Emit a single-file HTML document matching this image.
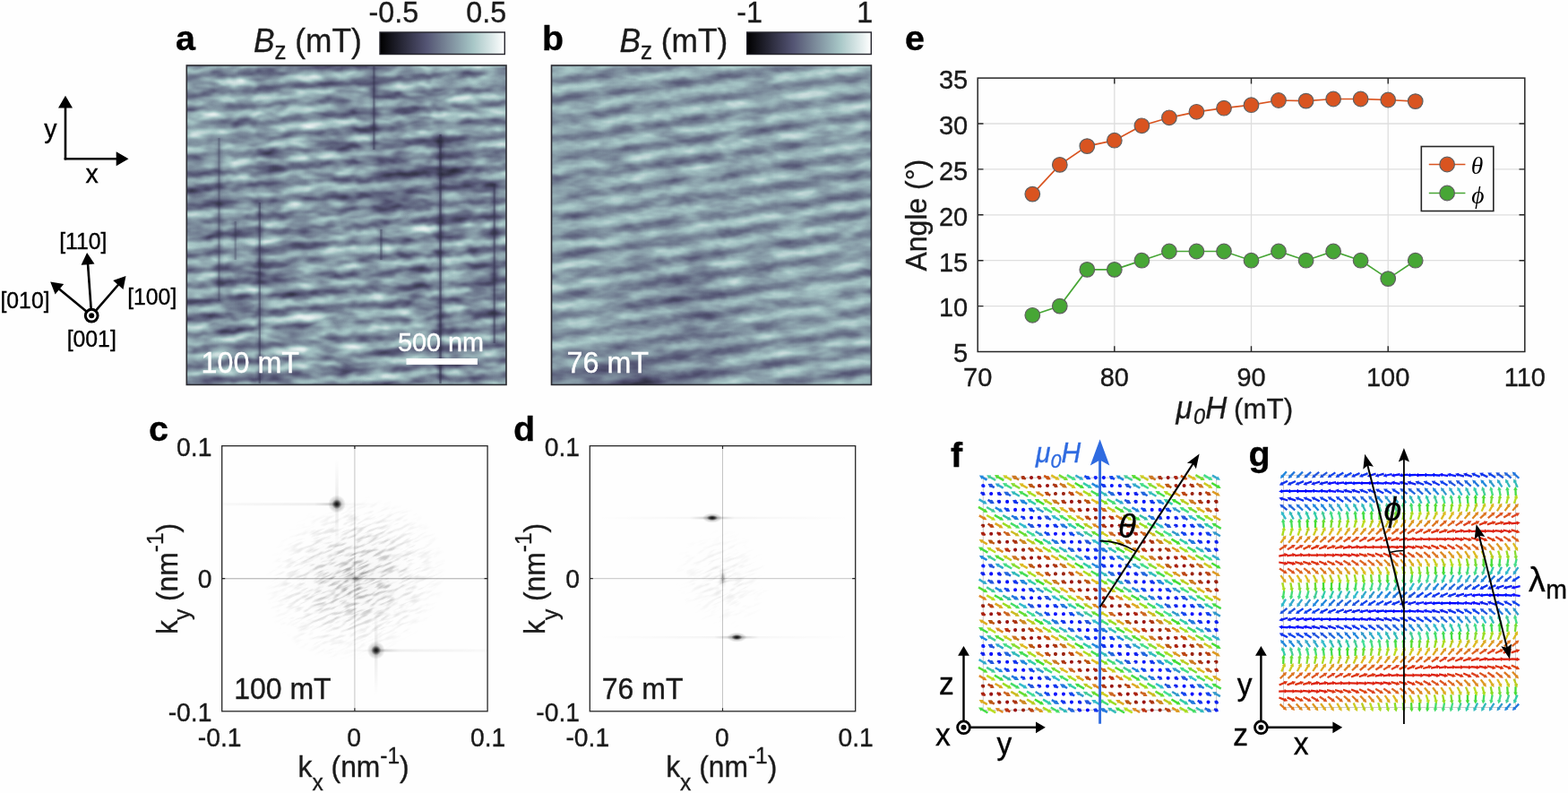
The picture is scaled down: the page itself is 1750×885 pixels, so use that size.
<!DOCTYPE html>
<html lang="en"><head><meta charset="utf-8"><title>Figure</title>
<style>html,body{margin:0;padding:0;background:#fff}svg{display:block}text{font-family:"Liberation Sans",sans-serif}</style></head>
<body>
<svg width="1750" height="885" viewBox="0 0 1750 885" fill="#1a1a1a">
<rect width="1750" height="885" fill="#fefefe"/>
<defs>
<linearGradient id="bone" x1="0" x2="1" y1="0" y2="0"><stop offset="0.0000" stop-color="#000000"/><stop offset="0.0625" stop-color="#0e0e13"/><stop offset="0.1250" stop-color="#1c1c27"/><stop offset="0.1875" stop-color="#2a2a3a"/><stop offset="0.2500" stop-color="#38384e"/><stop offset="0.3125" stop-color="#464661"/><stop offset="0.3750" stop-color="#545574"/><stop offset="0.4375" stop-color="#626881"/><stop offset="0.5000" stop-color="#707b8f"/><stop offset="0.5625" stop-color="#7e8e9d"/><stop offset="0.6250" stop-color="#8ba1ab"/><stop offset="0.6875" stop-color="#99b4b9"/><stop offset="0.7500" stop-color="#a8c7c7"/><stop offset="0.8125" stop-color="#bed5d5"/><stop offset="0.8750" stop-color="#d3e3e3"/><stop offset="0.9375" stop-color="#e9f1f1"/><stop offset="1.0000" stop-color="#ffffff"/></linearGradient>
<linearGradient id="sA" gradientUnits="userSpaceOnUse" x1="0" y1="78" x2="0" y2="95.87" spreadMethod="repeat"><stop offset="0.0000" stop-color="rgb(255,148,0)"/><stop offset="0.0833" stop-color="rgb(238,148,0)"/><stop offset="0.1667" stop-color="rgb(191,148,0)"/><stop offset="0.2500" stop-color="rgb(128,148,0)"/><stop offset="0.3333" stop-color="rgb(64,148,0)"/><stop offset="0.4167" stop-color="rgb(17,148,0)"/><stop offset="0.5000" stop-color="rgb(0,148,0)"/><stop offset="0.5833" stop-color="rgb(17,148,0)"/><stop offset="0.6667" stop-color="rgb(64,148,0)"/><stop offset="0.7500" stop-color="rgb(127,148,0)"/><stop offset="0.8333" stop-color="rgb(191,148,0)"/><stop offset="0.9167" stop-color="rgb(238,148,0)"/><stop offset="1.0000" stop-color="rgb(255,148,0)"/></linearGradient>
<linearGradient id="sB" gradientUnits="userSpaceOnUse" x1="0" y1="80" x2="0" y2="101.90" spreadMethod="repeat"><stop offset="0.0000" stop-color="rgb(255,157,0)"/><stop offset="0.0833" stop-color="rgb(238,157,0)"/><stop offset="0.1667" stop-color="rgb(191,157,0)"/><stop offset="0.2500" stop-color="rgb(128,157,0)"/><stop offset="0.3333" stop-color="rgb(64,157,0)"/><stop offset="0.4167" stop-color="rgb(17,157,0)"/><stop offset="0.5000" stop-color="rgb(0,157,0)"/><stop offset="0.5833" stop-color="rgb(17,157,0)"/><stop offset="0.6667" stop-color="rgb(64,157,0)"/><stop offset="0.7500" stop-color="rgb(127,157,0)"/><stop offset="0.8333" stop-color="rgb(191,157,0)"/><stop offset="0.9167" stop-color="rgb(238,157,0)"/><stop offset="1.0000" stop-color="rgb(255,157,0)"/></linearGradient>
<filter id="fA" filterUnits="userSpaceOnUse" x="208.3" y="73" width="356.7" height="356.4" color-interpolation-filters="sRGB">
<feTurbulence type="fractalNoise" baseFrequency="0.025 0.06" numOctaves="3" seed="3" result="n1"/>
<feColorMatrix in="n1" type="matrix" values="1 0 0 0 0  1 0 0 0 0  1 0 0 0 0  0 0 0 0 1" result="N"/>
<feTurbulence type="fractalNoise" baseFrequency="0.035 0.06" numOctaves="2" seed="7" result="n2"/>
<feColorMatrix in="n2" type="matrix" values="3.2 0 0 0 -0.9  3.2 0 0 0 -0.9  3.2 0 0 0 -0.9  0 0 0 0 1" result="E"/>
<feGaussianBlur in="SourceGraphic" stdDeviation="2.6 1.6" result="sb"/>
<feColorMatrix in="sb" type="matrix" values="1 0 0 0 0  1 0 0 0 0  1 0 0 0 0  0 0 0 0 1" result="S"/>
<feColorMatrix in="sb" type="matrix" values="0 1 0 0 0  0 1 0 0 0  0 1 0 0 0  0 0 0 0 1" result="Bs"/>
<feComposite in="S" in2="E" operator="arithmetic" k1="1" k2="0" k3="-0.5" k4="0.5" result="T"/>
<feComposite in="Bs" in2="T" operator="arithmetic" k1="0" k2="1" k3="0.44" k4="-0.220" result="U"/>
<feComposite in="U" in2="N" operator="arithmetic" k1="0" k2="1" k3="0.52" k4="-0.260" result="m"/>
<feComponentTransfer in="m"><feFuncR type="table" tableValues="0.000 0.027 0.055 0.082 0.109 0.137 0.164 0.191 0.219 0.246 0.273 0.301 0.328 0.355 0.383 0.410 0.437 0.465 0.492 0.520 0.547 0.574 0.602 0.629 0.658 0.701 0.744 0.786 0.829 0.872 0.915 0.957 1.000"/><feFuncG type="table" tableValues="0.000 0.027 0.055 0.082 0.109 0.137 0.164 0.191 0.219 0.246 0.273 0.301 0.331 0.369 0.407 0.444 0.482 0.519 0.557 0.595 0.632 0.670 0.707 0.745 0.781 0.809 0.836 0.863 0.891 0.918 0.945 0.973 1.000"/><feFuncB type="table" tableValues="0.000 0.038 0.076 0.114 0.152 0.190 0.228 0.266 0.304 0.342 0.380 0.418 0.453 0.480 0.508 0.535 0.562 0.590 0.617 0.645 0.672 0.699 0.727 0.754 0.781 0.809 0.836 0.863 0.891 0.918 0.945 0.973 1.000"/></feComponentTransfer>
</filter>
<filter id="fB" filterUnits="userSpaceOnUse" x="615.5" y="73" width="356.9" height="356.4" color-interpolation-filters="sRGB">
<feTurbulence type="fractalNoise" baseFrequency="0.03 0.08" numOctaves="3" seed="11" result="n1"/>
<feColorMatrix in="n1" type="matrix" values="1 0 0 0 0  1 0 0 0 0  1 0 0 0 0  0 0 0 0 1" result="N"/>
<feTurbulence type="fractalNoise" baseFrequency="0.03 0.05" numOctaves="2" seed="17" result="n2"/>
<feColorMatrix in="n2" type="matrix" values="2.8 0 0 0 -0.6  2.8 0 0 0 -0.6  2.8 0 0 0 -0.6  0 0 0 0 1" result="E"/>
<feGaussianBlur in="SourceGraphic" stdDeviation="2.6 1.6" result="sb"/>
<feColorMatrix in="sb" type="matrix" values="1 0 0 0 0  1 0 0 0 0  1 0 0 0 0  0 0 0 0 1" result="S"/>
<feColorMatrix in="sb" type="matrix" values="0 1 0 0 0  0 1 0 0 0  0 1 0 0 0  0 0 0 0 1" result="Bs"/>
<feComposite in="S" in2="E" operator="arithmetic" k1="1" k2="0" k3="-0.5" k4="0.5" result="T"/>
<feComposite in="Bs" in2="T" operator="arithmetic" k1="0" k2="1" k3="0.34" k4="-0.170" result="U"/>
<feComposite in="U" in2="N" operator="arithmetic" k1="0" k2="1" k3="0.3" k4="-0.150" result="m"/>
<feComponentTransfer in="m"><feFuncR type="table" tableValues="0.000 0.027 0.055 0.082 0.109 0.137 0.164 0.191 0.219 0.246 0.273 0.301 0.328 0.355 0.383 0.410 0.437 0.465 0.492 0.520 0.547 0.574 0.602 0.629 0.658 0.701 0.744 0.786 0.829 0.872 0.915 0.957 1.000"/><feFuncG type="table" tableValues="0.000 0.027 0.055 0.082 0.109 0.137 0.164 0.191 0.219 0.246 0.273 0.301 0.331 0.369 0.407 0.444 0.482 0.519 0.557 0.595 0.632 0.670 0.707 0.745 0.781 0.809 0.836 0.863 0.891 0.918 0.945 0.973 1.000"/><feFuncB type="table" tableValues="0.000 0.038 0.076 0.114 0.152 0.190 0.228 0.266 0.304 0.342 0.380 0.418 0.453 0.480 0.508 0.535 0.562 0.590 0.617 0.645 0.672 0.699 0.727 0.754 0.781 0.809 0.836 0.863 0.891 0.918 0.945 0.973 1.000"/></feComponentTransfer>
</filter>
</defs>
<path d="M73.0 178.4L73.0 119.2" stroke="#000" stroke-width="2.6" fill="none"/>
<path d="M73.0 106.8L81.0 120.6L73.0 120.6L65.0 120.6Z" fill="#000"/>
<path d="M71.7 177.2L131.1 177.2" stroke="#000" stroke-width="2.6" fill="none"/>
<path d="M143.5 177.2L129.7 185.2L129.7 177.2L129.7 169.2Z" fill="#000"/>
<text transform="translate(49.3 154.2) scale(1 1.03)" font-size="28.5" fill="#000" stroke="#000" stroke-width="0.35">y</text>
<text transform="translate(95.5 204) scale(1 1.03)" font-size="28.5" fill="#000" stroke="#000" stroke-width="0.35">x</text>
<path d="M102.2 352.2L98.0 293.8" stroke="#000" stroke-width="2.6" fill="none"/>
<path d="M97.1 282.0L105.5 294.6L98.1 295.2L90.6 295.7Z" fill="#000"/>
<path d="M102.2 352.2L65.4 321.9" stroke="#000" stroke-width="2.6" fill="none"/>
<path d="M56.2 314.4L71.2 317.0L66.4 322.8L61.6 328.6Z" fill="#000"/>
<path d="M102.2 352.2L132.7 317.0" stroke="#000" stroke-width="2.6" fill="none"/>
<path d="M140.5 308.0L137.5 322.9L131.9 318.0L126.2 313.1Z" fill="#000"/>
<circle cx="102.2" cy="352.2" r="6.9" fill="#fff" stroke="#000" stroke-width="3"/><circle cx="102.2" cy="352.2" r="3" fill="#000"/>
<text transform="translate(92.8 277.6) scale(1 1.03)" font-size="24.8" text-anchor="middle" fill="#000" stroke="#000" stroke-width="0.35">[110]</text>
<text transform="translate(28 343.8) scale(1 1.03)" font-size="24.8" text-anchor="middle" fill="#000" stroke="#000" stroke-width="0.35">[010]</text>
<text transform="translate(169.7 340.3) scale(1 1.03)" font-size="24.8" text-anchor="middle" fill="#000" stroke="#000" stroke-width="0.35">[100]</text>
<text transform="translate(102.2 386.5) scale(1 1.03)" font-size="24.8" text-anchor="middle" fill="#000" stroke="#000" stroke-width="0.35">[001]</text>
<text transform="translate(196 56) scale(1 0.96)" font-size="39.5" fill="#000" stroke="#000" stroke-width="0.35" font-weight="bold">a</text>
<text transform="translate(605 56) scale(1 0.96)" font-size="39.5" fill="#000" stroke="#000" stroke-width="0.35" font-weight="bold">b</text>
<text transform="translate(166 491.8) scale(1 0.96)" font-size="39.5" fill="#000" stroke="#000" stroke-width="0.35" font-weight="bold">c</text>
<text transform="translate(573 492) scale(1 0.96)" font-size="39.5" fill="#000" stroke="#000" stroke-width="0.35" font-weight="bold">d</text>
<text transform="translate(1010 55.5) scale(1 0.96)" font-size="39.5" fill="#000" stroke="#000" stroke-width="0.35" font-weight="bold">e</text>
<text transform="translate(1061 521) scale(1 0.96)" font-size="39.5" fill="#000" stroke="#000" stroke-width="0.35" font-weight="bold">f</text>
<text transform="translate(1393.5 520) scale(1 0.96)" font-size="39.5" fill="#000" stroke="#000" stroke-width="0.35" font-weight="bold">g</text>
<rect x="424.0" y="36" width="139.3" height="24.5" fill="url(#bone)" stroke="#24242c" stroke-width="1.4"/>
<text transform="translate(411.5 24.9) scale(1 1.03)" font-size="32.3" fill="#1a1a1a" stroke="#1a1a1a" stroke-width="0.35">-0.5</text>
<text transform="translate(565.2 24.9) scale(1 1.03)" font-size="32.3" text-anchor="end" fill="#1a1a1a" stroke="#1a1a1a" stroke-width="0.35">0.5</text>
<text transform="translate(283 58.3) scale(1 1.03)" font-size="35.3" fill="#1a1a1a" stroke="#1a1a1a" stroke-width="0.35"><tspan font-style="italic">B</tspan><tspan font-size="26" dy="7">z</tspan><tspan dy="-7"> (mT)</tspan></text>
<rect x="833.7" y="36" width="138.6" height="24.5" fill="url(#bone)" stroke="#24242c" stroke-width="1.4"/>
<text transform="translate(822.2 24.9) scale(1 1.03)" font-size="32.3" fill="#1a1a1a" stroke="#1a1a1a" stroke-width="0.35">-1</text>
<text transform="translate(974.2 24.9) scale(1 1.03)" font-size="32.3" text-anchor="end" fill="#1a1a1a" stroke="#1a1a1a" stroke-width="0.35">1</text>
<text transform="translate(691.5 58.3) scale(1 1.03)" font-size="35.3" fill="#1a1a1a" stroke="#1a1a1a" stroke-width="0.35"><tspan font-style="italic">B</tspan><tspan font-size="26" dy="7">z</tspan><tspan dy="-7"> (mT)</tspan></text>
<defs><radialGradient id="bk"><stop offset="0" stop-color="#800000" stop-opacity="1"/><stop offset="1" stop-color="#800000" stop-opacity="0"/></radialGradient><radialGradient id="bw"><stop offset="0" stop-color="#80ff00" stop-opacity="1"/><stop offset="1" stop-color="#80ff00" stop-opacity="0"/></radialGradient></defs>
<g filter="url(#fA)"><rect x="208.3" y="-60" width="6.1" height="620" fill="url(#sA)" transform="translate(0 0.4)"/><rect x="213.9" y="-60" width="6.1" height="620" fill="url(#sA)" transform="translate(0 0.5)"/><rect x="219.5" y="-60" width="6.1" height="620" fill="url(#sA)" transform="translate(0 0.0)"/><rect x="225.0" y="-60" width="6.1" height="620" fill="url(#sA)" transform="translate(0 -1.4)"/><rect x="230.6" y="-60" width="6.1" height="620" fill="url(#sA)" transform="translate(0 -1.4)"/><rect x="236.2" y="-60" width="6.1" height="620" fill="url(#sA)" transform="translate(0 -3.1)"/><rect x="241.8" y="-60" width="6.1" height="620" fill="url(#sA)" transform="translate(0 -3.1)"/><rect x="247.3" y="-60" width="6.1" height="620" fill="url(#sA)" transform="translate(0 -2.7)"/><rect x="252.9" y="-60" width="6.1" height="620" fill="url(#sA)" transform="translate(0 -4.0)"/><rect x="258.5" y="-60" width="6.1" height="620" fill="url(#sA)" transform="translate(0 -2.7)"/><rect x="264.1" y="-60" width="6.1" height="620" fill="url(#sA)" transform="translate(0 -4.9)"/><rect x="269.6" y="-60" width="6.1" height="620" fill="url(#sA)" transform="translate(0 -5.4)"/><rect x="275.2" y="-60" width="6.1" height="620" fill="url(#sA)" transform="translate(0 -5.8)"/><rect x="280.8" y="-60" width="6.1" height="620" fill="url(#sA)" transform="translate(0 -4.4)"/><rect x="286.4" y="-60" width="6.1" height="620" fill="url(#sA)" transform="translate(0 -6.3)"/><rect x="291.9" y="-60" width="6.1" height="620" fill="url(#sA)" transform="translate(0 -5.1)"/><rect x="297.5" y="-60" width="6.1" height="620" fill="url(#sA)" transform="translate(0 -5.3)"/><rect x="303.1" y="-60" width="6.1" height="620" fill="url(#sA)" transform="translate(0 -6.4)"/><rect x="308.7" y="-60" width="6.1" height="620" fill="url(#sA)" transform="translate(0 -6.2)"/><rect x="314.2" y="-60" width="6.1" height="620" fill="url(#sA)" transform="translate(0 -6.5)"/><rect x="319.8" y="-60" width="6.1" height="620" fill="url(#sA)" transform="translate(0 -8.5)"/><rect x="325.4" y="-60" width="6.1" height="620" fill="url(#sA)" transform="translate(0 -9.2)"/><rect x="331.0" y="-60" width="6.1" height="620" fill="url(#sA)" transform="translate(0 -9.8)"/><rect x="336.5" y="-60" width="6.1" height="620" fill="url(#sA)" transform="translate(0 -8.9)"/><rect x="342.1" y="-60" width="6.1" height="620" fill="url(#sA)" transform="translate(0 -9.1)"/><rect x="347.7" y="-60" width="6.1" height="620" fill="url(#sA)" transform="translate(0 -10.4)"/><rect x="353.2" y="-60" width="6.1" height="620" fill="url(#sA)" transform="translate(0 -10.4)"/><rect x="358.8" y="-60" width="6.1" height="620" fill="url(#sA)" transform="translate(0 -10.8)"/><rect x="364.4" y="-60" width="6.1" height="620" fill="url(#sA)" transform="translate(0 -12.2)"/><rect x="370.0" y="-60" width="6.1" height="620" fill="url(#sA)" transform="translate(0 -12.6)"/><rect x="375.6" y="-60" width="6.1" height="620" fill="url(#sA)" transform="translate(0 -11.1)"/><rect x="381.1" y="-60" width="6.1" height="620" fill="url(#sA)" transform="translate(0 -11.6)"/><rect x="386.7" y="-60" width="6.1" height="620" fill="url(#sA)" transform="translate(0 -12.5)"/><rect x="392.3" y="-60" width="6.1" height="620" fill="url(#sA)" transform="translate(0 -14.1)"/><rect x="397.8" y="-60" width="6.1" height="620" fill="url(#sA)" transform="translate(0 -12.4)"/><rect x="403.4" y="-60" width="6.1" height="620" fill="url(#sA)" transform="translate(0 -13.2)"/><rect x="409.0" y="-60" width="6.1" height="620" fill="url(#sA)" transform="translate(0 -13.2)"/><rect x="414.6" y="-60" width="6.1" height="620" fill="url(#sA)" transform="translate(0 -15.0)"/><rect x="420.1" y="-60" width="6.1" height="620" fill="url(#sA)" transform="translate(0 -14.3)"/><rect x="425.7" y="-60" width="6.1" height="620" fill="url(#sA)" transform="translate(0 -14.8)"/><rect x="431.3" y="-60" width="6.1" height="620" fill="url(#sA)" transform="translate(0 -14.9)"/><rect x="436.9" y="-60" width="6.1" height="620" fill="url(#sA)" transform="translate(0 -15.1)"/><rect x="442.4" y="-60" width="6.1" height="620" fill="url(#sA)" transform="translate(0 -16.9)"/><rect x="448.0" y="-60" width="6.1" height="620" fill="url(#sA)" transform="translate(0 -16.0)"/><rect x="453.6" y="-60" width="6.1" height="620" fill="url(#sA)" transform="translate(0 -16.3)"/><rect x="459.2" y="-60" width="6.1" height="620" fill="url(#sA)" transform="translate(0 -18.2)"/><rect x="464.7" y="-60" width="6.1" height="620" fill="url(#sA)" transform="translate(0 -18.9)"/><rect x="470.3" y="-60" width="6.1" height="620" fill="url(#sA)" transform="translate(0 -19.4)"/><rect x="475.9" y="-60" width="6.1" height="620" fill="url(#sA)" transform="translate(0 -17.7)"/><rect x="481.5" y="-60" width="6.1" height="620" fill="url(#sA)" transform="translate(0 -20.4)"/><rect x="487.0" y="-60" width="6.1" height="620" fill="url(#sA)" transform="translate(0 -19.6)"/><rect x="492.6" y="-60" width="6.1" height="620" fill="url(#sA)" transform="translate(0 -20.7)"/><rect x="498.2" y="-60" width="6.1" height="620" fill="url(#sA)" transform="translate(0 -19.7)"/><rect x="503.8" y="-60" width="6.1" height="620" fill="url(#sA)" transform="translate(0 -21.0)"/><rect x="509.3" y="-60" width="6.1" height="620" fill="url(#sA)" transform="translate(0 -20.2)"/><rect x="514.9" y="-60" width="6.1" height="620" fill="url(#sA)" transform="translate(0 -21.6)"/><rect x="520.5" y="-60" width="6.1" height="620" fill="url(#sA)" transform="translate(0 -22.9)"/><rect x="526.0" y="-60" width="6.1" height="620" fill="url(#sA)" transform="translate(0 -21.3)"/><rect x="531.6" y="-60" width="6.1" height="620" fill="url(#sA)" transform="translate(0 -22.1)"/><rect x="537.2" y="-60" width="6.1" height="620" fill="url(#sA)" transform="translate(0 -23.4)"/><rect x="542.8" y="-60" width="6.1" height="620" fill="url(#sA)" transform="translate(0 -22.8)"/><rect x="548.3" y="-60" width="6.1" height="620" fill="url(#sA)" transform="translate(0 -24.1)"/><rect x="553.9" y="-60" width="6.1" height="620" fill="url(#sA)" transform="translate(0 -23.5)"/><rect x="559.5" y="-60" width="6.0" height="620" fill="url(#sA)" transform="translate(0 -24.9)"/><ellipse cx="440" cy="200" rx="60" ry="60" fill="url(#bk)" opacity="0.25"/><ellipse cx="510" cy="190" rx="50" ry="70" fill="url(#bk)" opacity="0.22"/><ellipse cx="250" cy="215" rx="45" ry="40" fill="url(#bk)" opacity="0.12"/><ellipse cx="545" cy="330" rx="30" ry="80" fill="url(#bk)" opacity="0.15"/><ellipse cx="420" cy="110" rx="40" ry="40" fill="url(#bk)" opacity="0.12"/><ellipse cx="330" cy="300" rx="50" ry="40" fill="url(#bk)" opacity="0.12"/><ellipse cx="250" cy="150" rx="50" ry="50" fill="url(#bw)" opacity="0.2"/><ellipse cx="380" cy="370" rx="70" ry="50" fill="url(#bw)" opacity="0.18"/><ellipse cx="320" cy="120" rx="50" ry="40" fill="url(#bw)" opacity="0.15"/><ellipse cx="240" cy="400" rx="50" ry="30" fill="url(#bw)" opacity="0.15"/><ellipse cx="540" cy="130" rx="40" ry="50" fill="url(#bw)" opacity="0.15"/><rect x="242.5" y="154" width="4" height="182" fill="#800000" opacity="0.25"/><rect x="287.8" y="226" width="4" height="199" fill="#800000" opacity="0.33"/><rect x="260.7" y="247" width="4" height="43" fill="#800000" opacity="0.22"/><rect x="415.4" y="73" width="4" height="94" fill="#800000" opacity="0.33"/><rect x="423.4" y="256" width="4" height="34" fill="#800000" opacity="0.3"/><rect x="489.5" y="150" width="4" height="275" fill="#800000" opacity="0.42"/><rect x="549.7" y="205" width="4" height="178" fill="#800000" opacity="0.33"/></g>
<rect x="208.3" y="73" width="356.7" height="356.4" fill="none" stroke="#2a2a30" stroke-width="1.6"/>
<g fill="#2f2f4a"><rect x="243.3" y="154" width="2.4" height="182" opacity="0.28"/><rect x="288.6" y="226" width="2.4" height="202" opacity="0.4"/><rect x="261.5" y="247" width="2.4" height="43" opacity="0.25"/><rect x="416.2" y="74" width="2.4" height="93" opacity="0.4"/><rect x="424.2" y="256" width="2.4" height="34" opacity="0.35"/><rect x="490.3" y="150" width="2.4" height="278" opacity="0.5"/><rect x="550.5" y="205" width="2.4" height="178" opacity="0.4"/></g>
<g filter="url(#fB)"><rect x="615.5" y="-60" width="6.1" height="620" fill="url(#sB)" transform="translate(0 -0.6)"/><rect x="621.1" y="-60" width="6.1" height="620" fill="url(#sB)" transform="translate(0 -0.5)"/><rect x="626.6" y="-60" width="6.1" height="620" fill="url(#sB)" transform="translate(0 -2.0)"/><rect x="632.2" y="-60" width="6.1" height="620" fill="url(#sB)" transform="translate(0 -3.5)"/><rect x="637.8" y="-60" width="6.1" height="620" fill="url(#sB)" transform="translate(0 -3.3)"/><rect x="643.4" y="-60" width="6.1" height="620" fill="url(#sB)" transform="translate(0 -4.5)"/><rect x="648.9" y="-60" width="6.1" height="620" fill="url(#sB)" transform="translate(0 -5.2)"/><rect x="654.5" y="-60" width="6.1" height="620" fill="url(#sB)" transform="translate(0 -6.5)"/><rect x="660.1" y="-60" width="6.1" height="620" fill="url(#sB)" transform="translate(0 -7.4)"/><rect x="665.7" y="-60" width="6.1" height="620" fill="url(#sB)" transform="translate(0 -6.7)"/><rect x="671.2" y="-60" width="6.1" height="620" fill="url(#sB)" transform="translate(0 -7.7)"/><rect x="676.8" y="-60" width="6.1" height="620" fill="url(#sB)" transform="translate(0 -8.6)"/><rect x="682.4" y="-60" width="6.1" height="620" fill="url(#sB)" transform="translate(0 -10.2)"/><rect x="688.0" y="-60" width="6.1" height="620" fill="url(#sB)" transform="translate(0 -10.2)"/><rect x="693.5" y="-60" width="6.1" height="620" fill="url(#sB)" transform="translate(0 -12.1)"/><rect x="699.1" y="-60" width="6.1" height="620" fill="url(#sB)" transform="translate(0 -12.7)"/><rect x="704.7" y="-60" width="6.1" height="620" fill="url(#sB)" transform="translate(0 -12.4)"/><rect x="710.3" y="-60" width="6.1" height="620" fill="url(#sB)" transform="translate(0 -13.0)"/><rect x="715.8" y="-60" width="6.1" height="620" fill="url(#sB)" transform="translate(0 -15.3)"/><rect x="721.4" y="-60" width="6.1" height="620" fill="url(#sB)" transform="translate(0 -15.3)"/><rect x="727.0" y="-60" width="6.1" height="620" fill="url(#sB)" transform="translate(0 -16.2)"/><rect x="732.6" y="-60" width="6.1" height="620" fill="url(#sB)" transform="translate(0 -17.5)"/><rect x="738.1" y="-60" width="6.1" height="620" fill="url(#sB)" transform="translate(0 -18.3)"/><rect x="743.7" y="-60" width="6.1" height="620" fill="url(#sB)" transform="translate(0 -17.7)"/><rect x="749.3" y="-60" width="6.1" height="620" fill="url(#sB)" transform="translate(0 -20.1)"/><rect x="754.9" y="-60" width="6.1" height="620" fill="url(#sB)" transform="translate(0 -19.9)"/><rect x="760.4" y="-60" width="6.1" height="620" fill="url(#sB)" transform="translate(0 -21.5)"/><rect x="766.0" y="-60" width="6.1" height="620" fill="url(#sB)" transform="translate(0 -20.8)"/><rect x="771.6" y="-60" width="6.1" height="620" fill="url(#sB)" transform="translate(0 -22.5)"/><rect x="777.1" y="-60" width="6.1" height="620" fill="url(#sB)" transform="translate(0 -23.8)"/><rect x="782.7" y="-60" width="6.1" height="620" fill="url(#sB)" transform="translate(0 -24.5)"/><rect x="788.3" y="-60" width="6.1" height="620" fill="url(#sB)" transform="translate(0 -23.9)"/><rect x="793.9" y="-60" width="6.1" height="620" fill="url(#sB)" transform="translate(0 -25.4)"/><rect x="799.4" y="-60" width="6.1" height="620" fill="url(#sB)" transform="translate(0 -26.9)"/><rect x="805.0" y="-60" width="6.1" height="620" fill="url(#sB)" transform="translate(0 -26.1)"/><rect x="810.6" y="-60" width="6.1" height="620" fill="url(#sB)" transform="translate(0 -28.5)"/><rect x="816.2" y="-60" width="6.1" height="620" fill="url(#sB)" transform="translate(0 -27.8)"/><rect x="821.8" y="-60" width="6.1" height="620" fill="url(#sB)" transform="translate(0 -29.2)"/><rect x="827.3" y="-60" width="6.1" height="620" fill="url(#sB)" transform="translate(0 -30.4)"/><rect x="832.9" y="-60" width="6.1" height="620" fill="url(#sB)" transform="translate(0 -30.8)"/><rect x="838.5" y="-60" width="6.1" height="620" fill="url(#sB)" transform="translate(0 -32.5)"/><rect x="844.0" y="-60" width="6.1" height="620" fill="url(#sB)" transform="translate(0 -31.9)"/><rect x="849.6" y="-60" width="6.1" height="620" fill="url(#sB)" transform="translate(0 -33.4)"/><rect x="855.2" y="-60" width="6.1" height="620" fill="url(#sB)" transform="translate(0 -33.2)"/><rect x="860.8" y="-60" width="6.1" height="620" fill="url(#sB)" transform="translate(0 -35.7)"/><rect x="866.3" y="-60" width="6.1" height="620" fill="url(#sB)" transform="translate(0 -36.0)"/><rect x="871.9" y="-60" width="6.1" height="620" fill="url(#sB)" transform="translate(0 -36.9)"/><rect x="877.5" y="-60" width="6.1" height="620" fill="url(#sB)" transform="translate(0 -37.5)"/><rect x="883.1" y="-60" width="6.1" height="620" fill="url(#sB)" transform="translate(0 -37.8)"/><rect x="888.6" y="-60" width="6.1" height="620" fill="url(#sB)" transform="translate(0 -38.3)"/><rect x="894.2" y="-60" width="6.1" height="620" fill="url(#sB)" transform="translate(0 -39.1)"/><rect x="899.8" y="-60" width="6.1" height="620" fill="url(#sB)" transform="translate(0 -40.4)"/><rect x="905.4" y="-60" width="6.1" height="620" fill="url(#sB)" transform="translate(0 -41.6)"/><rect x="910.9" y="-60" width="6.1" height="620" fill="url(#sB)" transform="translate(0 -42.0)"/><rect x="916.5" y="-60" width="6.1" height="620" fill="url(#sB)" transform="translate(0 -41.9)"/><rect x="922.1" y="-60" width="6.1" height="620" fill="url(#sB)" transform="translate(0 -43.7)"/><rect x="927.7" y="-60" width="6.1" height="620" fill="url(#sB)" transform="translate(0 -44.5)"/><rect x="933.2" y="-60" width="6.1" height="620" fill="url(#sB)" transform="translate(0 -45.6)"/><rect x="938.8" y="-60" width="6.1" height="620" fill="url(#sB)" transform="translate(0 -46.3)"/><rect x="944.4" y="-60" width="6.1" height="620" fill="url(#sB)" transform="translate(0 -45.8)"/><rect x="950.0" y="-60" width="6.1" height="620" fill="url(#sB)" transform="translate(0 -46.6)"/><rect x="955.5" y="-60" width="6.1" height="620" fill="url(#sB)" transform="translate(0 -48.0)"/><rect x="961.1" y="-60" width="6.1" height="620" fill="url(#sB)" transform="translate(0 -49.8)"/><rect x="966.7" y="-60" width="6.1" height="620" fill="url(#sB)" transform="translate(0 -49.9)"/><rect x="972.3" y="-60" width="0.6" height="620" fill="url(#sB)" transform="translate(0 -49.3)"/><ellipse cx="700" cy="430" rx="120" ry="50" fill="url(#bk)" opacity="0.4"/><ellipse cx="760" cy="330" rx="90" ry="60" fill="url(#bk)" opacity="0.18"/><ellipse cx="790" cy="390" rx="60" ry="50" fill="url(#bk)" opacity="0.15"/><ellipse cx="900" cy="110" rx="90" ry="70" fill="url(#bw)" opacity="0.12"/><ellipse cx="650" cy="360" rx="50" ry="30" fill="url(#bw)" opacity="0.12"/><ellipse cx="930" cy="330" rx="50" ry="60" fill="url(#bw)" opacity="0.1"/></g>
<rect x="615.5" y="73" width="356.9" height="356.4" fill="none" stroke="#2a2a30" stroke-width="1.6"/>
<text transform="translate(224.6 416.2) scale(1 1.03)" font-size="32.3" fill="#fff" stroke="#fff" stroke-width="0.35">100 mT</text>
<text transform="translate(632.6 416.2) scale(1 1.03)" font-size="32.3" fill="#fff" stroke="#fff" stroke-width="0.35">76 mT</text>
<text transform="translate(492.1 391.6) scale(1 1.03)" font-size="28.8" text-anchor="middle" fill="#fff" stroke="#fff" stroke-width="0.35">500 nm</text>
<rect x="453.5" y="400" width="79.4" height="6.9" fill="#fff"/>
<defs><radialGradient id="sp"><stop offset="0" stop-color="#000" stop-opacity="1"/><stop offset="0.25" stop-color="#000" stop-opacity="0.75"/><stop offset="0.55" stop-color="#000" stop-opacity="0.2"/><stop offset="1" stop-color="#000" stop-opacity="0"/></radialGradient><radialGradient id="hz"><stop offset="0" stop-color="#000" stop-opacity="0.16"/><stop offset="0.5" stop-color="#000" stop-opacity="0.07"/><stop offset="1" stop-color="#000" stop-opacity="0"/></radialGradient></defs>
<filter id="spk" x="-0.1" y="-0.1" width="1.2" height="1.2" color-interpolation-filters="sRGB"><feTurbulence type="fractalNoise" baseFrequency="0.07 0.3" numOctaves="2" seed="5" result="n"/><feColorMatrix in="n" type="matrix" values="0 0 0 0 0  0 0 0 0 0  0 0 0 0 0  3.2 0 0 0 -1.45" result="a"/><feComposite in="a" in2="SourceGraphic" operator="in"/></filter>
<radialGradient id="hm"><stop offset="0" stop-color="#000" stop-opacity="1"/><stop offset="0.35" stop-color="#000" stop-opacity="0.6"/><stop offset="0.7" stop-color="#000" stop-opacity="0.25"/><stop offset="1" stop-color="#000" stop-opacity="0"/></radialGradient>
<linearGradient id="stL" x1="0" x2="1"><stop offset="0" stop-color="#000" stop-opacity="0.02"/><stop offset="0.8" stop-color="#000" stop-opacity="0.06"/><stop offset="1" stop-color="#000" stop-opacity="0.2"/></linearGradient>
<linearGradient id="stR" x1="1" x2="0"><stop offset="0" stop-color="#000" stop-opacity="0.02"/><stop offset="0.8" stop-color="#000" stop-opacity="0.06"/><stop offset="1" stop-color="#000" stop-opacity="0.2"/></linearGradient>
<linearGradient id="stV" x1="0" x2="0" y1="0" y2="1"><stop offset="0" stop-color="#000" stop-opacity="0"/><stop offset="0.5" stop-color="#000" stop-opacity="0.08"/><stop offset="1" stop-color="#000" stop-opacity="0"/></linearGradient>
<linearGradient id="stH" x1="0" x2="1"><stop offset="0" stop-color="#000" stop-opacity="0"/><stop offset="0.5" stop-color="#000" stop-opacity="0.2"/><stop offset="1" stop-color="#000" stop-opacity="0"/></linearGradient>
<rect x="247.7" y="497.6" width="296.3999999999999" height="296.19999999999993" fill="#fefefe"/>
<path d="M395.9 497.6V793.8M247.7 645.7H544.0999999999999" stroke="#c4c4c4" stroke-width="1" fill="none"/>
<g transform="rotate(-24 397 646)"><ellipse cx="397" cy="646" rx="105" ry="90" fill="url(#hm)" filter="url(#spk)" opacity="0.36"/></g><ellipse cx="397" cy="646" rx="70" ry="60" fill="url(#hz)" opacity="0.25"/><rect x="249" y="561.2" width="127" height="3" fill="url(#stL)"/><rect x="376" y="561.5" width="40" height="2.4" fill="url(#stR)" opacity="0.5"/><rect x="420" y="724.5" width="124" height="3" fill="url(#stR)"/><rect x="385" y="724.8" width="35" height="2.4" fill="url(#stL)" opacity="0.5"/><rect x="374.3" y="512" width="3.4" height="100" fill="url(#stV)"/><rect x="418" y="676" width="3.4" height="100" fill="url(#stV)"/><ellipse cx="376" cy="562.6" rx="10" ry="10" fill="url(#sp)" opacity="0.95"/><ellipse cx="419.7" cy="725.8" rx="10" ry="10" fill="url(#sp)" opacity="0.95"/><ellipse cx="397" cy="646" rx="8" ry="5" fill="url(#sp)" opacity="0.45"/><path d="M248 645.9H544" stroke="#000" stroke-opacity="0.07" stroke-width="1.8"/>
<rect x="247.7" y="497.6" width="296.3999999999999" height="296.19999999999993" fill="none" stroke="#262626" stroke-width="1.3"/>
<path d="M395.9 497.6v3.5M395.9 793.8v-3.5M247.7 645.7h3.5M544.0999999999999 645.7h-3.5" stroke="#262626" stroke-width="1.2" fill="none"/>
<text transform="translate(236.39999999999998 508.8) scale(1 1.03)" font-size="28.3" text-anchor="end" fill="#1a1a1a" stroke="#1a1a1a" stroke-width="0.35">0.1</text>
<text transform="translate(236.39999999999998 655.8) scale(1 1.03)" font-size="28.3" text-anchor="end" fill="#1a1a1a" stroke="#1a1a1a" stroke-width="0.35">0</text>
<text transform="translate(236.39999999999998 805.2) scale(1 1.03)" font-size="28.3" text-anchor="end" fill="#1a1a1a" stroke="#1a1a1a" stroke-width="0.35">-0.1</text>
<text transform="translate(245.2 832.6) scale(1 1.03)" font-size="28.3" text-anchor="middle" fill="#1a1a1a" stroke="#1a1a1a" stroke-width="0.35">-0.1</text>
<text transform="translate(395.2 832.6) scale(1 1.03)" font-size="28.3" text-anchor="middle" fill="#1a1a1a" stroke="#1a1a1a" stroke-width="0.35">0</text>
<text transform="translate(544.5999999999999 832.6) scale(1 1.03)" font-size="28.3" text-anchor="middle" fill="#1a1a1a" stroke="#1a1a1a" stroke-width="0.35">0.1</text>
<text transform="translate(332.59999999999997 867.1) scale(1 1.03)" font-size="31.8" fill="#1a1a1a" stroke="#1a1a1a" stroke-width="0.35">k<tspan font-size="24.5" dy="14.5">x</tspan><tspan dy="-14.5"> (nm</tspan><tspan font-size="24.5" dy="-15">-1</tspan><tspan dy="15">)</tspan></text>
<text transform="translate(197.5 708.0) rotate(-90) scale(1 1.03)" font-size="31.8" fill="#1a1a1a" stroke="#1a1a1a" stroke-width="0.35">k<tspan font-size="24.5" dy="14.5">y</tspan><tspan dy="-14.5"> (nm</tspan><tspan font-size="24.5" dy="-15">-1</tspan><tspan dy="15">)</tspan></text>
<text transform="translate(261.2 780) scale(1 1.03)" font-size="32" fill="#1a1a1a" stroke="#1a1a1a" stroke-width="0.35">100 mT</text>
<rect x="658.3" y="497.6" width="296.4" height="296.19999999999993" fill="#fefefe"/>
<path d="M806.5 497.6V793.8M658.3 645.7H954.6999999999999" stroke="#c4c4c4" stroke-width="1" fill="none"/>
<g transform="rotate(-24 806 646)"><ellipse cx="806" cy="646" rx="55" ry="60" fill="url(#hm)" filter="url(#spk)" opacity="0.1"/></g><rect x="665" y="576.8" width="285" height="2.4" fill="url(#stH)" opacity="0.2"/><rect x="665" y="710" width="285" height="2.4" fill="url(#stH)" opacity="0.2"/><rect x="770" y="576.6" width="50" height="2.8" fill="url(#stH)" opacity="0.9"/><rect x="797" y="709.8" width="50" height="2.8" fill="url(#stH)" opacity="0.9"/><ellipse cx="794.9" cy="578" rx="11" ry="5.5" fill="url(#sp)" opacity="0.95"/><ellipse cx="822.4" cy="711.2" rx="11" ry="5.5" fill="url(#sp)" opacity="0.95"/><ellipse cx="806.8" cy="645" rx="5" ry="12" fill="url(#sp)" opacity="0.3"/>
<rect x="658.3" y="497.6" width="296.4" height="296.19999999999993" fill="none" stroke="#262626" stroke-width="1.3"/>
<path d="M806.5 497.6v3.5M806.5 793.8v-3.5M658.3 645.7h3.5M954.6999999999999 645.7h-3.5" stroke="#262626" stroke-width="1.2" fill="none"/>
<text transform="translate(647.0 508.8) scale(1 1.03)" font-size="28.3" text-anchor="end" fill="#1a1a1a" stroke="#1a1a1a" stroke-width="0.35">0.1</text>
<text transform="translate(647.0 655.8) scale(1 1.03)" font-size="28.3" text-anchor="end" fill="#1a1a1a" stroke="#1a1a1a" stroke-width="0.35">0</text>
<text transform="translate(647.0 805.2) scale(1 1.03)" font-size="28.3" text-anchor="end" fill="#1a1a1a" stroke="#1a1a1a" stroke-width="0.35">-0.1</text>
<text transform="translate(655.8 832.6) scale(1 1.03)" font-size="28.3" text-anchor="middle" fill="#1a1a1a" stroke="#1a1a1a" stroke-width="0.35">-0.1</text>
<text transform="translate(805.8 832.6) scale(1 1.03)" font-size="28.3" text-anchor="middle" fill="#1a1a1a" stroke="#1a1a1a" stroke-width="0.35">0</text>
<text transform="translate(955.1999999999999 832.6) scale(1 1.03)" font-size="28.3" text-anchor="middle" fill="#1a1a1a" stroke="#1a1a1a" stroke-width="0.35">0.1</text>
<text transform="translate(743.2 867.1) scale(1 1.03)" font-size="31.8" fill="#1a1a1a" stroke="#1a1a1a" stroke-width="0.35">k<tspan font-size="24.5" dy="14.5">x</tspan><tspan dy="-14.5"> (nm</tspan><tspan font-size="24.5" dy="-15">-1</tspan><tspan dy="15">)</tspan></text>
<text transform="translate(608.0999999999999 708.0) rotate(-90) scale(1 1.03)" font-size="31.8" fill="#1a1a1a" stroke="#1a1a1a" stroke-width="0.35">k<tspan font-size="24.5" dy="14.5">y</tspan><tspan dy="-14.5"> (nm</tspan><tspan font-size="24.5" dy="-15">-1</tspan><tspan dy="15">)</tspan></text>
<text transform="translate(671.8 780) scale(1 1.03)" font-size="32" fill="#1a1a1a" stroke="#1a1a1a" stroke-width="0.35">76 mT</text>
<path d="M1243.8 87.1V392.5M1396.5 87.1V392.5M1549.2 87.1V392.5M1091.2 341.6H1701.8M1091.2 290.7H1701.8M1091.2 239.8H1701.8M1091.2 188.9H1701.8M1091.2 138.0H1701.8" stroke="#dedede" stroke-width="1.3" fill="none"/>
<rect x="1091.2" y="87.1" width="610.5999999999999" height="305.4" fill="none" stroke="#262626" stroke-width="1.5"/>
<path d="M1243.8 87.1v6.3M1243.8 392.5v-6.3M1396.5 87.1v6.3M1396.5 392.5v-6.3M1549.2 87.1v6.3M1549.2 392.5v-6.3M1091.2 341.6h6.3M1701.8 341.6h-6.3M1091.2 290.7h6.3M1701.8 290.7h-6.3M1091.2 239.8h6.3M1701.8 239.8h-6.3M1091.2 188.9h6.3M1701.8 188.9h-6.3M1091.2 138.0h6.3M1701.8 138.0h-6.3" stroke="#262626" stroke-width="1.4" fill="none"/>
<text transform="translate(1080.2 404.3) scale(1 1.03)" font-size="29" text-anchor="end" fill="#1a1a1a" stroke="#1a1a1a" stroke-width="0.35">5</text>
<text transform="translate(1080.2 353.40000000000003) scale(1 1.03)" font-size="29" text-anchor="end" fill="#1a1a1a" stroke="#1a1a1a" stroke-width="0.35">10</text>
<text transform="translate(1080.2 302.5) scale(1 1.03)" font-size="29" text-anchor="end" fill="#1a1a1a" stroke="#1a1a1a" stroke-width="0.35">15</text>
<text transform="translate(1080.2 251.60000000000002) scale(1 1.03)" font-size="29" text-anchor="end" fill="#1a1a1a" stroke="#1a1a1a" stroke-width="0.35">20</text>
<text transform="translate(1080.2 200.70000000000002) scale(1 1.03)" font-size="29" text-anchor="end" fill="#1a1a1a" stroke="#1a1a1a" stroke-width="0.35">25</text>
<text transform="translate(1080.2 149.80000000000004) scale(1 1.03)" font-size="29" text-anchor="end" fill="#1a1a1a" stroke="#1a1a1a" stroke-width="0.35">30</text>
<text transform="translate(1080.2 98.90000000000002) scale(1 1.03)" font-size="29" text-anchor="end" fill="#1a1a1a" stroke="#1a1a1a" stroke-width="0.35">35</text>
<text transform="translate(1091.2 431.4) scale(1 1.03)" font-size="29" text-anchor="middle" fill="#1a1a1a" stroke="#1a1a1a" stroke-width="0.35">70</text>
<text transform="translate(1243.85 431.4) scale(1 1.03)" font-size="29" text-anchor="middle" fill="#1a1a1a" stroke="#1a1a1a" stroke-width="0.35">80</text>
<text transform="translate(1396.5 431.4) scale(1 1.03)" font-size="29" text-anchor="middle" fill="#1a1a1a" stroke="#1a1a1a" stroke-width="0.35">90</text>
<text transform="translate(1549.15 431.4) scale(1 1.03)" font-size="29" text-anchor="middle" fill="#1a1a1a" stroke="#1a1a1a" stroke-width="0.35">100</text>
<text transform="translate(1701.8 431.4) scale(1 1.03)" font-size="29" text-anchor="middle" fill="#1a1a1a" stroke="#1a1a1a" stroke-width="0.35">110</text>
<text transform="translate(1033.8 240.2) rotate(-90) scale(1 1.03)" font-size="32" text-anchor="middle" fill="#1a1a1a" stroke="#1a1a1a" stroke-width="0.35">Angle (°)</text>
<text transform="translate(1312.5 466.6) scale(1 1.03)" font-size="32" fill="#1a1a1a" stroke="#1a1a1a" stroke-width="0.35"><tspan font-style="italic" font-size="33.3">μ</tspan><tspan font-style="italic" font-size="23.5" dy="6" dx="1.2">0</tspan><tspan font-style="italic" font-size="33.3" dy="-6" dx="0.3">H</tspan><tspan font-size="31.3" dx="-1"> (mT)</tspan></text>
<path d="M1152.3 216.6L1182.8 183.9L1213.3 163.1L1243.8 156.7L1274.4 140.3L1304.9 131.3L1335.4 124.8L1366.0 120.7L1396.5 117.2L1427.0 112.0L1457.6 112.6L1488.1 110.5L1518.6 110.5L1549.2 111.5L1579.7 113.1" stroke="#d95420" stroke-width="1.7" fill="none"/>
<g fill="#d95420" stroke="#606060" stroke-width="1.2"><circle cx="1152.3" cy="216.6" r="8.3"/><circle cx="1182.8" cy="183.9" r="8.3"/><circle cx="1213.3" cy="163.1" r="8.3"/><circle cx="1243.8" cy="156.7" r="8.3"/><circle cx="1274.4" cy="140.3" r="8.3"/><circle cx="1304.9" cy="131.3" r="8.3"/><circle cx="1335.4" cy="124.8" r="8.3"/><circle cx="1366.0" cy="120.7" r="8.3"/><circle cx="1396.5" cy="117.2" r="8.3"/><circle cx="1427.0" cy="112.0" r="8.3"/><circle cx="1457.6" cy="112.6" r="8.3"/><circle cx="1488.1" cy="110.5" r="8.3"/><circle cx="1518.6" cy="110.5" r="8.3"/><circle cx="1549.2" cy="111.5" r="8.3"/><circle cx="1579.7" cy="113.1" r="8.3"/></g>
<path d="M1152.3 351.8L1182.8 341.6L1213.3 300.9L1243.8 300.9L1274.4 290.7L1304.9 280.5L1335.4 280.5L1366.0 280.5L1396.5 290.7L1427.0 280.5L1457.6 290.7L1488.1 280.5L1518.6 290.7L1549.2 311.1L1579.7 290.7" stroke="#47a635" stroke-width="1.7" fill="none"/>
<g fill="#47a635" stroke="#606060" stroke-width="1.2"><circle cx="1152.3" cy="351.8" r="8.3"/><circle cx="1182.8" cy="341.6" r="8.3"/><circle cx="1213.3" cy="300.9" r="8.3"/><circle cx="1243.8" cy="300.9" r="8.3"/><circle cx="1274.4" cy="290.7" r="8.3"/><circle cx="1304.9" cy="280.5" r="8.3"/><circle cx="1335.4" cy="280.5" r="8.3"/><circle cx="1366.0" cy="280.5" r="8.3"/><circle cx="1396.5" cy="290.7" r="8.3"/><circle cx="1427.0" cy="280.5" r="8.3"/><circle cx="1457.6" cy="290.7" r="8.3"/><circle cx="1488.1" cy="280.5" r="8.3"/><circle cx="1518.6" cy="290.7" r="8.3"/><circle cx="1549.2" cy="311.1" r="8.3"/><circle cx="1579.7" cy="290.7" r="8.3"/></g>
<rect x="1586.3" y="163.5" width="80.5" height="72" fill="#fefefe" stroke="#262626" stroke-width="1.6"/>
<path d="M1594.8 183.5H1635.4" stroke="#d95420" stroke-width="1.7"/><circle cx="1615.1" cy="183.5" r="8.3" fill="#d95420" stroke="#606060" stroke-width="1.2"/>
<path d="M1594.8 215.5H1635.4" stroke="#47a635" stroke-width="1.7"/><circle cx="1615.1" cy="215.5" r="8.3" fill="#47a635" stroke="#606060" stroke-width="1.2"/>
<text x="1641.8" y="194.3" font-size="27.5" style="font-family:'Liberation Serif','DejaVu Serif',serif" font-style="italic" fill="#000">θ</text>
<text x="1642.3" y="227.3" font-size="27.5" style="font-family:'Liberation Serif','DejaVu Serif',serif" font-style="italic" fill="#000">ϕ</text>
<rect x="1097.2" y="533.1" width="260.3" height="259.4" fill="none" stroke="#aaa" stroke-width="0.6"/>
<g><path fill="#2288dd" d="M1102.2 534.5L1097.4 531.8L1097.9 530.8L1092.9 530.6L1095.6 534.9L1096.1 533.9L1100.9 536.7ZM1254.7 534.5L1250.0 531.8L1250.5 530.8L1245.5 530.6L1248.2 534.9L1248.7 533.9L1253.5 536.7ZM1218.0 540.7L1222.7 543.4L1222.1 544.3L1227.1 544.5L1224.5 540.3L1223.9 541.2L1219.2 538.5ZM1140.03 559.9a2.05 2.05 0 1 0 4.1 0a2.05 2.05 0 1 0-4.1 0ZM1146.9 561.3L1142.3 558.6L1142.8 557.7L1137.8 557.5L1140.5 561.7L1141.0 560.8L1145.7 563.5ZM1292.62 559.9a2.05 2.05 0 1 0 4.1 0a2.05 2.05 0 1 0-4.1 0ZM1299.5 561.3L1294.9 558.6L1295.4 557.7L1290.4 557.5L1293.1 561.7L1293.6 560.8L1298.3 563.5ZM1110.2 567.4L1115.0 570.2L1114.4 571.2L1119.5 571.4L1116.8 567.1L1116.2 568.1L1111.4 565.3ZM1262.8 567.4L1267.6 570.2L1267.0 571.2L1272.1 571.4L1269.4 567.1L1268.8 568.1L1264.0 565.3ZM1102.2 624.0L1097.4 621.2L1097.9 620.3L1092.9 620.1L1095.6 624.3L1096.1 623.4L1100.9 626.1ZM1254.7 624.0L1250.0 621.2L1250.5 620.3L1245.5 620.1L1248.2 624.3L1248.7 623.4L1253.5 626.1ZM1218.0 630.1L1222.7 632.8L1222.1 633.8L1227.1 634.0L1224.5 629.7L1223.9 630.7L1219.2 627.9ZM1140.03 649.4a2.05 2.05 0 1 0 4.1 0a2.05 2.05 0 1 0-4.1 0ZM1146.9 650.7L1142.3 648.1L1142.8 647.1L1137.8 646.9L1140.5 651.2L1141.0 650.2L1145.7 652.9ZM1292.62 649.4a2.05 2.05 0 1 0 4.1 0a2.05 2.05 0 1 0-4.1 0ZM1299.5 650.7L1294.9 648.1L1295.4 647.1L1290.4 646.9L1293.1 651.2L1293.6 650.2L1298.3 652.9ZM1110.2 656.9L1115.0 659.7L1114.4 660.6L1119.5 660.9L1116.8 656.6L1116.2 657.5L1111.4 654.7ZM1262.8 656.9L1267.6 659.7L1267.0 660.6L1272.1 660.9L1269.4 656.6L1268.8 657.5L1264.0 654.7ZM1102.2 713.4L1097.4 710.7L1097.9 709.7L1092.9 709.5L1095.6 713.8L1096.1 712.8L1100.9 715.6ZM1254.7 713.4L1250.0 710.7L1250.5 709.7L1245.5 709.5L1248.2 713.8L1248.7 712.8L1253.5 715.6ZM1218.0 719.6L1222.7 722.3L1222.1 723.2L1227.1 723.4L1224.5 719.2L1223.9 720.1L1219.2 717.4ZM1140.03 738.8a2.05 2.05 0 1 0 4.1 0a2.05 2.05 0 1 0-4.1 0ZM1146.9 740.2L1142.3 737.5L1142.8 736.6L1137.8 736.4L1140.5 740.6L1141.0 739.7L1145.7 742.4ZM1292.62 738.8a2.05 2.05 0 1 0 4.1 0a2.05 2.05 0 1 0-4.1 0ZM1299.5 740.2L1294.9 737.5L1295.4 736.6L1290.4 736.4L1293.1 740.6L1293.6 739.7L1298.3 742.4ZM1110.2 746.3L1115.0 749.1L1114.4 750.1L1119.5 750.3L1116.8 746.0L1116.2 747.0L1111.4 744.2ZM1262.8 746.3L1267.6 749.1L1267.0 750.1L1272.1 750.3L1269.4 746.0L1268.8 747.0L1264.0 744.2Z"/><path fill="#44cc99" d="M1111.8 534.9L1105.7 531.4L1106.2 530.4L1101.2 530.2L1103.9 534.5L1104.4 533.5L1110.6 537.1ZM1264.4 534.9L1258.3 531.4L1258.8 530.4L1253.8 530.2L1256.5 534.5L1257.0 533.5L1263.2 537.1ZM1100.5 567.1L1106.7 570.6L1106.1 571.6L1111.2 571.8L1108.5 567.5L1107.9 568.4L1101.8 564.9ZM1253.1 567.1L1259.3 570.6L1258.7 571.6L1263.8 571.8L1261.1 567.5L1260.5 568.4L1254.4 564.9ZM1219.6 597.5L1213.4 594.0L1213.9 593.0L1208.8 592.8L1211.6 597.1L1212.1 596.1L1218.3 599.7ZM1111.8 624.4L1105.7 620.8L1106.2 619.9L1101.2 619.7L1103.9 623.9L1104.4 623.0L1110.6 626.5ZM1264.4 624.4L1258.3 620.8L1258.8 619.9L1253.8 619.7L1256.5 623.9L1257.0 623.0L1263.2 626.5ZM1100.5 656.5L1106.7 660.1L1106.1 661.0L1111.2 661.2L1108.5 656.9L1107.9 657.9L1101.8 654.3ZM1253.1 656.5L1259.3 660.1L1258.7 661.0L1263.8 661.2L1261.1 656.9L1260.5 657.9L1254.4 654.3ZM1219.6 687.0L1213.4 683.4L1213.9 682.5L1208.8 682.2L1211.6 686.5L1212.1 685.6L1218.3 689.2ZM1111.8 713.8L1105.7 710.3L1106.2 709.3L1101.2 709.1L1103.9 713.4L1104.4 712.4L1110.6 716.0ZM1264.4 713.8L1258.3 710.3L1258.8 709.3L1253.8 709.1L1256.5 713.4L1257.0 712.4L1263.2 716.0ZM1100.5 746.0L1106.7 749.5L1106.1 750.5L1111.2 750.7L1108.5 746.4L1107.9 747.3L1101.8 743.8ZM1253.1 746.0L1259.3 749.5L1258.7 750.5L1263.8 750.7L1261.1 746.4L1260.5 747.3L1254.4 743.8ZM1219.6 776.4L1213.4 772.9L1213.9 771.9L1208.8 771.7L1211.6 776.0L1212.1 775.0L1218.3 778.6Z"/><path fill="#55dd33" d="M1121.0 535.0L1114.5 531.3L1115.0 530.3L1110.0 530.1L1112.7 534.4L1113.2 533.4L1119.7 537.2ZM1273.6 535.0L1267.1 531.3L1267.6 530.3L1262.6 530.1L1265.3 534.4L1265.8 533.4L1272.3 537.2ZM1091.4 567.0L1097.9 570.7L1097.3 571.7L1102.4 571.9L1099.7 567.6L1099.1 568.5L1092.6 564.8ZM1244.0 567.0L1250.5 570.7L1249.9 571.7L1255.0 571.9L1252.3 567.6L1251.7 568.5L1245.2 564.8ZM1121.0 624.5L1114.5 620.7L1115.0 619.8L1110.0 619.6L1112.7 623.8L1113.2 622.9L1119.7 626.6ZM1273.6 624.5L1267.1 620.7L1267.6 619.8L1262.6 619.6L1265.3 623.8L1265.8 622.9L1272.3 626.6ZM1091.4 656.4L1097.9 660.2L1097.3 661.1L1102.4 661.3L1099.7 657.0L1099.1 658.0L1092.6 654.3ZM1244.0 656.4L1250.5 660.2L1249.9 661.1L1255.0 661.3L1252.3 657.0L1251.7 658.0L1245.2 654.3ZM1121.0 713.9L1114.5 710.2L1115.0 709.2L1110.0 709.0L1112.7 713.3L1113.2 712.3L1119.7 716.1ZM1273.6 713.9L1267.1 710.2L1267.6 709.2L1262.6 709.0L1265.3 713.3L1265.8 712.3L1272.3 716.1ZM1091.4 745.9L1097.9 749.6L1097.3 750.6L1102.4 750.8L1099.7 746.5L1099.1 747.4L1092.6 743.7ZM1244.0 745.9L1250.5 749.6L1249.9 750.6L1255.0 750.8L1252.3 746.5L1251.7 747.4L1245.2 743.7Z"/><path fill="#cccc22" d="M1129.6 534.8L1123.8 531.5L1124.3 530.5L1119.2 530.3L1122.0 534.6L1122.5 533.6L1128.4 537.0ZM1282.2 534.8L1276.4 531.5L1276.9 530.5L1271.8 530.3L1274.6 534.6L1275.1 533.6L1281.0 537.0ZM1190.4 540.3L1196.3 543.7L1195.8 544.7L1200.8 544.9L1198.1 540.6L1197.6 541.5L1191.6 538.1ZM1343.0 540.3L1348.9 543.7L1348.4 544.7L1353.4 544.9L1350.7 540.6L1350.2 541.5L1344.2 538.1ZM1235.3 567.2L1241.2 570.5L1240.6 571.5L1245.7 571.7L1243.0 567.4L1242.4 568.4L1236.6 565.0ZM1237.3 597.4L1231.5 594.1L1232.1 593.1L1227.0 592.9L1229.7 597.2L1230.3 596.3L1236.0 599.6ZM1129.6 624.3L1123.8 620.9L1124.3 619.9L1119.2 619.7L1122.0 624.0L1122.5 623.1L1128.4 626.4ZM1282.2 624.3L1276.4 620.9L1276.9 619.9L1271.8 619.7L1274.6 624.0L1275.1 623.1L1281.0 626.4ZM1190.4 629.7L1196.3 633.2L1195.8 634.1L1200.8 634.3L1198.1 630.0L1197.6 631.0L1191.6 627.6ZM1343.0 629.7L1348.9 633.2L1348.4 634.1L1353.4 634.3L1350.7 630.0L1350.2 631.0L1344.2 627.6ZM1235.3 656.6L1241.2 660.0L1240.6 660.9L1245.7 661.1L1243.0 656.8L1242.4 657.8L1236.6 654.4ZM1237.3 686.9L1231.5 683.5L1232.1 682.6L1227.0 682.4L1229.7 686.7L1230.3 685.7L1236.0 689.0ZM1129.6 713.7L1123.8 710.4L1124.3 709.4L1119.2 709.2L1122.0 713.5L1122.5 712.5L1128.4 715.9ZM1282.2 713.7L1276.4 710.4L1276.9 709.4L1271.8 709.2L1274.6 713.5L1275.1 712.5L1281.0 715.9ZM1190.4 719.2L1196.3 722.6L1195.8 723.6L1200.8 723.8L1198.1 719.5L1197.6 720.4L1191.6 717.0ZM1343.0 719.2L1348.9 722.6L1348.4 723.6L1353.4 723.8L1350.7 719.5L1350.2 720.4L1344.2 717.0ZM1235.3 746.1L1241.2 749.4L1240.6 750.4L1245.7 750.6L1243.0 746.3L1242.4 747.3L1236.6 743.9ZM1237.3 776.3L1231.5 773.0L1232.1 772.0L1227.0 771.8L1229.7 776.1L1230.3 775.2L1236.0 778.5Z"/><path fill="#cc7722" d="M1131.05 533.1a2.05 2.05 0 1 0 4.1 0a2.05 2.05 0 1 0-4.1 0ZM1137.8 534.4L1133.3 531.8L1133.9 530.8L1129.0 530.7L1131.5 534.9L1132.1 533.9L1136.6 536.5ZM1283.65 533.1a2.05 2.05 0 1 0 4.1 0a2.05 2.05 0 1 0-4.1 0ZM1290.4 534.4L1285.9 531.8L1286.5 530.8L1281.6 530.7L1284.1 534.9L1284.7 533.9L1289.1 536.5ZM1184.91 542.0a2.05 2.05 0 1 0 4.1 0a2.05 2.05 0 1 0-4.1 0ZM1182.2 540.7L1186.7 543.4L1186.2 544.3L1191.1 544.4L1188.5 540.2L1188.0 541.2L1183.5 538.6ZM1337.50 542.0a2.05 2.05 0 1 0 4.1 0a2.05 2.05 0 1 0-4.1 0ZM1334.8 540.7L1339.3 543.4L1338.8 544.3L1343.7 544.4L1341.1 540.2L1340.6 541.2L1336.0 538.6ZM1175.93 559.9a2.05 2.05 0 1 0 4.1 0a2.05 2.05 0 1 0-4.1 0ZM1182.8 561.3L1178.2 558.6L1178.7 557.7L1173.8 557.5L1176.4 561.7L1176.9 560.8L1181.5 563.4ZM1328.53 559.9a2.05 2.05 0 1 0 4.1 0a2.05 2.05 0 1 0-4.1 0ZM1335.4 561.3L1330.8 558.6L1331.3 557.7L1326.4 557.5L1329.0 561.7L1329.5 560.8L1334.1 563.4ZM1131.05 622.6a2.05 2.05 0 1 0 4.1 0a2.05 2.05 0 1 0-4.1 0ZM1137.8 623.8L1133.3 621.2L1133.9 620.3L1129.0 620.2L1131.5 624.4L1132.1 623.4L1136.6 626.0ZM1283.65 622.6a2.05 2.05 0 1 0 4.1 0a2.05 2.05 0 1 0-4.1 0ZM1290.4 623.8L1285.9 621.2L1286.5 620.3L1281.6 620.2L1284.1 624.4L1284.7 623.4L1289.1 626.0ZM1184.91 631.5a2.05 2.05 0 1 0 4.1 0a2.05 2.05 0 1 0-4.1 0ZM1182.2 630.2L1186.7 632.8L1186.2 633.8L1191.1 633.9L1188.5 629.7L1188.0 630.7L1183.5 628.0ZM1337.50 631.5a2.05 2.05 0 1 0 4.1 0a2.05 2.05 0 1 0-4.1 0ZM1334.8 630.2L1339.3 632.8L1338.8 633.8L1343.7 633.9L1341.1 629.7L1340.6 630.7L1336.0 628.0ZM1175.93 649.4a2.05 2.05 0 1 0 4.1 0a2.05 2.05 0 1 0-4.1 0ZM1182.8 650.7L1178.2 648.1L1178.7 647.1L1173.8 647.0L1176.4 651.2L1176.9 650.2L1181.5 652.9ZM1328.53 649.4a2.05 2.05 0 1 0 4.1 0a2.05 2.05 0 1 0-4.1 0ZM1335.4 650.7L1330.8 648.1L1331.3 647.1L1326.4 647.0L1329.0 651.2L1329.5 650.2L1334.1 652.9ZM1131.05 712.0a2.05 2.05 0 1 0 4.1 0a2.05 2.05 0 1 0-4.1 0ZM1137.8 713.3L1133.3 710.7L1133.9 709.7L1129.0 709.6L1131.5 713.8L1132.1 712.8L1136.6 715.4ZM1283.65 712.0a2.05 2.05 0 1 0 4.1 0a2.05 2.05 0 1 0-4.1 0ZM1290.4 713.3L1285.9 710.7L1286.5 709.7L1281.6 709.6L1284.1 713.8L1284.7 712.8L1289.1 715.4ZM1184.91 720.9a2.05 2.05 0 1 0 4.1 0a2.05 2.05 0 1 0-4.1 0ZM1182.2 719.6L1186.7 722.3L1186.2 723.2L1191.1 723.3L1188.5 719.1L1188.0 720.1L1183.5 717.5ZM1337.50 720.9a2.05 2.05 0 1 0 4.1 0a2.05 2.05 0 1 0-4.1 0ZM1334.8 719.6L1339.3 722.3L1338.8 723.2L1343.7 723.3L1341.1 719.1L1340.6 720.1L1336.0 717.5ZM1175.93 738.8a2.05 2.05 0 1 0 4.1 0a2.05 2.05 0 1 0-4.1 0ZM1182.8 740.2L1178.2 737.5L1178.7 736.6L1173.8 736.4L1176.4 740.6L1176.9 739.7L1181.5 742.3ZM1328.53 738.8a2.05 2.05 0 1 0 4.1 0a2.05 2.05 0 1 0-4.1 0ZM1335.4 740.2L1330.8 737.5L1331.3 736.6L1326.4 736.4L1329.0 740.6L1329.5 739.7L1334.1 742.3Z"/><path fill="#aa3311" d="M1140.03 533.1a2.05 2.05 0 1 0 4.1 0a2.05 2.05 0 1 0-4.1 0ZM1145.5 533.6L1142.4 531.9L1143.0 530.9L1139.3 531.5L1140.6 535.0L1141.2 534.0L1144.2 535.8ZM1292.62 533.1a2.05 2.05 0 1 0 4.1 0a2.05 2.05 0 1 0-4.1 0ZM1298.0 533.6L1295.0 531.9L1295.6 530.9L1291.9 531.5L1293.2 535.0L1293.8 534.0L1296.8 535.8ZM1175.93 542.0a2.05 2.05 0 1 0 4.1 0a2.05 2.05 0 1 0-4.1 0ZM1174.5 541.5L1177.6 543.3L1177.1 544.2L1180.8 543.7L1179.4 540.2L1178.9 541.1L1175.8 539.3ZM1328.53 542.0a2.05 2.05 0 1 0 4.1 0a2.05 2.05 0 1 0-4.1 0ZM1327.1 541.5L1330.2 543.3L1329.7 544.2L1333.4 543.7L1332.0 540.2L1331.5 541.1L1328.4 539.3ZM1184.91 559.9a2.05 2.05 0 1 0 4.1 0a2.05 2.05 0 1 0-4.1 0ZM1190.5 560.5L1187.3 558.7L1187.8 557.7L1184.1 558.3L1185.5 561.8L1186.0 560.8L1189.2 562.7ZM1337.50 559.9a2.05 2.05 0 1 0 4.1 0a2.05 2.05 0 1 0-4.1 0ZM1343.1 560.5L1339.9 558.7L1340.4 557.7L1336.6 558.3L1338.1 561.8L1338.6 560.8L1341.8 562.7ZM1229.79 586.8a2.05 2.05 0 1 0 4.1 0a2.05 2.05 0 1 0-4.1 0ZM1235.5 587.5L1232.2 585.5L1232.7 584.6L1228.8 585.0L1230.4 588.6L1230.9 587.7L1234.3 589.6ZM1131.05 604.7a2.05 2.05 0 1 0 4.1 0a2.05 2.05 0 1 0-4.1 0ZM1129.5 604.0L1132.8 605.9L1132.2 606.9L1136.1 606.4L1134.6 602.8L1134.0 603.8L1130.7 601.8ZM1283.65 604.7a2.05 2.05 0 1 0 4.1 0a2.05 2.05 0 1 0-4.1 0ZM1282.1 604.0L1285.4 605.9L1284.8 606.9L1288.7 606.4L1287.2 602.8L1286.6 603.8L1283.3 601.8ZM1140.03 622.6a2.05 2.05 0 1 0 4.1 0a2.05 2.05 0 1 0-4.1 0ZM1145.5 623.1L1142.4 621.3L1143.0 620.4L1139.3 621.0L1140.6 624.4L1141.2 623.5L1144.2 625.2ZM1292.62 622.6a2.05 2.05 0 1 0 4.1 0a2.05 2.05 0 1 0-4.1 0ZM1298.0 623.1L1295.0 621.3L1295.6 620.4L1291.9 621.0L1293.2 624.4L1293.8 623.5L1296.8 625.2ZM1175.93 631.5a2.05 2.05 0 1 0 4.1 0a2.05 2.05 0 1 0-4.1 0ZM1174.5 630.9L1177.6 632.7L1177.1 633.7L1180.8 633.1L1179.4 629.6L1178.9 630.6L1175.8 628.8ZM1328.53 631.5a2.05 2.05 0 1 0 4.1 0a2.05 2.05 0 1 0-4.1 0ZM1327.1 630.9L1330.2 632.7L1329.7 633.7L1333.4 633.1L1332.0 629.6L1331.5 630.6L1328.4 628.8ZM1184.91 649.4a2.05 2.05 0 1 0 4.1 0a2.05 2.05 0 1 0-4.1 0ZM1190.5 650.0L1187.3 648.1L1187.8 647.2L1184.1 647.7L1185.5 651.3L1186.0 650.3L1189.2 652.1ZM1337.50 649.4a2.05 2.05 0 1 0 4.1 0a2.05 2.05 0 1 0-4.1 0ZM1343.1 650.0L1339.9 648.1L1340.4 647.2L1336.6 647.7L1338.1 651.3L1338.6 650.3L1341.8 652.1ZM1229.79 676.2a2.05 2.05 0 1 0 4.1 0a2.05 2.05 0 1 0-4.1 0ZM1235.5 676.9L1232.2 675.0L1232.7 674.0L1228.8 674.5L1230.4 678.1L1230.9 677.1L1234.3 679.1ZM1131.05 694.1a2.05 2.05 0 1 0 4.1 0a2.05 2.05 0 1 0-4.1 0ZM1129.5 693.5L1132.8 695.4L1132.2 696.3L1136.1 695.8L1134.6 692.2L1134.0 693.2L1130.7 691.3ZM1283.65 694.1a2.05 2.05 0 1 0 4.1 0a2.05 2.05 0 1 0-4.1 0ZM1282.1 693.5L1285.4 695.4L1284.8 696.3L1288.7 695.8L1287.2 692.2L1286.6 693.2L1283.3 691.3ZM1140.03 712.0a2.05 2.05 0 1 0 4.1 0a2.05 2.05 0 1 0-4.1 0ZM1145.5 712.5L1142.4 710.8L1143.0 709.8L1139.3 710.4L1140.6 713.9L1141.2 712.9L1144.2 714.7ZM1292.62 712.0a2.05 2.05 0 1 0 4.1 0a2.05 2.05 0 1 0-4.1 0ZM1298.0 712.5L1295.0 710.8L1295.6 709.8L1291.9 710.4L1293.2 713.9L1293.8 712.9L1296.8 714.7ZM1175.93 720.9a2.05 2.05 0 1 0 4.1 0a2.05 2.05 0 1 0-4.1 0ZM1174.5 720.4L1177.6 722.2L1177.1 723.1L1180.8 722.6L1179.4 719.1L1178.9 720.0L1175.8 718.2ZM1328.53 720.9a2.05 2.05 0 1 0 4.1 0a2.05 2.05 0 1 0-4.1 0ZM1327.1 720.4L1330.2 722.2L1329.7 723.1L1333.4 722.6L1332.0 719.1L1331.5 720.0L1328.4 718.2ZM1184.91 738.8a2.05 2.05 0 1 0 4.1 0a2.05 2.05 0 1 0-4.1 0ZM1190.5 739.4L1187.3 737.6L1187.8 736.6L1184.1 737.2L1185.5 740.7L1186.0 739.7L1189.2 741.6ZM1337.50 738.8a2.05 2.05 0 1 0 4.1 0a2.05 2.05 0 1 0-4.1 0ZM1343.1 739.4L1339.9 737.6L1340.4 736.6L1336.6 737.2L1338.1 740.7L1338.6 739.7L1341.8 741.6ZM1229.79 765.7a2.05 2.05 0 1 0 4.1 0a2.05 2.05 0 1 0-4.1 0ZM1235.5 766.4L1232.2 764.4L1232.7 763.5L1228.8 763.9L1230.4 767.5L1230.9 766.6L1234.3 768.5ZM1131.05 783.6a2.05 2.05 0 1 0 4.1 0a2.05 2.05 0 1 0-4.1 0ZM1129.5 782.9L1132.8 784.8L1132.2 785.8L1136.1 785.3L1134.6 781.7L1134.0 782.7L1130.7 780.7ZM1283.65 783.6a2.05 2.05 0 1 0 4.1 0a2.05 2.05 0 1 0-4.1 0ZM1282.1 782.9L1285.4 784.8L1284.8 785.8L1288.7 785.3L1287.2 781.7L1286.6 782.7L1283.3 780.7Z"/><path fill="#991111" d="M1149.01 533.1a2.05 2.05 0 1 0 4.1 0a2.05 2.05 0 1 0-4.1 0ZM1301.60 533.1a2.05 2.05 0 1 0 4.1 0a2.05 2.05 0 1 0-4.1 0ZM1166.96 542.0a2.05 2.05 0 1 0 4.1 0a2.05 2.05 0 1 0-4.1 0ZM1319.55 542.0a2.05 2.05 0 1 0 4.1 0a2.05 2.05 0 1 0-4.1 0ZM1193.89 559.9a2.05 2.05 0 1 0 4.1 0a2.05 2.05 0 1 0-4.1 0ZM1346.48 559.9a2.05 2.05 0 1 0 4.1 0a2.05 2.05 0 1 0-4.1 0ZM1211.84 568.9a2.05 2.05 0 1 0 4.1 0a2.05 2.05 0 1 0-4.1 0ZM1229.79 577.8a2.05 2.05 0 1 0 4.1 0a2.05 2.05 0 1 0-4.1 0ZM1238.77 586.8a2.05 2.05 0 1 0 4.1 0a2.05 2.05 0 1 0-4.1 0ZM1104.13 595.7a2.05 2.05 0 1 0 4.1 0a2.05 2.05 0 1 0-4.1 0ZM1256.72 595.7a2.05 2.05 0 1 0 4.1 0a2.05 2.05 0 1 0-4.1 0ZM1122.08 604.7a2.05 2.05 0 1 0 4.1 0a2.05 2.05 0 1 0-4.1 0ZM1274.67 604.7a2.05 2.05 0 1 0 4.1 0a2.05 2.05 0 1 0-4.1 0ZM1131.05 613.6a2.05 2.05 0 1 0 4.1 0a2.05 2.05 0 1 0-4.1 0ZM1283.65 613.6a2.05 2.05 0 1 0 4.1 0a2.05 2.05 0 1 0-4.1 0ZM1149.01 622.6a2.05 2.05 0 1 0 4.1 0a2.05 2.05 0 1 0-4.1 0ZM1301.60 622.6a2.05 2.05 0 1 0 4.1 0a2.05 2.05 0 1 0-4.1 0ZM1166.96 631.5a2.05 2.05 0 1 0 4.1 0a2.05 2.05 0 1 0-4.1 0ZM1319.55 631.5a2.05 2.05 0 1 0 4.1 0a2.05 2.05 0 1 0-4.1 0ZM1193.89 649.4a2.05 2.05 0 1 0 4.1 0a2.05 2.05 0 1 0-4.1 0ZM1346.48 649.4a2.05 2.05 0 1 0 4.1 0a2.05 2.05 0 1 0-4.1 0ZM1211.84 658.3a2.05 2.05 0 1 0 4.1 0a2.05 2.05 0 1 0-4.1 0ZM1229.79 667.3a2.05 2.05 0 1 0 4.1 0a2.05 2.05 0 1 0-4.1 0ZM1238.77 676.2a2.05 2.05 0 1 0 4.1 0a2.05 2.05 0 1 0-4.1 0ZM1104.13 685.2a2.05 2.05 0 1 0 4.1 0a2.05 2.05 0 1 0-4.1 0ZM1256.72 685.2a2.05 2.05 0 1 0 4.1 0a2.05 2.05 0 1 0-4.1 0ZM1122.08 694.1a2.05 2.05 0 1 0 4.1 0a2.05 2.05 0 1 0-4.1 0ZM1274.67 694.1a2.05 2.05 0 1 0 4.1 0a2.05 2.05 0 1 0-4.1 0ZM1131.05 703.1a2.05 2.05 0 1 0 4.1 0a2.05 2.05 0 1 0-4.1 0ZM1283.65 703.1a2.05 2.05 0 1 0 4.1 0a2.05 2.05 0 1 0-4.1 0ZM1149.01 712.0a2.05 2.05 0 1 0 4.1 0a2.05 2.05 0 1 0-4.1 0ZM1301.60 712.0a2.05 2.05 0 1 0 4.1 0a2.05 2.05 0 1 0-4.1 0ZM1166.96 720.9a2.05 2.05 0 1 0 4.1 0a2.05 2.05 0 1 0-4.1 0ZM1319.55 720.9a2.05 2.05 0 1 0 4.1 0a2.05 2.05 0 1 0-4.1 0ZM1193.89 738.8a2.05 2.05 0 1 0 4.1 0a2.05 2.05 0 1 0-4.1 0ZM1346.48 738.8a2.05 2.05 0 1 0 4.1 0a2.05 2.05 0 1 0-4.1 0ZM1211.84 747.8a2.05 2.05 0 1 0 4.1 0a2.05 2.05 0 1 0-4.1 0ZM1229.79 756.7a2.05 2.05 0 1 0 4.1 0a2.05 2.05 0 1 0-4.1 0ZM1238.77 765.7a2.05 2.05 0 1 0 4.1 0a2.05 2.05 0 1 0-4.1 0ZM1104.13 774.6a2.05 2.05 0 1 0 4.1 0a2.05 2.05 0 1 0-4.1 0ZM1256.72 774.6a2.05 2.05 0 1 0 4.1 0a2.05 2.05 0 1 0-4.1 0ZM1122.08 783.6a2.05 2.05 0 1 0 4.1 0a2.05 2.05 0 1 0-4.1 0ZM1274.67 783.6a2.05 2.05 0 1 0 4.1 0a2.05 2.05 0 1 0-4.1 0ZM1131.05 792.5a2.05 2.05 0 1 0 4.1 0a2.05 2.05 0 1 0-4.1 0ZM1283.65 792.5a2.05 2.05 0 1 0 4.1 0a2.05 2.05 0 1 0-4.1 0Z"/><path fill="#aa2211" d="M1157.98 533.1a2.05 2.05 0 1 0 4.1 0a2.05 2.05 0 1 0-4.1 0ZM1157.1 532.8L1159.6 534.3L1159.1 535.3L1162.4 534.4L1161.4 531.2L1160.9 532.2L1158.3 530.7ZM1310.57 533.1a2.05 2.05 0 1 0 4.1 0a2.05 2.05 0 1 0-4.1 0ZM1309.7 532.8L1312.2 534.3L1311.7 535.3L1315.0 534.4L1314.0 531.2L1313.5 532.2L1310.9 530.7ZM1157.98 542.0a2.05 2.05 0 1 0 4.1 0a2.05 2.05 0 1 0-4.1 0ZM1162.9 542.2L1160.4 540.8L1161.0 539.9L1157.8 540.8L1158.6 544.0L1159.2 543.0L1161.6 544.4ZM1310.57 542.0a2.05 2.05 0 1 0 4.1 0a2.05 2.05 0 1 0-4.1 0ZM1315.5 542.2L1313.0 540.8L1313.6 539.9L1310.4 540.8L1311.2 544.0L1311.8 543.0L1314.2 544.4ZM1202.86 568.9a2.05 2.05 0 1 0 4.1 0a2.05 2.05 0 1 0-4.1 0ZM1207.9 569.2L1205.3 567.7L1205.8 566.7L1202.5 567.5L1203.5 570.8L1204.0 569.8L1206.7 571.4ZM1220.81 568.9a2.05 2.05 0 1 0 4.1 0a2.05 2.05 0 1 0-4.1 0ZM1219.6 568.4L1222.5 570.1L1222.0 571.1L1225.5 570.4L1224.3 567.0L1223.8 568.0L1220.8 566.2ZM1355.45 568.9a2.05 2.05 0 1 0 4.1 0a2.05 2.05 0 1 0-4.1 0ZM1360.5 569.2L1357.9 567.7L1358.4 566.7L1355.1 567.5L1356.1 570.8L1356.6 569.8L1359.3 571.4ZM1095.15 595.7a2.05 2.05 0 1 0 4.1 0a2.05 2.05 0 1 0-4.1 0ZM1100.4 596.1L1097.6 594.5L1098.1 593.5L1094.6 594.2L1095.8 597.6L1096.3 596.6L1099.2 598.3ZM1113.10 595.7a2.05 2.05 0 1 0 4.1 0a2.05 2.05 0 1 0-4.1 0ZM1112.0 595.3L1114.8 596.9L1114.2 597.9L1117.7 597.2L1116.6 593.8L1116.0 594.8L1113.3 593.2ZM1247.74 595.7a2.05 2.05 0 1 0 4.1 0a2.05 2.05 0 1 0-4.1 0ZM1253.0 596.1L1250.2 594.5L1250.7 593.5L1247.2 594.2L1248.4 597.6L1248.9 596.6L1251.7 598.3ZM1265.69 595.7a2.05 2.05 0 1 0 4.1 0a2.05 2.05 0 1 0-4.1 0ZM1264.6 595.3L1267.4 596.9L1266.8 597.9L1270.3 597.2L1269.2 593.8L1268.6 594.8L1265.9 593.2ZM1157.98 622.6a2.05 2.05 0 1 0 4.1 0a2.05 2.05 0 1 0-4.1 0ZM1157.1 622.3L1159.6 623.8L1159.1 624.7L1162.4 623.9L1161.4 620.6L1160.9 621.6L1158.3 620.1ZM1310.57 622.6a2.05 2.05 0 1 0 4.1 0a2.05 2.05 0 1 0-4.1 0ZM1309.7 622.3L1312.2 623.8L1311.7 624.7L1315.0 623.9L1314.0 620.6L1313.5 621.6L1310.9 620.1ZM1157.98 631.5a2.05 2.05 0 1 0 4.1 0a2.05 2.05 0 1 0-4.1 0ZM1162.9 631.7L1160.4 630.3L1161.0 629.3L1157.8 630.2L1158.6 633.4L1159.2 632.4L1161.6 633.9ZM1310.57 631.5a2.05 2.05 0 1 0 4.1 0a2.05 2.05 0 1 0-4.1 0ZM1315.5 631.7L1313.0 630.3L1313.6 629.3L1310.4 630.2L1311.2 633.4L1311.8 632.4L1314.2 633.9ZM1202.86 658.3a2.05 2.05 0 1 0 4.1 0a2.05 2.05 0 1 0-4.1 0ZM1207.9 658.6L1205.3 657.1L1205.8 656.2L1202.5 656.9L1203.5 660.2L1204.0 659.3L1206.7 660.8ZM1220.81 658.3a2.05 2.05 0 1 0 4.1 0a2.05 2.05 0 1 0-4.1 0ZM1219.6 657.9L1222.5 659.6L1222.0 660.5L1225.5 659.9L1224.3 656.4L1223.8 657.4L1220.8 655.7ZM1355.45 658.3a2.05 2.05 0 1 0 4.1 0a2.05 2.05 0 1 0-4.1 0ZM1360.5 658.6L1357.9 657.1L1358.4 656.2L1355.1 656.9L1356.1 660.2L1356.6 659.3L1359.3 660.8ZM1095.15 685.2a2.05 2.05 0 1 0 4.1 0a2.05 2.05 0 1 0-4.1 0ZM1100.4 685.6L1097.6 683.9L1098.1 683.0L1094.6 683.7L1095.8 687.1L1096.3 686.1L1099.2 687.7ZM1113.10 685.2a2.05 2.05 0 1 0 4.1 0a2.05 2.05 0 1 0-4.1 0ZM1112.0 684.8L1114.8 686.4L1114.2 687.3L1117.7 686.6L1116.6 683.3L1116.0 684.2L1113.3 682.6ZM1247.74 685.2a2.05 2.05 0 1 0 4.1 0a2.05 2.05 0 1 0-4.1 0ZM1253.0 685.6L1250.2 683.9L1250.7 683.0L1247.2 683.7L1248.4 687.1L1248.9 686.1L1251.7 687.7ZM1265.69 685.2a2.05 2.05 0 1 0 4.1 0a2.05 2.05 0 1 0-4.1 0ZM1264.6 684.8L1267.4 686.4L1266.8 687.3L1270.3 686.6L1269.2 683.3L1268.6 684.2L1265.9 682.6ZM1157.98 712.0a2.05 2.05 0 1 0 4.1 0a2.05 2.05 0 1 0-4.1 0ZM1157.1 711.7L1159.6 713.2L1159.1 714.2L1162.4 713.3L1161.4 710.1L1160.9 711.1L1158.3 709.6ZM1310.57 712.0a2.05 2.05 0 1 0 4.1 0a2.05 2.05 0 1 0-4.1 0ZM1309.7 711.7L1312.2 713.2L1311.7 714.2L1315.0 713.3L1314.0 710.1L1313.5 711.1L1310.9 709.6ZM1157.98 720.9a2.05 2.05 0 1 0 4.1 0a2.05 2.05 0 1 0-4.1 0ZM1162.9 721.1L1160.4 719.7L1161.0 718.8L1157.8 719.7L1158.6 722.9L1159.2 721.9L1161.6 723.3ZM1310.57 720.9a2.05 2.05 0 1 0 4.1 0a2.05 2.05 0 1 0-4.1 0ZM1315.5 721.1L1313.0 719.7L1313.6 718.8L1310.4 719.7L1311.2 722.9L1311.8 721.9L1314.2 723.3ZM1202.86 747.8a2.05 2.05 0 1 0 4.1 0a2.05 2.05 0 1 0-4.1 0ZM1207.9 748.1L1205.3 746.6L1205.8 745.6L1202.5 746.4L1203.5 749.7L1204.0 748.7L1206.7 750.3ZM1220.81 747.8a2.05 2.05 0 1 0 4.1 0a2.05 2.05 0 1 0-4.1 0ZM1219.6 747.3L1222.5 749.0L1222.0 750.0L1225.5 749.3L1224.3 745.9L1223.8 746.9L1220.8 745.1ZM1355.45 747.8a2.05 2.05 0 1 0 4.1 0a2.05 2.05 0 1 0-4.1 0ZM1360.5 748.1L1357.9 746.6L1358.4 745.6L1355.1 746.4L1356.1 749.7L1356.6 748.7L1359.3 750.3ZM1095.15 774.6a2.05 2.05 0 1 0 4.1 0a2.05 2.05 0 1 0-4.1 0ZM1100.4 775.0L1097.6 773.4L1098.1 772.4L1094.6 773.1L1095.8 776.5L1096.3 775.5L1099.2 777.2ZM1113.10 774.6a2.05 2.05 0 1 0 4.1 0a2.05 2.05 0 1 0-4.1 0ZM1112.0 774.2L1114.8 775.8L1114.2 776.8L1117.7 776.1L1116.6 772.7L1116.0 773.7L1113.3 772.1ZM1247.74 774.6a2.05 2.05 0 1 0 4.1 0a2.05 2.05 0 1 0-4.1 0ZM1253.0 775.0L1250.2 773.4L1250.7 772.4L1247.2 773.1L1248.4 776.5L1248.9 775.5L1251.7 777.2ZM1265.69 774.6a2.05 2.05 0 1 0 4.1 0a2.05 2.05 0 1 0-4.1 0ZM1264.6 774.2L1267.4 775.8L1266.8 776.8L1270.3 776.1L1269.2 772.7L1268.6 773.7L1265.9 772.1Z"/><path fill="#cc5511" d="M1166.96 533.1a2.05 2.05 0 1 0 4.1 0a2.05 2.05 0 1 0-4.1 0ZM1164.6 532.0L1168.8 534.4L1168.2 535.4L1172.8 535.3L1170.6 531.3L1170.0 532.2L1165.8 529.8ZM1319.55 533.1a2.05 2.05 0 1 0 4.1 0a2.05 2.05 0 1 0-4.1 0ZM1317.2 532.0L1321.4 534.4L1320.8 535.4L1325.4 535.3L1323.2 531.3L1322.6 532.2L1318.4 529.8ZM1166.96 622.6a2.05 2.05 0 1 0 4.1 0a2.05 2.05 0 1 0-4.1 0ZM1164.6 621.4L1168.8 623.9L1168.2 624.8L1172.8 624.7L1170.6 620.7L1170.0 621.7L1165.8 619.3ZM1319.55 622.6a2.05 2.05 0 1 0 4.1 0a2.05 2.05 0 1 0-4.1 0ZM1317.2 621.4L1321.4 623.9L1320.8 624.8L1325.4 624.7L1323.2 620.7L1322.6 621.7L1318.4 619.3ZM1166.96 712.0a2.05 2.05 0 1 0 4.1 0a2.05 2.05 0 1 0-4.1 0ZM1164.6 710.9L1168.8 713.3L1168.2 714.3L1172.8 714.2L1170.6 710.2L1170.0 711.1L1165.8 708.7ZM1319.55 712.0a2.05 2.05 0 1 0 4.1 0a2.05 2.05 0 1 0-4.1 0ZM1317.2 710.9L1321.4 713.3L1320.8 714.3L1325.4 714.2L1323.2 710.2L1322.6 711.1L1318.4 708.7Z"/><path fill="#ddbb22" d="M1172.6 531.5L1178.2 534.7L1177.6 535.6L1182.7 535.8L1180.0 531.5L1179.4 532.5L1173.9 529.3ZM1325.2 531.5L1330.8 534.7L1330.2 535.6L1335.3 535.8L1332.6 531.5L1332.0 532.5L1326.5 529.3ZM1147.4 543.7L1141.9 540.5L1142.5 539.6L1137.4 539.3L1140.1 543.6L1140.7 542.7L1146.1 545.8ZM1300.0 543.7L1294.5 540.5L1295.1 539.6L1290.0 539.3L1292.7 543.6L1293.3 542.7L1298.7 545.8ZM1217.6 558.3L1223.0 561.5L1222.5 562.4L1227.5 562.6L1224.8 558.3L1224.3 559.3L1218.8 556.2ZM1192.3 570.5L1186.7 567.3L1187.3 566.3L1182.2 566.1L1184.9 570.4L1185.5 569.5L1191.1 572.7ZM1344.9 570.5L1339.3 567.3L1339.9 566.3L1334.8 566.1L1337.5 570.4L1338.1 569.5L1343.7 572.7ZM1172.6 620.9L1178.2 624.1L1177.6 625.1L1182.7 625.3L1180.0 621.0L1179.4 621.9L1173.9 618.7ZM1325.2 620.9L1330.8 624.1L1330.2 625.1L1335.3 625.3L1332.6 621.0L1332.0 621.9L1326.5 618.7ZM1147.4 633.1L1141.9 630.0L1142.5 629.0L1137.4 628.8L1140.1 633.1L1140.7 632.1L1146.1 635.3ZM1300.0 633.1L1294.5 630.0L1295.1 629.0L1290.0 628.8L1292.7 633.1L1293.3 632.1L1298.7 635.3ZM1217.6 647.8L1223.0 650.9L1222.5 651.9L1227.5 652.1L1224.8 647.8L1224.3 648.7L1218.8 645.6ZM1192.3 660.0L1186.7 656.8L1187.3 655.8L1182.2 655.6L1184.9 659.9L1185.5 658.9L1191.1 662.2ZM1344.9 660.0L1339.3 656.8L1339.9 655.8L1334.8 655.6L1337.5 659.9L1338.1 658.9L1343.7 662.2ZM1172.6 710.4L1178.2 713.6L1177.6 714.5L1182.7 714.7L1180.0 710.4L1179.4 711.4L1173.9 708.2ZM1325.2 710.4L1330.8 713.6L1330.2 714.5L1335.3 714.7L1332.6 710.4L1332.0 711.4L1326.5 708.2ZM1147.4 722.6L1141.9 719.4L1142.5 718.5L1137.4 718.2L1140.1 722.5L1140.7 721.6L1146.1 724.7ZM1300.0 722.6L1294.5 719.4L1295.1 718.5L1290.0 718.2L1292.7 722.5L1293.3 721.6L1298.7 724.7ZM1217.6 737.2L1223.0 740.4L1222.5 741.3L1227.5 741.5L1224.8 737.2L1224.3 738.2L1218.8 735.1ZM1192.3 749.4L1186.7 746.2L1187.3 745.2L1182.2 745.0L1184.9 749.3L1185.5 748.4L1191.1 751.6ZM1344.9 749.4L1339.3 746.2L1339.9 745.2L1334.8 745.0L1337.5 749.3L1338.1 748.4L1343.7 751.6Z"/><path fill="#77dd33" d="M1181.2 531.2L1187.6 534.9L1187.1 535.9L1192.1 536.1L1189.4 531.8L1188.9 532.7L1182.4 529.0ZM1333.8 531.2L1340.2 534.9L1339.6 535.9L1344.7 536.1L1342.0 531.8L1341.4 532.7L1335.0 529.0ZM1183.8 570.8L1177.3 567.1L1177.9 566.1L1172.8 565.9L1175.5 570.2L1176.1 569.2L1182.5 572.9ZM1336.4 570.8L1329.9 567.1L1330.5 566.1L1325.4 565.9L1328.1 570.2L1328.7 569.2L1335.1 572.9ZM1181.2 620.7L1187.6 624.4L1187.1 625.3L1192.1 625.5L1189.4 621.2L1188.9 622.2L1182.4 618.5ZM1333.8 620.7L1340.2 624.4L1339.6 625.3L1344.7 625.5L1342.0 621.2L1341.4 622.2L1335.0 618.5ZM1183.8 660.2L1177.3 656.5L1177.9 655.6L1172.8 655.3L1175.5 659.6L1176.1 658.7L1182.5 662.4ZM1336.4 660.2L1329.9 656.5L1330.5 655.6L1325.4 655.3L1328.1 659.6L1328.7 658.7L1335.1 662.4ZM1181.2 710.1L1187.6 713.8L1187.1 714.8L1192.1 715.0L1189.4 710.7L1188.9 711.6L1182.4 707.9ZM1333.8 710.1L1340.2 713.8L1339.6 714.8L1344.7 715.0L1342.0 710.7L1341.4 711.6L1335.0 707.9ZM1183.8 749.7L1177.3 746.0L1177.9 745.0L1172.8 744.8L1175.5 749.1L1176.1 748.1L1182.5 751.8ZM1336.4 749.7L1329.9 746.0L1330.5 745.0L1325.4 744.8L1328.1 749.1L1328.7 748.1L1335.1 751.8Z"/><path fill="#44dd88" d="M1190.2 531.2L1196.5 534.9L1196.0 535.8L1201.0 536.0L1198.3 531.8L1197.8 532.7L1191.5 529.1ZM1342.8 531.2L1349.1 534.9L1348.6 535.8L1353.6 536.0L1350.9 531.8L1350.4 532.7L1344.1 529.1ZM1129.9 543.9L1123.5 540.3L1124.1 539.3L1119.0 539.1L1121.7 543.4L1122.3 542.4L1128.6 546.1ZM1282.5 543.9L1276.1 540.3L1276.7 539.3L1271.6 539.1L1274.3 543.4L1274.9 542.4L1281.2 546.1ZM1174.7 570.7L1168.4 567.1L1169.0 566.2L1163.9 565.9L1166.6 570.2L1167.2 569.3L1173.5 572.9ZM1327.3 570.7L1321.0 567.1L1321.6 566.2L1316.5 565.9L1319.2 570.2L1319.8 569.3L1326.1 572.9ZM1190.2 620.7L1196.5 624.3L1196.0 625.3L1201.0 625.5L1198.3 621.2L1197.8 622.2L1191.5 618.5ZM1342.8 620.7L1349.1 624.3L1348.6 625.3L1353.6 625.5L1350.9 621.2L1350.4 622.2L1344.1 618.5ZM1129.9 633.4L1123.5 629.7L1124.1 628.8L1119.0 628.5L1121.7 632.8L1122.3 631.9L1128.6 635.5ZM1282.5 633.4L1276.1 629.7L1276.7 628.8L1271.6 628.5L1274.3 632.8L1274.9 631.9L1281.2 635.5ZM1174.7 660.2L1168.4 656.6L1169.0 655.6L1163.9 655.4L1166.6 659.7L1167.2 658.7L1173.5 662.3ZM1327.3 660.2L1321.0 656.6L1321.6 655.6L1316.5 655.4L1319.2 659.7L1319.8 658.7L1326.1 662.3ZM1190.2 710.1L1196.5 713.8L1196.0 714.7L1201.0 714.9L1198.3 710.7L1197.8 711.6L1191.5 708.0ZM1342.8 710.1L1349.1 713.8L1348.6 714.7L1353.6 714.9L1350.9 710.7L1350.4 711.6L1344.1 708.0ZM1129.9 722.8L1123.5 719.2L1124.1 718.2L1119.0 718.0L1121.7 722.3L1122.3 721.3L1128.6 725.0ZM1282.5 722.8L1276.1 719.2L1276.7 718.2L1271.6 718.0L1274.3 722.3L1274.9 721.3L1281.2 725.0ZM1174.7 749.6L1168.4 746.0L1169.0 745.1L1163.9 744.8L1166.6 749.1L1167.2 748.2L1173.5 751.8ZM1327.3 749.6L1321.0 746.0L1321.6 745.1L1316.5 744.8L1319.2 749.1L1319.8 748.2L1326.1 751.8Z"/><path fill="#33aacc" d="M1199.7 531.6L1204.9 534.6L1204.4 535.5L1209.4 535.7L1206.7 531.4L1206.2 532.4L1201.0 529.4ZM1352.3 531.6L1357.5 534.6L1357.0 535.5L1362.0 535.7L1359.3 531.4L1358.8 532.4L1353.6 529.4ZM1120.4 543.6L1115.1 540.6L1115.6 539.6L1110.6 539.4L1113.3 543.7L1113.8 542.7L1119.1 545.8ZM1273.0 543.6L1267.7 540.6L1268.2 539.6L1263.2 539.4L1265.9 543.7L1266.4 542.7L1271.7 545.8ZM1092.0 558.4L1097.3 561.4L1096.7 562.4L1101.8 562.6L1099.1 558.3L1098.5 559.3L1093.2 556.2ZM1244.6 558.4L1249.9 561.4L1249.3 562.4L1254.4 562.6L1251.7 558.3L1251.1 559.3L1245.8 556.2ZM1199.7 621.0L1204.9 624.0L1204.4 625.0L1209.4 625.2L1206.7 620.9L1206.2 621.8L1201.0 618.8ZM1352.3 621.0L1357.5 624.0L1357.0 625.0L1362.0 625.2L1359.3 620.9L1358.8 621.8L1353.6 618.8ZM1120.4 633.1L1115.1 630.0L1115.6 629.1L1110.6 628.8L1113.3 633.1L1113.8 632.2L1119.1 635.2ZM1273.0 633.1L1267.7 630.0L1268.2 629.1L1263.2 628.8L1265.9 633.1L1266.4 632.2L1271.7 635.2ZM1092.0 647.8L1097.3 650.9L1096.7 651.8L1101.8 652.0L1099.1 647.8L1098.5 648.7L1093.2 645.6ZM1244.6 647.8L1249.9 650.9L1249.3 651.8L1254.4 652.0L1251.7 647.8L1251.1 648.7L1245.8 645.6ZM1199.7 710.5L1204.9 713.5L1204.4 714.4L1209.4 714.6L1206.7 710.3L1206.2 711.3L1201.0 708.3ZM1352.3 710.5L1357.5 713.5L1357.0 714.4L1362.0 714.6L1359.3 710.3L1358.8 711.3L1353.6 708.3ZM1120.4 722.5L1115.1 719.5L1115.6 718.5L1110.6 718.3L1113.3 722.6L1113.8 721.6L1119.1 724.7ZM1273.0 722.5L1267.7 719.5L1268.2 718.5L1263.2 718.3L1265.9 722.6L1266.4 721.6L1271.7 724.7ZM1092.0 737.3L1097.3 740.3L1096.7 741.3L1101.8 741.5L1099.1 737.2L1098.5 738.2L1093.2 735.1ZM1244.6 737.3L1249.9 740.3L1249.3 741.3L1254.4 741.5L1251.7 737.2L1251.1 738.2L1245.8 735.1Z"/><path fill="#1144ee" d="M1211.84 533.1a2.05 2.05 0 1 0 4.1 0a2.05 2.05 0 1 0-4.1 0ZM1209.8 532.2L1213.6 534.4L1213.1 535.3L1217.4 535.1L1215.4 531.3L1214.9 532.2L1211.0 530.0ZM1238.77 533.1a2.05 2.05 0 1 0 4.1 0a2.05 2.05 0 1 0-4.1 0ZM1244.6 533.8L1241.1 531.8L1241.7 530.9L1237.7 531.3L1239.3 535.0L1239.9 534.0L1243.3 536.0ZM1122.08 568.9a2.05 2.05 0 1 0 4.1 0a2.05 2.05 0 1 0-4.1 0ZM1120.3 568.1L1123.8 570.1L1123.3 571.1L1127.3 570.7L1125.6 567.0L1125.1 568.0L1121.5 565.9ZM1149.01 568.9a2.05 2.05 0 1 0 4.1 0a2.05 2.05 0 1 0-4.1 0ZM1155.1 569.8L1151.3 567.6L1151.9 566.6L1147.6 566.9L1149.5 570.7L1150.1 569.8L1153.9 571.9ZM1274.67 568.9a2.05 2.05 0 1 0 4.1 0a2.05 2.05 0 1 0-4.1 0ZM1272.9 568.1L1276.4 570.1L1275.9 571.1L1279.9 570.7L1278.2 567.0L1277.7 568.0L1274.1 565.9ZM1301.60 568.9a2.05 2.05 0 1 0 4.1 0a2.05 2.05 0 1 0-4.1 0ZM1307.7 569.8L1303.9 567.6L1304.5 566.6L1300.2 566.9L1302.1 570.7L1302.7 569.8L1306.4 571.9ZM1166.96 595.7a2.05 2.05 0 1 0 4.1 0a2.05 2.05 0 1 0-4.1 0ZM1165.0 594.9L1168.7 597.0L1168.2 597.9L1172.4 597.6L1170.5 593.9L1170.0 594.8L1166.3 592.7ZM1193.89 595.7a2.05 2.05 0 1 0 4.1 0a2.05 2.05 0 1 0-4.1 0ZM1199.8 596.5L1196.2 594.4L1196.8 593.5L1192.6 593.8L1194.4 597.6L1195.0 596.6L1198.6 598.7ZM1319.55 595.7a2.05 2.05 0 1 0 4.1 0a2.05 2.05 0 1 0-4.1 0ZM1317.6 594.9L1321.3 597.0L1320.8 597.9L1324.9 597.6L1323.1 593.9L1322.6 594.8L1318.9 592.7ZM1346.48 595.7a2.05 2.05 0 1 0 4.1 0a2.05 2.05 0 1 0-4.1 0ZM1352.4 596.5L1348.8 594.4L1349.4 593.5L1345.2 593.8L1347.0 597.6L1347.6 596.6L1351.2 598.7ZM1211.84 622.6a2.05 2.05 0 1 0 4.1 0a2.05 2.05 0 1 0-4.1 0ZM1209.8 621.6L1213.6 623.8L1213.1 624.8L1217.4 624.6L1215.4 620.7L1214.9 621.7L1211.0 619.5ZM1238.77 622.6a2.05 2.05 0 1 0 4.1 0a2.05 2.05 0 1 0-4.1 0ZM1244.6 623.3L1241.1 621.3L1241.7 620.3L1237.7 620.7L1239.3 624.4L1239.9 623.5L1243.3 625.4ZM1122.08 658.3a2.05 2.05 0 1 0 4.1 0a2.05 2.05 0 1 0-4.1 0ZM1120.3 657.6L1123.8 659.6L1123.3 660.6L1127.3 660.2L1125.6 656.5L1125.1 657.4L1121.5 655.4ZM1149.01 658.3a2.05 2.05 0 1 0 4.1 0a2.05 2.05 0 1 0-4.1 0ZM1155.1 659.2L1151.3 657.0L1151.9 656.1L1147.6 656.4L1149.5 660.2L1150.1 659.2L1153.9 661.4ZM1274.67 658.3a2.05 2.05 0 1 0 4.1 0a2.05 2.05 0 1 0-4.1 0ZM1272.9 657.6L1276.4 659.6L1275.9 660.6L1279.9 660.2L1278.2 656.5L1277.7 657.4L1274.1 655.4ZM1301.60 658.3a2.05 2.05 0 1 0 4.1 0a2.05 2.05 0 1 0-4.1 0ZM1307.7 659.2L1303.9 657.0L1304.5 656.1L1300.2 656.4L1302.1 660.2L1302.7 659.2L1306.4 661.4ZM1166.96 685.2a2.05 2.05 0 1 0 4.1 0a2.05 2.05 0 1 0-4.1 0ZM1165.0 684.3L1168.7 686.4L1168.2 687.4L1172.4 687.1L1170.5 683.3L1170.0 684.3L1166.3 682.2ZM1193.89 685.2a2.05 2.05 0 1 0 4.1 0a2.05 2.05 0 1 0-4.1 0ZM1199.8 686.0L1196.2 683.9L1196.8 682.9L1192.6 683.3L1194.4 687.0L1195.0 686.1L1198.6 688.1ZM1319.55 685.2a2.05 2.05 0 1 0 4.1 0a2.05 2.05 0 1 0-4.1 0ZM1317.6 684.3L1321.3 686.4L1320.8 687.4L1324.9 687.1L1323.1 683.3L1322.6 684.3L1318.9 682.2ZM1346.48 685.2a2.05 2.05 0 1 0 4.1 0a2.05 2.05 0 1 0-4.1 0ZM1352.4 686.0L1348.8 683.9L1349.4 682.9L1345.2 683.3L1347.0 687.0L1347.6 686.1L1351.2 688.1ZM1211.84 712.0a2.05 2.05 0 1 0 4.1 0a2.05 2.05 0 1 0-4.1 0ZM1209.8 711.1L1213.6 713.3L1213.1 714.2L1217.4 714.0L1215.4 710.2L1214.9 711.1L1211.0 708.9ZM1238.77 712.0a2.05 2.05 0 1 0 4.1 0a2.05 2.05 0 1 0-4.1 0ZM1244.6 712.7L1241.1 710.7L1241.7 709.8L1237.7 710.2L1239.3 713.9L1239.9 712.9L1243.3 714.9ZM1122.08 747.8a2.05 2.05 0 1 0 4.1 0a2.05 2.05 0 1 0-4.1 0ZM1120.3 747.0L1123.8 749.0L1123.3 750.0L1127.3 749.6L1125.6 745.9L1125.1 746.9L1121.5 744.8ZM1149.01 747.8a2.05 2.05 0 1 0 4.1 0a2.05 2.05 0 1 0-4.1 0ZM1155.1 748.7L1151.3 746.5L1151.9 745.5L1147.6 745.8L1149.5 749.6L1150.1 748.7L1153.9 750.8ZM1274.67 747.8a2.05 2.05 0 1 0 4.1 0a2.05 2.05 0 1 0-4.1 0ZM1272.9 747.0L1276.4 749.0L1275.9 750.0L1279.9 749.6L1278.2 745.9L1277.7 746.9L1274.1 744.8ZM1301.60 747.8a2.05 2.05 0 1 0 4.1 0a2.05 2.05 0 1 0-4.1 0ZM1307.7 748.7L1303.9 746.5L1304.5 745.5L1300.2 745.8L1302.1 749.6L1302.7 748.7L1306.4 750.8ZM1166.96 774.6a2.05 2.05 0 1 0 4.1 0a2.05 2.05 0 1 0-4.1 0ZM1165.0 773.8L1168.7 775.9L1168.2 776.8L1172.4 776.5L1170.5 772.8L1170.0 773.7L1166.3 771.6ZM1193.89 774.6a2.05 2.05 0 1 0 4.1 0a2.05 2.05 0 1 0-4.1 0ZM1199.8 775.4L1196.2 773.3L1196.8 772.4L1192.6 772.7L1194.4 776.5L1195.0 775.5L1198.6 777.6ZM1319.55 774.6a2.05 2.05 0 1 0 4.1 0a2.05 2.05 0 1 0-4.1 0ZM1317.6 773.8L1321.3 775.9L1320.8 776.8L1324.9 776.5L1323.1 772.8L1322.6 773.7L1318.9 771.6ZM1346.48 774.6a2.05 2.05 0 1 0 4.1 0a2.05 2.05 0 1 0-4.1 0ZM1352.4 775.4L1348.8 773.3L1349.4 772.4L1345.2 772.7L1347.0 776.5L1347.6 775.5L1351.2 777.6Z"/><path fill="#1122ff" d="M1220.81 533.1a2.05 2.05 0 1 0 4.1 0a2.05 2.05 0 1 0-4.1 0ZM1220.4 533.1L1222.4 534.3L1221.9 535.2L1224.7 534.2L1224.2 531.2L1223.7 532.1L1221.6 531.0ZM1095.15 542.0a2.05 2.05 0 1 0 4.1 0a2.05 2.05 0 1 0-4.1 0ZM1099.8 542.1L1097.6 540.8L1098.2 539.9L1095.2 540.9L1095.8 544.0L1096.4 543.0L1098.5 544.3ZM1247.74 542.0a2.05 2.05 0 1 0 4.1 0a2.05 2.05 0 1 0-4.1 0ZM1252.4 542.1L1250.2 540.8L1250.8 539.9L1247.8 540.9L1248.4 544.0L1249.0 543.0L1251.1 544.3ZM1220.81 622.6a2.05 2.05 0 1 0 4.1 0a2.05 2.05 0 1 0-4.1 0ZM1220.4 622.6L1222.4 623.7L1221.9 624.7L1224.7 623.6L1224.2 620.6L1223.7 621.6L1221.6 620.4ZM1095.15 631.5a2.05 2.05 0 1 0 4.1 0a2.05 2.05 0 1 0-4.1 0ZM1099.8 631.5L1097.6 630.3L1098.2 629.3L1095.2 630.4L1095.8 633.4L1096.4 632.5L1098.5 633.7ZM1247.74 631.5a2.05 2.05 0 1 0 4.1 0a2.05 2.05 0 1 0-4.1 0ZM1252.4 631.5L1250.2 630.3L1250.8 629.3L1247.8 630.4L1248.4 633.4L1249.0 632.5L1251.1 633.7ZM1220.81 712.0a2.05 2.05 0 1 0 4.1 0a2.05 2.05 0 1 0-4.1 0ZM1220.4 712.0L1222.4 713.2L1221.9 714.1L1224.7 713.1L1224.2 710.1L1223.7 711.0L1221.6 709.9ZM1095.15 720.9a2.05 2.05 0 1 0 4.1 0a2.05 2.05 0 1 0-4.1 0ZM1099.8 721.0L1097.6 719.7L1098.2 718.8L1095.2 719.8L1095.8 722.9L1096.4 721.9L1098.5 723.2ZM1247.74 720.9a2.05 2.05 0 1 0 4.1 0a2.05 2.05 0 1 0-4.1 0ZM1252.4 721.0L1250.2 719.7L1250.8 718.8L1247.8 719.8L1248.4 722.9L1249.0 721.9L1251.1 723.2Z"/><path fill="#0011ff" d="M1229.79 533.1a2.05 2.05 0 1 0 4.1 0a2.05 2.05 0 1 0-4.1 0ZM1238.77 542.0a2.05 2.05 0 1 0 4.1 0a2.05 2.05 0 1 0-4.1 0ZM1122.08 559.9a2.05 2.05 0 1 0 4.1 0a2.05 2.05 0 1 0-4.1 0ZM1274.67 559.9a2.05 2.05 0 1 0 4.1 0a2.05 2.05 0 1 0-4.1 0ZM1166.96 586.8a2.05 2.05 0 1 0 4.1 0a2.05 2.05 0 1 0-4.1 0ZM1319.55 586.8a2.05 2.05 0 1 0 4.1 0a2.05 2.05 0 1 0-4.1 0ZM1193.89 604.7a2.05 2.05 0 1 0 4.1 0a2.05 2.05 0 1 0-4.1 0ZM1346.48 604.7a2.05 2.05 0 1 0 4.1 0a2.05 2.05 0 1 0-4.1 0ZM1229.79 622.6a2.05 2.05 0 1 0 4.1 0a2.05 2.05 0 1 0-4.1 0ZM1238.77 631.5a2.05 2.05 0 1 0 4.1 0a2.05 2.05 0 1 0-4.1 0ZM1122.08 649.4a2.05 2.05 0 1 0 4.1 0a2.05 2.05 0 1 0-4.1 0ZM1274.67 649.4a2.05 2.05 0 1 0 4.1 0a2.05 2.05 0 1 0-4.1 0ZM1166.96 676.2a2.05 2.05 0 1 0 4.1 0a2.05 2.05 0 1 0-4.1 0ZM1319.55 676.2a2.05 2.05 0 1 0 4.1 0a2.05 2.05 0 1 0-4.1 0ZM1193.89 694.1a2.05 2.05 0 1 0 4.1 0a2.05 2.05 0 1 0-4.1 0ZM1346.48 694.1a2.05 2.05 0 1 0 4.1 0a2.05 2.05 0 1 0-4.1 0ZM1229.79 712.0a2.05 2.05 0 1 0 4.1 0a2.05 2.05 0 1 0-4.1 0ZM1238.77 720.9a2.05 2.05 0 1 0 4.1 0a2.05 2.05 0 1 0-4.1 0ZM1122.08 738.8a2.05 2.05 0 1 0 4.1 0a2.05 2.05 0 1 0-4.1 0ZM1274.67 738.8a2.05 2.05 0 1 0 4.1 0a2.05 2.05 0 1 0-4.1 0ZM1166.96 765.7a2.05 2.05 0 1 0 4.1 0a2.05 2.05 0 1 0-4.1 0ZM1319.55 765.7a2.05 2.05 0 1 0 4.1 0a2.05 2.05 0 1 0-4.1 0ZM1193.89 783.6a2.05 2.05 0 1 0 4.1 0a2.05 2.05 0 1 0-4.1 0ZM1346.48 783.6a2.05 2.05 0 1 0 4.1 0a2.05 2.05 0 1 0-4.1 0Z"/><path fill="#2255dd" d="M1104.13 542.0a2.05 2.05 0 1 0 4.1 0a2.05 2.05 0 1 0-4.1 0ZM1110.4 543.0L1106.4 540.8L1107.0 539.8L1102.6 540.0L1104.6 543.9L1105.2 542.9L1109.1 545.2ZM1256.72 542.0a2.05 2.05 0 1 0 4.1 0a2.05 2.05 0 1 0-4.1 0ZM1262.9 543.0L1259.0 540.8L1259.6 539.8L1255.2 540.0L1257.2 543.9L1257.8 542.9L1261.7 545.2ZM1104.13 559.9a2.05 2.05 0 1 0 4.1 0a2.05 2.05 0 1 0-4.1 0ZM1101.9 558.9L1105.9 561.2L1105.4 562.2L1109.8 562.0L1107.7 558.1L1107.2 559.1L1103.2 556.8ZM1256.72 559.9a2.05 2.05 0 1 0 4.1 0a2.05 2.05 0 1 0-4.1 0ZM1254.5 558.9L1258.5 561.2L1258.0 562.2L1262.4 562.0L1260.3 558.1L1259.8 559.1L1255.8 556.8ZM1166.96 577.8a2.05 2.05 0 1 0 4.1 0a2.05 2.05 0 1 0-4.1 0ZM1173.4 578.9L1169.3 576.5L1169.8 575.6L1165.2 575.6L1167.5 579.6L1168.0 578.7L1172.2 581.1ZM1319.55 577.8a2.05 2.05 0 1 0 4.1 0a2.05 2.05 0 1 0-4.1 0ZM1326.0 578.9L1321.8 576.5L1322.4 575.6L1317.8 575.6L1320.0 579.6L1320.6 578.7L1324.8 581.1ZM1149.01 586.8a2.05 2.05 0 1 0 4.1 0a2.05 2.05 0 1 0-4.1 0ZM1146.7 585.7L1150.8 588.1L1150.3 589.0L1154.8 588.9L1152.6 585.0L1152.1 585.9L1147.9 583.5ZM1301.60 586.8a2.05 2.05 0 1 0 4.1 0a2.05 2.05 0 1 0-4.1 0ZM1299.3 585.7L1303.4 588.1L1302.8 589.0L1307.4 588.9L1305.2 585.0L1304.6 585.9L1300.5 583.5ZM1211.84 604.7a2.05 2.05 0 1 0 4.1 0a2.05 2.05 0 1 0-4.1 0ZM1218.2 605.7L1214.1 603.4L1214.7 602.4L1210.2 602.5L1212.3 606.5L1212.9 605.5L1216.9 607.9ZM1104.13 631.5a2.05 2.05 0 1 0 4.1 0a2.05 2.05 0 1 0-4.1 0ZM1110.4 632.5L1106.4 630.2L1107.0 629.3L1102.6 629.4L1104.6 633.3L1105.2 632.4L1109.1 634.6ZM1256.72 631.5a2.05 2.05 0 1 0 4.1 0a2.05 2.05 0 1 0-4.1 0ZM1262.9 632.5L1259.0 630.2L1259.6 629.3L1255.2 629.4L1257.2 633.3L1257.8 632.4L1261.7 634.6ZM1104.13 649.4a2.05 2.05 0 1 0 4.1 0a2.05 2.05 0 1 0-4.1 0ZM1101.9 648.4L1105.9 650.7L1105.4 651.6L1109.8 651.5L1107.7 647.6L1107.2 648.5L1103.2 646.2ZM1256.72 649.4a2.05 2.05 0 1 0 4.1 0a2.05 2.05 0 1 0-4.1 0ZM1254.5 648.4L1258.5 650.7L1258.0 651.6L1262.4 651.5L1260.3 647.6L1259.8 648.5L1255.8 646.2ZM1166.96 667.3a2.05 2.05 0 1 0 4.1 0a2.05 2.05 0 1 0-4.1 0ZM1173.4 668.4L1169.3 666.0L1169.8 665.0L1165.2 665.1L1167.5 669.1L1168.0 668.1L1172.2 670.6ZM1319.55 667.3a2.05 2.05 0 1 0 4.1 0a2.05 2.05 0 1 0-4.1 0ZM1326.0 668.4L1321.8 666.0L1322.4 665.0L1317.8 665.1L1320.0 669.1L1320.6 668.1L1324.8 670.6ZM1149.01 676.2a2.05 2.05 0 1 0 4.1 0a2.05 2.05 0 1 0-4.1 0ZM1146.7 675.1L1150.8 677.5L1150.3 678.5L1154.8 678.4L1152.6 674.4L1152.1 675.4L1147.9 673.0ZM1301.60 676.2a2.05 2.05 0 1 0 4.1 0a2.05 2.05 0 1 0-4.1 0ZM1299.3 675.1L1303.4 677.5L1302.8 678.5L1307.4 678.4L1305.2 674.4L1304.6 675.4L1300.5 673.0ZM1211.84 694.1a2.05 2.05 0 1 0 4.1 0a2.05 2.05 0 1 0-4.1 0ZM1218.2 695.2L1214.1 692.8L1214.7 691.9L1210.2 692.0L1212.3 695.9L1212.9 695.0L1216.9 697.3ZM1104.13 720.9a2.05 2.05 0 1 0 4.1 0a2.05 2.05 0 1 0-4.1 0ZM1110.4 721.9L1106.4 719.7L1107.0 718.7L1102.6 718.9L1104.6 722.8L1105.2 721.8L1109.1 724.1ZM1256.72 720.9a2.05 2.05 0 1 0 4.1 0a2.05 2.05 0 1 0-4.1 0ZM1262.9 721.9L1259.0 719.7L1259.6 718.7L1255.2 718.9L1257.2 722.8L1257.8 721.8L1261.7 724.1ZM1104.13 738.8a2.05 2.05 0 1 0 4.1 0a2.05 2.05 0 1 0-4.1 0ZM1101.9 737.8L1105.9 740.1L1105.4 741.1L1109.8 740.9L1107.7 737.0L1107.2 738.0L1103.2 735.7ZM1256.72 738.8a2.05 2.05 0 1 0 4.1 0a2.05 2.05 0 1 0-4.1 0ZM1254.5 737.8L1258.5 740.1L1258.0 741.1L1262.4 740.9L1260.3 737.0L1259.8 738.0L1255.8 735.7ZM1166.96 756.7a2.05 2.05 0 1 0 4.1 0a2.05 2.05 0 1 0-4.1 0ZM1173.4 757.8L1169.3 755.4L1169.8 754.5L1165.2 754.5L1167.5 758.5L1168.0 757.6L1172.2 760.0ZM1319.55 756.7a2.05 2.05 0 1 0 4.1 0a2.05 2.05 0 1 0-4.1 0ZM1326.0 757.8L1321.8 755.4L1322.4 754.5L1317.8 754.5L1320.0 758.5L1320.6 757.6L1324.8 760.0ZM1149.01 765.7a2.05 2.05 0 1 0 4.1 0a2.05 2.05 0 1 0-4.1 0ZM1146.7 764.6L1150.8 767.0L1150.3 767.9L1154.8 767.8L1152.6 763.9L1152.1 764.8L1147.9 762.4ZM1301.60 765.7a2.05 2.05 0 1 0 4.1 0a2.05 2.05 0 1 0-4.1 0ZM1299.3 764.6L1303.4 767.0L1302.8 767.9L1307.4 767.8L1305.2 763.9L1304.6 764.8L1300.5 762.4ZM1211.84 783.6a2.05 2.05 0 1 0 4.1 0a2.05 2.05 0 1 0-4.1 0ZM1218.2 784.6L1214.1 782.3L1214.7 781.3L1210.2 781.4L1212.3 785.4L1212.9 784.4L1216.9 786.8Z"/><path fill="#88dd33" d="M1138.9 543.9L1132.5 540.2L1133.0 539.3L1128.0 539.1L1130.7 543.4L1131.2 542.4L1137.6 546.1ZM1291.5 543.9L1285.1 540.2L1285.6 539.3L1280.5 539.1L1283.3 543.4L1283.8 542.4L1290.2 546.1ZM1138.9 633.4L1132.5 629.7L1133.0 628.7L1128.0 628.5L1130.7 632.8L1131.2 631.9L1137.6 635.6ZM1291.5 633.4L1285.1 629.7L1285.6 628.7L1280.5 628.5L1283.3 632.8L1283.8 631.9L1290.2 635.6ZM1138.9 722.8L1132.5 719.1L1133.0 718.2L1128.0 718.0L1130.7 722.3L1131.2 721.3L1137.6 725.0ZM1291.5 722.8L1285.1 719.1L1285.6 718.2L1280.5 718.0L1283.3 722.3L1283.8 721.3L1290.2 725.0Z"/><path fill="#bb5511" d="M1149.01 542.0a2.05 2.05 0 1 0 4.1 0a2.05 2.05 0 1 0-4.1 0ZM1155.4 543.1L1151.3 540.7L1151.9 539.8L1147.3 539.9L1149.5 543.9L1150.1 542.9L1154.2 545.3ZM1301.60 542.0a2.05 2.05 0 1 0 4.1 0a2.05 2.05 0 1 0-4.1 0ZM1308.0 543.1L1303.9 540.7L1304.4 539.8L1299.9 539.9L1302.1 543.9L1302.6 542.9L1306.8 545.3ZM1211.84 559.9a2.05 2.05 0 1 0 4.1 0a2.05 2.05 0 1 0-4.1 0ZM1209.6 558.9L1213.6 561.2L1213.1 562.2L1217.6 562.1L1215.4 558.1L1214.9 559.1L1210.8 556.7ZM1104.13 604.7a2.05 2.05 0 1 0 4.1 0a2.05 2.05 0 1 0-4.1 0ZM1110.4 605.7L1106.4 603.4L1107.0 602.4L1102.6 602.6L1104.6 606.5L1105.2 605.5L1109.2 607.8ZM1256.72 604.7a2.05 2.05 0 1 0 4.1 0a2.05 2.05 0 1 0-4.1 0ZM1263.0 605.7L1259.0 603.4L1259.6 602.4L1255.2 602.6L1257.2 606.5L1257.8 605.5L1261.8 607.8ZM1149.01 631.5a2.05 2.05 0 1 0 4.1 0a2.05 2.05 0 1 0-4.1 0ZM1155.4 632.6L1151.3 630.2L1151.9 629.2L1147.3 629.3L1149.5 633.3L1150.1 632.4L1154.2 634.7ZM1301.60 631.5a2.05 2.05 0 1 0 4.1 0a2.05 2.05 0 1 0-4.1 0ZM1308.0 632.6L1303.9 630.2L1304.4 629.2L1299.9 629.3L1302.1 633.3L1302.6 632.4L1306.8 634.7ZM1211.84 649.4a2.05 2.05 0 1 0 4.1 0a2.05 2.05 0 1 0-4.1 0ZM1209.6 648.3L1213.6 650.7L1213.1 651.6L1217.6 651.5L1215.4 647.6L1214.9 648.5L1210.8 646.2ZM1104.13 694.1a2.05 2.05 0 1 0 4.1 0a2.05 2.05 0 1 0-4.1 0ZM1110.4 695.1L1106.4 692.8L1107.0 691.9L1102.6 692.0L1104.6 695.9L1105.2 695.0L1109.2 697.3ZM1256.72 694.1a2.05 2.05 0 1 0 4.1 0a2.05 2.05 0 1 0-4.1 0ZM1263.0 695.1L1259.0 692.8L1259.6 691.9L1255.2 692.0L1257.2 695.9L1257.8 695.0L1261.8 697.3ZM1149.01 720.9a2.05 2.05 0 1 0 4.1 0a2.05 2.05 0 1 0-4.1 0ZM1155.4 722.0L1151.3 719.6L1151.9 718.7L1147.3 718.8L1149.5 722.8L1150.1 721.8L1154.2 724.2ZM1301.60 720.9a2.05 2.05 0 1 0 4.1 0a2.05 2.05 0 1 0-4.1 0ZM1308.0 722.0L1303.9 719.6L1304.4 718.7L1299.9 718.8L1302.1 722.8L1302.6 721.8L1306.8 724.2ZM1211.84 738.8a2.05 2.05 0 1 0 4.1 0a2.05 2.05 0 1 0-4.1 0ZM1209.6 737.8L1213.6 740.1L1213.1 741.1L1217.6 741.0L1215.4 737.0L1214.9 738.0L1210.8 735.6ZM1104.13 783.6a2.05 2.05 0 1 0 4.1 0a2.05 2.05 0 1 0-4.1 0ZM1110.4 784.6L1106.4 782.3L1107.0 781.3L1102.6 781.5L1104.6 785.4L1105.2 784.4L1109.2 786.7ZM1256.72 783.6a2.05 2.05 0 1 0 4.1 0a2.05 2.05 0 1 0-4.1 0ZM1263.0 784.6L1259.0 782.3L1259.6 781.3L1255.2 781.5L1257.2 785.4L1257.8 784.4L1261.8 786.7Z"/><path fill="#44dd33" d="M1199.1 540.1L1205.6 543.9L1205.0 544.8L1210.1 545.0L1207.4 540.8L1206.8 541.7L1200.3 538.0ZM1351.7 540.1L1358.2 543.9L1357.6 544.8L1362.7 545.0L1360.0 540.8L1359.4 541.7L1352.9 538.0ZM1165.9 561.9L1159.4 558.1L1159.9 557.1L1154.8 556.9L1157.6 561.2L1158.1 560.3L1164.6 564.0ZM1318.4 561.9L1312.0 558.1L1312.5 557.1L1307.4 556.9L1310.2 561.2L1310.7 560.3L1317.2 564.0ZM1154.2 602.7L1160.7 606.5L1160.2 607.4L1165.2 607.7L1162.5 603.4L1162.0 604.3L1155.5 600.6ZM1306.8 602.7L1313.3 606.5L1312.7 607.4L1317.8 607.7L1315.1 603.4L1314.5 604.3L1308.1 600.6ZM1199.1 629.6L1205.6 633.3L1205.0 634.3L1210.1 634.5L1207.4 630.2L1206.8 631.2L1200.3 627.4ZM1351.7 629.6L1358.2 633.3L1357.6 634.3L1362.7 634.5L1360.0 630.2L1359.4 631.2L1352.9 627.4ZM1165.9 651.3L1159.4 647.6L1159.9 646.6L1154.8 646.4L1157.6 650.7L1158.1 649.7L1164.6 653.5ZM1318.4 651.3L1312.0 647.6L1312.5 646.6L1307.4 646.4L1310.2 650.7L1310.7 649.7L1317.2 653.5ZM1154.2 692.2L1160.7 695.9L1160.2 696.9L1165.2 697.1L1162.5 692.8L1162.0 693.8L1155.5 690.0ZM1306.8 692.2L1313.3 695.9L1312.7 696.9L1317.8 697.1L1315.1 692.8L1314.5 693.8L1308.1 690.0ZM1199.1 719.0L1205.6 722.8L1205.0 723.7L1210.1 723.9L1207.4 719.7L1206.8 720.6L1200.3 716.9ZM1351.7 719.0L1358.2 722.8L1357.6 723.7L1362.7 723.9L1360.0 719.7L1359.4 720.6L1352.9 716.9ZM1165.9 740.8L1159.4 737.0L1159.9 736.0L1154.8 735.8L1157.6 740.1L1158.1 739.2L1164.6 742.9ZM1318.4 740.8L1312.0 737.0L1312.5 736.0L1307.4 735.8L1310.2 740.1L1310.7 739.2L1317.2 742.9ZM1154.2 781.6L1160.7 785.4L1160.2 786.3L1165.2 786.6L1162.5 782.3L1162.0 783.2L1155.5 779.5ZM1306.8 781.6L1313.3 785.4L1312.7 786.3L1317.8 786.6L1315.1 782.3L1314.5 783.2L1308.1 779.5Z"/><path fill="#33ccaa" d="M1208.3 540.3L1214.3 543.8L1213.8 544.7L1218.9 544.9L1216.1 540.6L1215.6 541.6L1209.5 538.1ZM1156.6 561.7L1150.6 558.2L1151.2 557.3L1146.1 557.1L1148.8 561.4L1149.4 560.4L1155.4 563.9ZM1309.2 561.7L1303.2 558.2L1303.8 557.3L1298.7 557.1L1301.4 561.4L1302.0 560.4L1308.0 563.9ZM1201.5 588.5L1195.5 585.1L1196.1 584.1L1191.0 583.9L1193.7 588.2L1194.3 587.3L1200.2 590.7ZM1354.1 588.5L1348.1 585.1L1348.7 584.1L1343.6 583.9L1346.3 588.2L1346.9 587.3L1352.8 590.7ZM1163.5 602.9L1169.4 606.3L1168.9 607.3L1173.9 607.5L1171.2 603.2L1170.7 604.2L1164.7 600.7ZM1316.0 602.9L1322.0 606.3L1321.5 607.3L1326.5 607.5L1323.8 603.2L1323.3 604.2L1317.3 600.7ZM1208.3 629.7L1214.3 633.2L1213.8 634.2L1218.9 634.4L1216.1 630.1L1215.6 631.0L1209.5 627.5ZM1156.6 651.2L1150.6 647.7L1151.2 646.7L1146.1 646.5L1148.8 650.8L1149.4 649.9L1155.4 653.3ZM1309.2 651.2L1303.2 647.7L1303.8 646.7L1298.7 646.5L1301.4 650.8L1302.0 649.9L1308.0 653.3ZM1201.5 678.0L1195.5 674.6L1196.1 673.6L1191.0 673.4L1193.7 677.7L1194.3 676.7L1200.2 680.1ZM1354.1 678.0L1348.1 674.6L1348.7 673.6L1343.6 673.4L1346.3 677.7L1346.9 676.7L1352.8 680.1ZM1163.5 692.3L1169.4 695.8L1168.9 696.7L1173.9 697.0L1171.2 692.7L1170.7 693.6L1164.7 690.2ZM1316.0 692.3L1322.0 695.8L1321.5 696.7L1326.5 697.0L1323.8 692.7L1323.3 693.6L1317.3 690.2ZM1208.3 719.2L1214.3 722.7L1213.8 723.6L1218.9 723.8L1216.1 719.5L1215.6 720.5L1209.5 717.0ZM1156.6 740.6L1150.6 737.1L1151.2 736.2L1146.1 736.0L1148.8 740.3L1149.4 739.3L1155.4 742.8ZM1309.2 740.6L1303.2 737.1L1303.8 736.2L1298.7 736.0L1301.4 740.3L1302.0 739.3L1308.0 742.8ZM1201.5 767.4L1195.5 764.0L1196.1 763.0L1191.0 762.8L1193.7 767.1L1194.3 766.2L1200.2 769.6ZM1354.1 767.4L1348.1 764.0L1348.7 763.0L1343.6 762.8L1346.3 767.1L1346.9 766.2L1352.8 769.6ZM1163.5 781.8L1169.4 785.2L1168.9 786.2L1173.9 786.4L1171.2 782.1L1170.7 783.1L1164.7 779.6ZM1316.0 781.8L1322.0 785.2L1321.5 786.2L1326.5 786.4L1323.8 782.1L1323.3 783.1L1317.3 779.6Z"/><path fill="#1133ee" d="M1229.79 542.0a2.05 2.05 0 1 0 4.1 0a2.05 2.05 0 1 0-4.1 0ZM1228.2 541.4L1231.5 543.3L1231.0 544.3L1234.9 543.8L1233.3 540.2L1232.8 541.1L1229.4 539.2ZM1131.05 559.9a2.05 2.05 0 1 0 4.1 0a2.05 2.05 0 1 0-4.1 0ZM1136.7 560.6L1133.4 558.7L1134.0 557.7L1130.1 558.2L1131.6 561.8L1132.2 560.8L1135.5 562.7ZM1283.65 559.9a2.05 2.05 0 1 0 4.1 0a2.05 2.05 0 1 0-4.1 0ZM1289.3 560.6L1286.0 558.7L1286.6 557.7L1282.7 558.2L1284.2 561.8L1284.8 560.8L1288.1 562.7ZM1140.03 577.8a2.05 2.05 0 1 0 4.1 0a2.05 2.05 0 1 0-4.1 0ZM1138.7 577.3L1141.7 579.1L1141.2 580.0L1144.8 579.4L1143.5 575.9L1143.0 576.9L1140.0 575.2ZM1292.62 577.8a2.05 2.05 0 1 0 4.1 0a2.05 2.05 0 1 0-4.1 0ZM1291.3 577.3L1294.3 579.1L1293.8 580.0L1297.4 579.4L1296.1 575.9L1295.6 576.9L1292.6 575.2ZM1175.93 586.8a2.05 2.05 0 1 0 4.1 0a2.05 2.05 0 1 0-4.1 0ZM1181.5 587.3L1178.3 585.5L1178.9 584.6L1175.1 585.1L1176.5 588.6L1177.1 587.7L1180.2 589.5ZM1328.53 586.8a2.05 2.05 0 1 0 4.1 0a2.05 2.05 0 1 0-4.1 0ZM1334.0 587.3L1330.9 585.5L1331.5 584.6L1327.7 585.1L1329.1 588.6L1329.7 587.7L1332.8 589.5ZM1184.91 604.7a2.05 2.05 0 1 0 4.1 0a2.05 2.05 0 1 0-4.1 0ZM1183.4 604.1L1186.6 605.9L1186.1 606.9L1189.9 606.3L1188.4 602.8L1187.9 603.7L1184.7 601.9ZM1337.50 604.7a2.05 2.05 0 1 0 4.1 0a2.05 2.05 0 1 0-4.1 0ZM1336.0 604.1L1339.2 605.9L1338.7 606.9L1342.5 606.3L1341.0 602.8L1340.5 603.7L1337.3 601.9ZM1220.81 613.6a2.05 2.05 0 1 0 4.1 0a2.05 2.05 0 1 0-4.1 0ZM1226.2 614.1L1223.2 612.4L1223.8 611.4L1220.2 612.1L1221.4 615.5L1222.0 614.5L1224.9 616.2ZM1229.79 631.5a2.05 2.05 0 1 0 4.1 0a2.05 2.05 0 1 0-4.1 0ZM1228.2 630.8L1231.5 632.8L1231.0 633.7L1234.9 633.3L1233.3 629.6L1232.8 630.6L1229.4 628.6ZM1131.05 649.4a2.05 2.05 0 1 0 4.1 0a2.05 2.05 0 1 0-4.1 0ZM1136.7 650.0L1133.4 648.1L1134.0 647.2L1130.1 647.7L1131.6 651.2L1132.2 650.3L1135.5 652.2ZM1283.65 649.4a2.05 2.05 0 1 0 4.1 0a2.05 2.05 0 1 0-4.1 0ZM1289.3 650.0L1286.0 648.1L1286.6 647.2L1282.7 647.7L1284.2 651.2L1284.8 650.3L1288.1 652.2ZM1140.03 667.3a2.05 2.05 0 1 0 4.1 0a2.05 2.05 0 1 0-4.1 0ZM1138.7 666.8L1141.7 668.5L1141.2 669.5L1144.8 668.9L1143.5 665.4L1143.0 666.4L1140.0 664.6ZM1292.62 667.3a2.05 2.05 0 1 0 4.1 0a2.05 2.05 0 1 0-4.1 0ZM1291.3 666.8L1294.3 668.5L1293.8 669.5L1297.4 668.9L1296.1 665.4L1295.6 666.4L1292.6 664.6ZM1175.93 676.2a2.05 2.05 0 1 0 4.1 0a2.05 2.05 0 1 0-4.1 0ZM1181.5 676.8L1178.3 675.0L1178.9 674.0L1175.1 674.6L1176.5 678.1L1177.1 677.1L1180.2 678.9ZM1328.53 676.2a2.05 2.05 0 1 0 4.1 0a2.05 2.05 0 1 0-4.1 0ZM1334.0 676.8L1330.9 675.0L1331.5 674.0L1327.7 674.6L1329.1 678.1L1329.7 677.1L1332.8 678.9ZM1184.91 694.1a2.05 2.05 0 1 0 4.1 0a2.05 2.05 0 1 0-4.1 0ZM1183.4 693.5L1186.6 695.4L1186.1 696.3L1189.9 695.8L1188.4 692.2L1187.9 693.2L1184.7 691.4ZM1337.50 694.1a2.05 2.05 0 1 0 4.1 0a2.05 2.05 0 1 0-4.1 0ZM1336.0 693.5L1339.2 695.4L1338.7 696.3L1342.5 695.8L1341.0 692.2L1340.5 693.2L1337.3 691.4ZM1220.81 703.1a2.05 2.05 0 1 0 4.1 0a2.05 2.05 0 1 0-4.1 0ZM1226.2 703.5L1223.2 701.8L1223.8 700.9L1220.2 701.5L1221.4 704.9L1222.0 704.0L1224.9 705.7ZM1229.79 720.9a2.05 2.05 0 1 0 4.1 0a2.05 2.05 0 1 0-4.1 0ZM1228.2 720.3L1231.5 722.2L1231.0 723.2L1234.9 722.7L1233.3 719.1L1232.8 720.0L1229.4 718.1ZM1131.05 738.8a2.05 2.05 0 1 0 4.1 0a2.05 2.05 0 1 0-4.1 0ZM1136.7 739.5L1133.4 737.6L1134.0 736.6L1130.1 737.1L1131.6 740.7L1132.2 739.7L1135.5 741.6ZM1283.65 738.8a2.05 2.05 0 1 0 4.1 0a2.05 2.05 0 1 0-4.1 0ZM1289.3 739.5L1286.0 737.6L1286.6 736.6L1282.7 737.1L1284.2 740.7L1284.8 739.7L1288.1 741.6ZM1140.03 756.7a2.05 2.05 0 1 0 4.1 0a2.05 2.05 0 1 0-4.1 0ZM1138.7 756.2L1141.7 758.0L1141.2 758.9L1144.8 758.3L1143.5 754.8L1143.0 755.8L1140.0 754.1ZM1292.62 756.7a2.05 2.05 0 1 0 4.1 0a2.05 2.05 0 1 0-4.1 0ZM1291.3 756.2L1294.3 758.0L1293.8 758.9L1297.4 758.3L1296.1 754.8L1295.6 755.8L1292.6 754.1ZM1175.93 765.7a2.05 2.05 0 1 0 4.1 0a2.05 2.05 0 1 0-4.1 0ZM1181.5 766.2L1178.3 764.4L1178.9 763.5L1175.1 764.0L1176.5 767.5L1177.1 766.6L1180.2 768.4ZM1328.53 765.7a2.05 2.05 0 1 0 4.1 0a2.05 2.05 0 1 0-4.1 0ZM1334.0 766.2L1330.9 764.4L1331.5 763.5L1327.7 764.0L1329.1 767.5L1329.7 766.6L1332.8 768.4ZM1184.91 783.6a2.05 2.05 0 1 0 4.1 0a2.05 2.05 0 1 0-4.1 0ZM1183.4 783.0L1186.6 784.8L1186.1 785.8L1189.9 785.2L1188.4 781.7L1187.9 782.6L1184.7 780.8ZM1337.50 783.6a2.05 2.05 0 1 0 4.1 0a2.05 2.05 0 1 0-4.1 0ZM1336.0 783.0L1339.2 784.8L1338.7 785.8L1342.5 785.2L1341.0 781.7L1340.5 782.6L1337.3 780.8ZM1220.81 792.5a2.05 2.05 0 1 0 4.1 0a2.05 2.05 0 1 0-4.1 0ZM1226.2 793.0L1223.2 791.3L1223.8 790.3L1220.2 791.0L1221.4 794.4L1222.0 793.4L1224.9 795.1Z"/><path fill="#1122ee" d="M1095.15 551.0a2.05 2.05 0 1 0 4.1 0a2.05 2.05 0 1 0-4.1 0ZM1094.0 550.6L1096.8 552.2L1096.3 553.2L1099.8 552.5L1098.6 549.1L1098.1 550.1L1095.2 548.4ZM1113.10 551.0a2.05 2.05 0 1 0 4.1 0a2.05 2.05 0 1 0-4.1 0ZM1118.3 551.4L1115.5 549.8L1116.1 548.8L1112.6 549.5L1113.7 552.9L1114.3 551.9L1117.0 553.5ZM1247.74 551.0a2.05 2.05 0 1 0 4.1 0a2.05 2.05 0 1 0-4.1 0ZM1246.6 550.6L1249.4 552.2L1248.9 553.2L1252.4 552.5L1251.2 549.1L1250.7 550.1L1247.8 548.4ZM1265.69 551.0a2.05 2.05 0 1 0 4.1 0a2.05 2.05 0 1 0-4.1 0ZM1270.9 551.4L1268.1 549.8L1268.7 548.8L1265.2 549.5L1266.3 552.9L1266.9 551.9L1269.6 553.5ZM1113.10 559.9a2.05 2.05 0 1 0 4.1 0a2.05 2.05 0 1 0-4.1 0ZM1112.5 559.8L1114.7 561.1L1114.2 562.1L1117.2 561.1L1116.5 558.0L1116.0 559.0L1113.7 557.7ZM1265.69 559.9a2.05 2.05 0 1 0 4.1 0a2.05 2.05 0 1 0-4.1 0ZM1265.1 559.8L1267.3 561.1L1266.8 562.1L1269.8 561.1L1269.1 558.0L1268.6 559.0L1266.3 557.7ZM1157.98 577.8a2.05 2.05 0 1 0 4.1 0a2.05 2.05 0 1 0-4.1 0ZM1163.0 578.1L1160.4 576.6L1161.0 575.7L1157.7 576.5L1158.6 579.7L1159.2 578.8L1161.7 580.3ZM1310.57 577.8a2.05 2.05 0 1 0 4.1 0a2.05 2.05 0 1 0-4.1 0ZM1315.6 578.1L1313.0 576.6L1313.6 575.7L1310.3 576.5L1311.2 579.7L1311.8 578.8L1314.3 580.3ZM1157.98 586.8a2.05 2.05 0 1 0 4.1 0a2.05 2.05 0 1 0-4.1 0ZM1157.2 586.6L1159.6 588.0L1159.1 588.9L1162.3 588.1L1161.4 584.9L1160.9 585.8L1158.4 584.4ZM1310.57 586.8a2.05 2.05 0 1 0 4.1 0a2.05 2.05 0 1 0-4.1 0ZM1309.8 586.6L1312.2 588.0L1311.7 588.9L1314.9 588.1L1314.0 584.9L1313.5 585.8L1311.0 584.4ZM1202.86 604.7a2.05 2.05 0 1 0 4.1 0a2.05 2.05 0 1 0-4.1 0ZM1207.7 604.8L1205.3 603.5L1205.9 602.5L1202.8 603.4L1203.5 606.6L1204.1 605.6L1206.4 607.0ZM1355.45 604.7a2.05 2.05 0 1 0 4.1 0a2.05 2.05 0 1 0-4.1 0ZM1360.3 604.8L1357.9 603.5L1358.5 602.5L1355.3 603.4L1356.1 606.6L1356.7 605.6L1359.0 607.0ZM1202.86 613.6a2.05 2.05 0 1 0 4.1 0a2.05 2.05 0 1 0-4.1 0ZM1201.9 613.3L1204.5 614.8L1204.0 615.8L1207.3 615.0L1206.3 611.7L1205.8 612.7L1203.1 611.1ZM1355.45 613.6a2.05 2.05 0 1 0 4.1 0a2.05 2.05 0 1 0-4.1 0ZM1354.5 613.3L1357.1 614.8L1356.6 615.8L1359.9 615.0L1358.9 611.7L1358.4 612.7L1355.7 611.1ZM1095.15 640.4a2.05 2.05 0 1 0 4.1 0a2.05 2.05 0 1 0-4.1 0ZM1094.0 640.0L1096.8 641.7L1096.3 642.6L1099.8 641.9L1098.6 638.6L1098.1 639.5L1095.2 637.9ZM1113.10 640.4a2.05 2.05 0 1 0 4.1 0a2.05 2.05 0 1 0-4.1 0ZM1118.3 640.8L1115.5 639.2L1116.1 638.3L1112.6 639.0L1113.7 642.3L1114.3 641.4L1117.0 643.0ZM1247.74 640.4a2.05 2.05 0 1 0 4.1 0a2.05 2.05 0 1 0-4.1 0ZM1246.6 640.0L1249.4 641.7L1248.9 642.6L1252.4 641.9L1251.2 638.6L1250.7 639.5L1247.8 637.9ZM1265.69 640.4a2.05 2.05 0 1 0 4.1 0a2.05 2.05 0 1 0-4.1 0ZM1270.9 640.8L1268.1 639.2L1268.7 638.3L1265.2 639.0L1266.3 642.3L1266.9 641.4L1269.6 643.0ZM1113.10 649.4a2.05 2.05 0 1 0 4.1 0a2.05 2.05 0 1 0-4.1 0ZM1112.5 649.3L1114.7 650.6L1114.2 651.5L1117.2 650.6L1116.5 647.5L1116.0 648.4L1113.7 647.1ZM1265.69 649.4a2.05 2.05 0 1 0 4.1 0a2.05 2.05 0 1 0-4.1 0ZM1265.1 649.3L1267.3 650.6L1266.8 651.5L1269.8 650.6L1269.1 647.5L1268.6 648.4L1266.3 647.1ZM1157.98 667.3a2.05 2.05 0 1 0 4.1 0a2.05 2.05 0 1 0-4.1 0ZM1163.0 667.5L1160.4 666.1L1161.0 665.1L1157.7 665.9L1158.6 669.2L1159.2 668.2L1161.7 669.7ZM1310.57 667.3a2.05 2.05 0 1 0 4.1 0a2.05 2.05 0 1 0-4.1 0ZM1315.6 667.5L1313.0 666.1L1313.6 665.1L1310.3 665.9L1311.2 669.2L1311.8 668.2L1314.3 669.7ZM1157.98 676.2a2.05 2.05 0 1 0 4.1 0a2.05 2.05 0 1 0-4.1 0ZM1157.2 676.0L1159.6 677.4L1159.1 678.4L1162.3 677.5L1161.4 674.3L1160.9 675.3L1158.4 673.9ZM1310.57 676.2a2.05 2.05 0 1 0 4.1 0a2.05 2.05 0 1 0-4.1 0ZM1309.8 676.0L1312.2 677.4L1311.7 678.4L1314.9 677.5L1314.0 674.3L1313.5 675.3L1311.0 673.9ZM1202.86 694.1a2.05 2.05 0 1 0 4.1 0a2.05 2.05 0 1 0-4.1 0ZM1207.7 694.3L1205.3 692.9L1205.9 692.0L1202.8 692.9L1203.5 696.0L1204.1 695.1L1206.4 696.4ZM1355.45 694.1a2.05 2.05 0 1 0 4.1 0a2.05 2.05 0 1 0-4.1 0ZM1360.3 694.3L1357.9 692.9L1358.5 692.0L1355.3 692.9L1356.1 696.0L1356.7 695.1L1359.0 696.4ZM1202.86 703.1a2.05 2.05 0 1 0 4.1 0a2.05 2.05 0 1 0-4.1 0ZM1201.9 702.7L1204.5 704.3L1204.0 705.2L1207.3 704.4L1206.3 701.2L1205.8 702.1L1203.1 700.6ZM1355.45 703.1a2.05 2.05 0 1 0 4.1 0a2.05 2.05 0 1 0-4.1 0ZM1354.5 702.7L1357.1 704.3L1356.6 705.2L1359.9 704.4L1358.9 701.2L1358.4 702.1L1355.7 700.6ZM1095.15 729.9a2.05 2.05 0 1 0 4.1 0a2.05 2.05 0 1 0-4.1 0ZM1094.0 729.5L1096.8 731.1L1096.3 732.1L1099.8 731.4L1098.6 728.0L1098.1 729.0L1095.2 727.3ZM1113.10 729.9a2.05 2.05 0 1 0 4.1 0a2.05 2.05 0 1 0-4.1 0ZM1118.3 730.3L1115.5 728.7L1116.1 727.7L1112.6 728.4L1113.7 731.8L1114.3 730.8L1117.0 732.4ZM1247.74 729.9a2.05 2.05 0 1 0 4.1 0a2.05 2.05 0 1 0-4.1 0ZM1246.6 729.5L1249.4 731.1L1248.9 732.1L1252.4 731.4L1251.2 728.0L1250.7 729.0L1247.8 727.3ZM1265.69 729.9a2.05 2.05 0 1 0 4.1 0a2.05 2.05 0 1 0-4.1 0ZM1270.9 730.3L1268.1 728.7L1268.7 727.7L1265.2 728.4L1266.3 731.8L1266.9 730.8L1269.6 732.4ZM1113.10 738.8a2.05 2.05 0 1 0 4.1 0a2.05 2.05 0 1 0-4.1 0ZM1112.5 738.7L1114.7 740.0L1114.2 741.0L1117.2 740.0L1116.5 736.9L1116.0 737.9L1113.7 736.6ZM1265.69 738.8a2.05 2.05 0 1 0 4.1 0a2.05 2.05 0 1 0-4.1 0ZM1265.1 738.7L1267.3 740.0L1266.8 741.0L1269.8 740.0L1269.1 736.9L1268.6 737.9L1266.3 736.6ZM1157.98 756.7a2.05 2.05 0 1 0 4.1 0a2.05 2.05 0 1 0-4.1 0ZM1163.0 757.0L1160.4 755.5L1161.0 754.6L1157.7 755.4L1158.6 758.6L1159.2 757.7L1161.7 759.2ZM1310.57 756.7a2.05 2.05 0 1 0 4.1 0a2.05 2.05 0 1 0-4.1 0ZM1315.6 757.0L1313.0 755.5L1313.6 754.6L1310.3 755.4L1311.2 758.6L1311.8 757.7L1314.3 759.2ZM1157.98 765.7a2.05 2.05 0 1 0 4.1 0a2.05 2.05 0 1 0-4.1 0ZM1157.2 765.5L1159.6 766.9L1159.1 767.8L1162.3 767.0L1161.4 763.8L1160.9 764.7L1158.4 763.3ZM1310.57 765.7a2.05 2.05 0 1 0 4.1 0a2.05 2.05 0 1 0-4.1 0ZM1309.8 765.5L1312.2 766.9L1311.7 767.8L1314.9 767.0L1314.0 763.8L1313.5 764.7L1311.0 763.3ZM1202.86 783.6a2.05 2.05 0 1 0 4.1 0a2.05 2.05 0 1 0-4.1 0ZM1207.7 783.7L1205.3 782.4L1205.9 781.4L1202.8 782.3L1203.5 785.5L1204.1 784.5L1206.4 785.9ZM1355.45 783.6a2.05 2.05 0 1 0 4.1 0a2.05 2.05 0 1 0-4.1 0ZM1360.3 783.7L1357.9 782.4L1358.5 781.4L1355.3 782.3L1356.1 785.5L1356.7 784.5L1359.0 785.9ZM1202.86 792.5a2.05 2.05 0 1 0 4.1 0a2.05 2.05 0 1 0-4.1 0ZM1201.9 792.2L1204.5 793.7L1204.0 794.7L1207.3 793.9L1206.3 790.6L1205.8 791.6L1203.1 790.0ZM1355.45 792.5a2.05 2.05 0 1 0 4.1 0a2.05 2.05 0 1 0-4.1 0ZM1354.5 792.2L1357.1 793.7L1356.6 794.7L1359.9 793.9L1358.9 790.6L1358.4 791.6L1355.7 790.0Z"/><path fill="#0000ff" d="M1104.13 551.0a2.05 2.05 0 1 0 4.1 0a2.05 2.05 0 1 0-4.1 0ZM1256.72 551.0a2.05 2.05 0 1 0 4.1 0a2.05 2.05 0 1 0-4.1 0ZM1149.01 577.8a2.05 2.05 0 1 0 4.1 0a2.05 2.05 0 1 0-4.1 0ZM1301.60 577.8a2.05 2.05 0 1 0 4.1 0a2.05 2.05 0 1 0-4.1 0ZM1211.84 613.6a2.05 2.05 0 1 0 4.1 0a2.05 2.05 0 1 0-4.1 0ZM1104.13 640.4a2.05 2.05 0 1 0 4.1 0a2.05 2.05 0 1 0-4.1 0ZM1256.72 640.4a2.05 2.05 0 1 0 4.1 0a2.05 2.05 0 1 0-4.1 0ZM1149.01 667.3a2.05 2.05 0 1 0 4.1 0a2.05 2.05 0 1 0-4.1 0ZM1301.60 667.3a2.05 2.05 0 1 0 4.1 0a2.05 2.05 0 1 0-4.1 0ZM1211.84 703.1a2.05 2.05 0 1 0 4.1 0a2.05 2.05 0 1 0-4.1 0ZM1104.13 729.9a2.05 2.05 0 1 0 4.1 0a2.05 2.05 0 1 0-4.1 0ZM1256.72 729.9a2.05 2.05 0 1 0 4.1 0a2.05 2.05 0 1 0-4.1 0ZM1149.01 756.7a2.05 2.05 0 1 0 4.1 0a2.05 2.05 0 1 0-4.1 0ZM1301.60 756.7a2.05 2.05 0 1 0 4.1 0a2.05 2.05 0 1 0-4.1 0ZM1211.84 792.5a2.05 2.05 0 1 0 4.1 0a2.05 2.05 0 1 0-4.1 0Z"/><path fill="#2266dd" d="M1122.08 551.0a2.05 2.05 0 1 0 4.1 0a2.05 2.05 0 1 0-4.1 0ZM1128.7 552.2L1124.4 549.7L1124.9 548.7L1120.2 548.7L1122.6 552.8L1123.1 551.8L1127.4 554.3ZM1238.77 551.0a2.05 2.05 0 1 0 4.1 0a2.05 2.05 0 1 0-4.1 0ZM1236.2 549.8L1240.6 552.3L1240.0 553.3L1244.8 553.3L1242.4 549.2L1241.8 550.1L1237.5 547.6ZM1274.67 551.0a2.05 2.05 0 1 0 4.1 0a2.05 2.05 0 1 0-4.1 0ZM1281.3 552.2L1277.0 549.7L1277.5 548.7L1272.8 548.7L1275.2 552.8L1275.7 551.8L1280.0 554.3ZM1193.89 613.6a2.05 2.05 0 1 0 4.1 0a2.05 2.05 0 1 0-4.1 0ZM1191.5 612.5L1195.7 614.9L1195.1 615.9L1199.8 615.8L1197.5 611.8L1196.9 612.7L1192.7 610.3ZM1346.48 613.6a2.05 2.05 0 1 0 4.1 0a2.05 2.05 0 1 0-4.1 0ZM1344.1 612.5L1348.3 614.9L1347.7 615.9L1352.4 615.8L1350.1 611.8L1349.5 612.7L1345.3 610.3ZM1122.08 640.4a2.05 2.05 0 1 0 4.1 0a2.05 2.05 0 1 0-4.1 0ZM1128.7 641.6L1124.4 639.1L1124.9 638.2L1120.2 638.2L1122.6 642.2L1123.1 641.3L1127.4 643.8ZM1238.77 640.4a2.05 2.05 0 1 0 4.1 0a2.05 2.05 0 1 0-4.1 0ZM1236.2 639.2L1240.6 641.8L1240.0 642.7L1244.8 642.7L1242.4 638.6L1241.8 639.6L1237.5 637.1ZM1274.67 640.4a2.05 2.05 0 1 0 4.1 0a2.05 2.05 0 1 0-4.1 0ZM1281.3 641.6L1277.0 639.1L1277.5 638.2L1272.8 638.2L1275.2 642.2L1275.7 641.3L1280.0 643.8ZM1193.89 703.1a2.05 2.05 0 1 0 4.1 0a2.05 2.05 0 1 0-4.1 0ZM1191.5 701.9L1195.7 704.4L1195.1 705.3L1199.8 705.3L1197.5 701.2L1196.9 702.2L1192.7 699.7ZM1346.48 703.1a2.05 2.05 0 1 0 4.1 0a2.05 2.05 0 1 0-4.1 0ZM1344.1 701.9L1348.3 704.4L1347.7 705.3L1352.4 705.3L1350.1 701.2L1349.5 702.2L1345.3 699.7ZM1122.08 729.9a2.05 2.05 0 1 0 4.1 0a2.05 2.05 0 1 0-4.1 0ZM1128.7 731.1L1124.4 728.6L1124.9 727.6L1120.2 727.6L1122.6 731.7L1123.1 730.7L1127.4 733.2ZM1238.77 729.9a2.05 2.05 0 1 0 4.1 0a2.05 2.05 0 1 0-4.1 0ZM1236.2 728.7L1240.6 731.2L1240.0 732.2L1244.8 732.2L1242.4 728.1L1241.8 729.0L1237.5 726.5ZM1274.67 729.9a2.05 2.05 0 1 0 4.1 0a2.05 2.05 0 1 0-4.1 0ZM1281.3 731.1L1277.0 728.6L1277.5 727.6L1272.8 727.6L1275.2 731.7L1275.7 730.7L1280.0 733.2ZM1193.89 792.5a2.05 2.05 0 1 0 4.1 0a2.05 2.05 0 1 0-4.1 0ZM1191.5 791.4L1195.7 793.8L1195.1 794.8L1199.8 794.7L1197.5 790.7L1196.9 791.6L1192.7 789.2ZM1346.48 792.5a2.05 2.05 0 1 0 4.1 0a2.05 2.05 0 1 0-4.1 0ZM1344.1 791.4L1348.3 793.8L1347.7 794.8L1352.4 794.7L1350.1 790.7L1349.5 791.6L1345.3 789.2Z"/><path fill="#33bbbb" d="M1138.5 552.7L1132.8 549.4L1133.4 548.4L1128.3 548.2L1131.0 552.5L1131.6 551.6L1137.3 554.8ZM1226.4 549.3L1232.1 552.6L1231.6 553.6L1236.7 553.8L1233.9 549.5L1233.4 550.4L1227.6 547.1ZM1291.1 552.7L1285.4 549.4L1286.0 548.4L1280.9 548.2L1283.6 552.5L1284.2 551.6L1289.9 554.8ZM1181.6 611.9L1187.2 615.2L1186.6 616.1L1191.7 616.4L1189.0 612.1L1188.4 613.0L1182.8 609.8ZM1246.3 615.3L1240.5 612.0L1241.0 611.0L1236.0 610.8L1238.7 615.1L1239.2 614.1L1245.0 617.5ZM1334.2 611.9L1339.8 615.2L1339.2 616.1L1344.3 616.4L1341.6 612.1L1341.0 613.0L1335.4 609.8ZM1138.5 642.1L1132.8 638.8L1133.4 637.9L1128.3 637.7L1131.0 642.0L1131.6 641.0L1137.3 644.3ZM1226.4 638.7L1232.1 642.1L1231.6 643.0L1236.7 643.2L1233.9 638.9L1233.4 639.9L1227.6 636.6ZM1291.1 642.1L1285.4 638.8L1286.0 637.9L1280.9 637.7L1283.6 642.0L1284.2 641.0L1289.9 644.3ZM1181.6 701.4L1187.2 704.6L1186.6 705.6L1191.7 705.8L1189.0 701.5L1188.4 702.5L1182.8 699.2ZM1246.3 704.8L1240.5 701.4L1241.0 700.5L1236.0 700.3L1238.7 704.5L1239.2 703.6L1245.0 706.9ZM1334.2 701.4L1339.8 704.6L1339.2 705.6L1344.3 705.8L1341.6 701.5L1341.0 702.5L1335.4 699.2ZM1138.5 731.6L1132.8 728.3L1133.4 727.3L1128.3 727.1L1131.0 731.4L1131.6 730.5L1137.3 733.7ZM1226.4 728.2L1232.1 731.5L1231.6 732.5L1236.7 732.7L1233.9 728.4L1233.4 729.3L1227.6 726.0ZM1291.1 731.6L1285.4 728.3L1286.0 727.3L1280.9 727.1L1283.6 731.4L1284.2 730.5L1289.9 733.7ZM1181.6 790.8L1187.2 794.1L1186.6 795.0L1191.7 795.3L1189.0 791.0L1188.4 791.9L1182.8 788.7ZM1246.3 794.2L1240.5 790.9L1241.0 789.9L1236.0 789.7L1238.7 794.0L1239.2 793.0L1245.0 796.4ZM1334.2 790.8L1339.8 794.1L1339.2 795.0L1344.3 795.3L1341.6 791.0L1341.0 791.9L1335.4 788.7Z"/><path fill="#44dd55" d="M1147.9 552.9L1141.4 549.2L1142.0 548.2L1136.9 548.0L1139.6 552.3L1140.2 551.3L1146.6 555.1ZM1217.1 549.1L1223.5 552.8L1223.0 553.8L1228.0 554.0L1225.3 549.7L1224.8 550.6L1218.3 546.9ZM1300.5 552.9L1294.0 549.2L1294.6 548.2L1289.5 548.0L1292.2 552.3L1292.8 551.3L1299.2 555.1ZM1147.9 642.3L1141.4 638.6L1142.0 637.7L1136.9 637.5L1139.6 641.7L1140.2 640.8L1146.6 644.5ZM1217.1 638.5L1223.5 642.3L1223.0 643.2L1228.0 643.4L1225.3 639.1L1224.8 640.1L1218.3 636.4ZM1300.5 642.3L1294.0 638.6L1294.6 637.7L1289.5 637.5L1292.2 641.7L1292.8 640.8L1299.2 644.5ZM1147.9 731.8L1141.4 728.1L1142.0 727.1L1136.9 726.9L1139.6 731.2L1140.2 730.2L1146.6 734.0ZM1217.1 728.0L1223.5 731.7L1223.0 732.7L1228.0 732.9L1225.3 728.6L1224.8 729.5L1218.3 725.8ZM1300.5 731.8L1294.0 728.1L1294.6 727.1L1289.5 726.9L1292.2 731.2L1292.8 730.2L1299.2 734.0Z"/><path fill="#aadd22" d="M1156.7 552.8L1150.5 549.2L1151.1 548.3L1146.0 548.1L1148.7 552.4L1149.3 551.4L1155.5 555.0ZM1208.2 549.2L1214.4 552.7L1213.9 553.7L1218.9 553.9L1216.2 549.6L1215.7 550.6L1209.5 547.0ZM1309.3 552.8L1303.1 549.2L1303.7 548.3L1298.6 548.1L1301.3 552.4L1301.9 551.4L1308.1 555.0ZM1201.7 579.7L1195.4 576.0L1195.9 575.1L1190.8 574.9L1193.6 579.2L1194.1 578.2L1200.4 581.9ZM1354.3 579.7L1348.0 576.0L1348.5 575.1L1343.4 574.9L1346.2 579.2L1346.7 578.2L1353.0 581.9ZM1163.3 611.8L1169.6 615.4L1169.0 616.3L1174.1 616.5L1171.4 612.3L1170.8 613.2L1164.5 609.6ZM1315.9 611.8L1322.2 615.4L1321.6 616.3L1326.7 616.5L1324.0 612.3L1323.4 613.2L1317.1 609.6ZM1156.7 642.3L1150.5 638.7L1151.1 637.7L1146.0 637.5L1148.7 641.8L1149.3 640.8L1155.5 644.4ZM1208.2 638.6L1214.4 642.2L1213.9 643.1L1218.9 643.4L1216.2 639.1L1215.7 640.0L1209.5 636.4ZM1309.3 642.3L1303.1 638.7L1303.7 637.7L1298.6 637.5L1301.3 641.8L1301.9 640.8L1308.1 644.4ZM1201.7 669.1L1195.4 665.5L1195.9 664.5L1190.8 664.3L1193.6 668.6L1194.1 667.7L1200.4 671.3ZM1354.3 669.1L1348.0 665.5L1348.5 664.5L1343.4 664.3L1346.2 668.6L1346.7 667.7L1353.0 671.3ZM1163.3 701.2L1169.6 704.8L1169.0 705.8L1174.1 706.0L1171.4 701.7L1170.8 702.7L1164.5 699.0ZM1315.9 701.2L1322.2 704.8L1321.6 705.8L1326.7 706.0L1324.0 701.7L1323.4 702.7L1317.1 699.0ZM1156.7 731.7L1150.5 728.1L1151.1 727.2L1146.0 727.0L1148.7 731.3L1149.3 730.3L1155.5 733.9ZM1208.2 728.1L1214.4 731.6L1213.9 732.6L1218.9 732.8L1216.2 728.5L1215.7 729.5L1209.5 725.9ZM1309.3 731.7L1303.1 728.1L1303.7 727.2L1298.6 727.0L1301.3 731.3L1301.9 730.3L1308.1 733.9ZM1201.7 758.6L1195.4 754.9L1195.9 754.0L1190.8 753.8L1193.6 758.1L1194.1 757.1L1200.4 760.8ZM1354.3 758.6L1348.0 754.9L1348.5 754.0L1343.4 753.8L1346.2 758.1L1346.7 757.1L1353.0 760.8ZM1163.3 790.7L1169.6 794.3L1169.0 795.2L1174.1 795.4L1171.4 791.2L1170.8 792.1L1164.5 788.5ZM1315.9 790.7L1322.2 794.3L1321.6 795.2L1326.7 795.4L1324.0 791.2L1323.4 792.1L1317.1 788.5Z"/><path fill="#dd9922" d="M1165.1 552.5L1160.1 549.6L1160.6 548.6L1155.6 548.4L1158.3 552.7L1158.8 551.8L1163.9 554.6ZM1199.9 549.5L1204.8 552.4L1204.3 553.3L1209.3 553.5L1206.6 549.3L1206.1 550.2L1201.1 547.4ZM1317.7 552.5L1312.7 549.6L1313.2 548.6L1308.2 548.4L1310.9 552.7L1311.4 551.8L1316.5 554.6ZM1352.5 549.5L1357.4 552.4L1356.9 553.3L1361.9 553.5L1359.2 549.3L1358.7 550.2L1353.7 547.4ZM1154.9 612.1L1160.0 615.0L1159.5 616.0L1164.5 616.2L1161.8 611.9L1161.3 612.9L1156.2 609.9ZM1307.5 612.1L1312.6 615.0L1312.1 616.0L1317.1 616.2L1314.4 611.9L1313.9 612.9L1308.7 609.9ZM1165.1 641.9L1160.1 639.0L1160.6 638.1L1155.6 637.9L1158.3 642.2L1158.8 641.2L1163.9 644.1ZM1199.9 639.0L1204.8 641.8L1204.3 642.8L1209.3 643.0L1206.6 638.7L1206.1 639.7L1201.1 636.8ZM1317.7 641.9L1312.7 639.0L1313.2 638.1L1308.2 637.9L1310.9 642.2L1311.4 641.2L1316.5 644.1ZM1352.5 639.0L1357.4 641.8L1356.9 642.8L1361.9 643.0L1359.2 638.7L1358.7 639.7L1353.7 636.8ZM1154.9 701.5L1160.0 704.5L1159.5 705.4L1164.5 705.7L1161.8 701.4L1161.3 702.3L1156.2 699.4ZM1307.5 701.5L1312.6 704.5L1312.1 705.4L1317.1 705.7L1314.4 701.4L1313.9 702.3L1308.7 699.4ZM1165.1 731.4L1160.1 728.5L1160.6 727.5L1155.6 727.3L1158.3 731.6L1158.8 730.7L1163.9 733.5ZM1199.9 728.4L1204.8 731.3L1204.3 732.2L1209.3 732.4L1206.6 728.2L1206.1 729.1L1201.1 726.3ZM1317.7 731.4L1312.7 728.5L1313.2 727.5L1308.2 727.3L1310.9 731.6L1311.4 730.7L1316.5 733.5ZM1352.5 728.4L1357.4 731.3L1356.9 732.2L1361.9 732.4L1359.2 728.2L1358.7 729.1L1353.7 726.3ZM1154.9 791.0L1160.0 793.9L1159.5 794.9L1164.5 795.1L1161.8 790.8L1161.3 791.8L1156.2 788.8ZM1307.5 791.0L1312.6 793.9L1312.1 794.9L1317.1 795.1L1314.4 790.8L1313.9 791.8L1308.7 788.8Z"/><path fill="#bb4411" d="M1166.96 551.0a2.05 2.05 0 1 0 4.1 0a2.05 2.05 0 1 0-4.1 0ZM1173.0 551.8L1169.3 549.7L1169.8 548.8L1165.7 549.1L1167.5 552.8L1168.0 551.9L1171.7 554.0ZM1193.89 551.0a2.05 2.05 0 1 0 4.1 0a2.05 2.05 0 1 0-4.1 0ZM1192.0 550.2L1195.6 552.3L1195.1 553.2L1199.2 552.9L1197.4 549.1L1196.9 550.1L1193.3 548.0ZM1319.55 551.0a2.05 2.05 0 1 0 4.1 0a2.05 2.05 0 1 0-4.1 0ZM1325.6 551.8L1321.9 549.7L1322.4 548.8L1318.3 549.1L1320.1 552.8L1320.6 551.9L1324.3 554.0ZM1346.48 551.0a2.05 2.05 0 1 0 4.1 0a2.05 2.05 0 1 0-4.1 0ZM1344.6 550.2L1348.2 552.3L1347.7 553.2L1351.8 552.9L1350.0 549.1L1349.5 550.1L1345.9 548.0ZM1211.84 577.8a2.05 2.05 0 1 0 4.1 0a2.05 2.05 0 1 0-4.1 0ZM1218.0 578.8L1214.2 576.5L1214.7 575.6L1210.4 575.8L1212.4 579.7L1212.9 578.7L1216.7 580.9ZM1104.13 586.8a2.05 2.05 0 1 0 4.1 0a2.05 2.05 0 1 0-4.1 0ZM1102.0 585.8L1105.9 588.1L1105.4 589.0L1109.7 588.8L1107.7 584.9L1107.2 585.9L1103.2 583.6ZM1256.72 586.8a2.05 2.05 0 1 0 4.1 0a2.05 2.05 0 1 0-4.1 0ZM1254.6 585.8L1258.5 588.1L1257.9 589.0L1262.3 588.8L1260.3 584.9L1259.7 585.9L1255.8 583.6ZM1149.01 613.6a2.05 2.05 0 1 0 4.1 0a2.05 2.05 0 1 0-4.1 0ZM1147.0 612.7L1150.8 614.9L1150.2 615.8L1154.5 615.6L1152.6 611.8L1152.0 612.7L1148.3 610.5ZM1301.60 613.6a2.05 2.05 0 1 0 4.1 0a2.05 2.05 0 1 0-4.1 0ZM1299.6 612.7L1303.4 614.9L1302.8 615.8L1307.1 615.6L1305.2 611.8L1304.6 612.7L1300.8 610.5ZM1166.96 640.4a2.05 2.05 0 1 0 4.1 0a2.05 2.05 0 1 0-4.1 0ZM1173.0 641.3L1169.3 639.2L1169.8 638.2L1165.7 638.5L1167.5 642.3L1168.0 641.3L1171.7 643.5ZM1193.89 640.4a2.05 2.05 0 1 0 4.1 0a2.05 2.05 0 1 0-4.1 0ZM1192.0 639.6L1195.6 641.7L1195.1 642.7L1199.2 642.3L1197.4 638.6L1196.9 639.5L1193.3 637.5ZM1319.55 640.4a2.05 2.05 0 1 0 4.1 0a2.05 2.05 0 1 0-4.1 0ZM1325.6 641.3L1321.9 639.2L1322.4 638.2L1318.3 638.5L1320.1 642.3L1320.6 641.3L1324.3 643.5ZM1346.48 640.4a2.05 2.05 0 1 0 4.1 0a2.05 2.05 0 1 0-4.1 0ZM1344.6 639.6L1348.2 641.7L1347.7 642.7L1351.8 642.3L1350.0 638.6L1349.5 639.5L1345.9 637.5ZM1211.84 667.3a2.05 2.05 0 1 0 4.1 0a2.05 2.05 0 1 0-4.1 0ZM1218.0 668.2L1214.2 666.0L1214.7 665.0L1210.4 665.3L1212.4 669.1L1212.9 668.2L1216.7 670.4ZM1104.13 676.2a2.05 2.05 0 1 0 4.1 0a2.05 2.05 0 1 0-4.1 0ZM1102.0 675.2L1105.9 677.5L1105.4 678.5L1109.7 678.3L1107.7 674.4L1107.2 675.3L1103.2 673.1ZM1256.72 676.2a2.05 2.05 0 1 0 4.1 0a2.05 2.05 0 1 0-4.1 0ZM1254.6 675.2L1258.5 677.5L1257.9 678.5L1262.3 678.3L1260.3 674.4L1259.7 675.3L1255.8 673.1ZM1149.01 703.1a2.05 2.05 0 1 0 4.1 0a2.05 2.05 0 1 0-4.1 0ZM1147.0 702.2L1150.8 704.3L1150.2 705.3L1154.5 705.0L1152.6 701.2L1152.0 702.2L1148.3 700.0ZM1301.60 703.1a2.05 2.05 0 1 0 4.1 0a2.05 2.05 0 1 0-4.1 0ZM1299.6 702.2L1303.4 704.3L1302.8 705.3L1307.1 705.0L1305.2 701.2L1304.6 702.2L1300.8 700.0ZM1166.96 729.9a2.05 2.05 0 1 0 4.1 0a2.05 2.05 0 1 0-4.1 0ZM1173.0 730.7L1169.3 728.6L1169.8 727.7L1165.7 728.0L1167.5 731.7L1168.0 730.8L1171.7 732.9ZM1193.89 729.9a2.05 2.05 0 1 0 4.1 0a2.05 2.05 0 1 0-4.1 0ZM1192.0 729.1L1195.6 731.2L1195.1 732.1L1199.2 731.8L1197.4 728.0L1196.9 729.0L1193.3 726.9ZM1319.55 729.9a2.05 2.05 0 1 0 4.1 0a2.05 2.05 0 1 0-4.1 0ZM1325.6 730.7L1321.9 728.6L1322.4 727.7L1318.3 728.0L1320.1 731.7L1320.6 730.8L1324.3 732.9ZM1346.48 729.9a2.05 2.05 0 1 0 4.1 0a2.05 2.05 0 1 0-4.1 0ZM1344.6 729.1L1348.2 731.2L1347.7 732.1L1351.8 731.8L1350.0 728.0L1349.5 729.0L1345.9 726.9ZM1211.84 756.7a2.05 2.05 0 1 0 4.1 0a2.05 2.05 0 1 0-4.1 0ZM1218.0 757.7L1214.2 755.4L1214.7 754.5L1210.4 754.7L1212.4 758.6L1212.9 757.6L1216.7 759.8ZM1104.13 765.7a2.05 2.05 0 1 0 4.1 0a2.05 2.05 0 1 0-4.1 0ZM1102.0 764.7L1105.9 767.0L1105.4 767.9L1109.7 767.7L1107.7 763.8L1107.2 764.8L1103.2 762.5ZM1256.72 765.7a2.05 2.05 0 1 0 4.1 0a2.05 2.05 0 1 0-4.1 0ZM1254.6 764.7L1258.5 767.0L1257.9 767.9L1262.3 767.7L1260.3 763.8L1259.7 764.8L1255.8 762.5ZM1149.01 792.5a2.05 2.05 0 1 0 4.1 0a2.05 2.05 0 1 0-4.1 0ZM1147.0 791.6L1150.8 793.8L1150.2 794.7L1154.5 794.5L1152.6 790.7L1152.0 791.6L1148.3 789.4ZM1301.60 792.5a2.05 2.05 0 1 0 4.1 0a2.05 2.05 0 1 0-4.1 0ZM1299.6 791.6L1303.4 793.8L1302.8 794.7L1307.1 794.5L1305.2 790.7L1304.6 791.6L1300.8 789.4Z"/><path fill="#992211" d="M1175.93 551.0a2.05 2.05 0 1 0 4.1 0a2.05 2.05 0 1 0-4.1 0ZM1180.2 550.8L1178.4 549.8L1179.0 548.9L1176.4 550.0L1176.6 552.9L1177.2 552.0L1179.0 553.0ZM1184.91 551.0a2.05 2.05 0 1 0 4.1 0a2.05 2.05 0 1 0-4.1 0ZM1184.8 551.2L1186.5 552.2L1185.9 553.1L1188.5 551.9L1188.3 549.0L1187.7 550.0L1186.0 549.0ZM1328.53 551.0a2.05 2.05 0 1 0 4.1 0a2.05 2.05 0 1 0-4.1 0ZM1332.8 550.8L1331.0 549.8L1331.6 548.9L1328.9 550.0L1329.2 552.9L1329.8 552.0L1331.6 553.0ZM1337.50 551.0a2.05 2.05 0 1 0 4.1 0a2.05 2.05 0 1 0-4.1 0ZM1337.4 551.2L1339.1 552.2L1338.5 553.1L1341.1 551.9L1340.9 549.0L1340.3 550.0L1338.6 549.0ZM1202.86 559.9a2.05 2.05 0 1 0 4.1 0a2.05 2.05 0 1 0-4.1 0ZM1202.1 559.8L1204.5 561.1L1204.0 562.1L1207.1 561.2L1206.3 558.0L1205.8 559.0L1203.4 557.6ZM1355.45 559.9a2.05 2.05 0 1 0 4.1 0a2.05 2.05 0 1 0-4.1 0ZM1354.7 559.8L1357.1 561.1L1356.5 562.1L1359.7 561.2L1358.9 558.0L1358.3 559.0L1356.0 557.6ZM1220.81 577.8a2.05 2.05 0 1 0 4.1 0a2.05 2.05 0 1 0-4.1 0ZM1225.3 577.8L1223.3 576.6L1223.9 575.7L1221.0 576.8L1221.5 579.8L1222.1 578.8L1224.1 580.0ZM1095.15 586.8a2.05 2.05 0 1 0 4.1 0a2.05 2.05 0 1 0-4.1 0ZM1094.6 586.7L1096.8 588.0L1096.2 588.9L1099.2 587.9L1098.6 584.8L1098.0 585.8L1095.9 584.6ZM1247.74 586.8a2.05 2.05 0 1 0 4.1 0a2.05 2.05 0 1 0-4.1 0ZM1247.2 586.7L1249.4 588.0L1248.8 588.9L1251.8 587.9L1251.2 584.8L1250.6 585.8L1248.5 584.6ZM1113.10 604.7a2.05 2.05 0 1 0 4.1 0a2.05 2.05 0 1 0-4.1 0ZM1117.8 604.8L1115.6 603.5L1116.1 602.5L1113.1 603.5L1113.8 606.6L1114.3 605.6L1116.6 606.9ZM1265.69 604.7a2.05 2.05 0 1 0 4.1 0a2.05 2.05 0 1 0-4.1 0ZM1270.4 604.8L1268.2 603.5L1268.7 602.5L1265.7 603.5L1266.4 606.6L1266.9 605.6L1269.2 606.9ZM1140.03 613.6a2.05 2.05 0 1 0 4.1 0a2.05 2.05 0 1 0-4.1 0ZM1139.7 613.7L1141.6 614.8L1141.1 615.7L1143.8 614.6L1143.4 611.7L1142.9 612.6L1140.9 611.5ZM1292.62 613.6a2.05 2.05 0 1 0 4.1 0a2.05 2.05 0 1 0-4.1 0ZM1292.3 613.7L1294.2 614.8L1293.7 615.7L1296.4 614.6L1296.0 611.7L1295.5 612.6L1293.5 611.5ZM1175.93 640.4a2.05 2.05 0 1 0 4.1 0a2.05 2.05 0 1 0-4.1 0ZM1180.2 640.3L1178.4 639.3L1179.0 638.3L1176.4 639.5L1176.6 642.4L1177.2 641.4L1179.0 642.5ZM1184.91 640.4a2.05 2.05 0 1 0 4.1 0a2.05 2.05 0 1 0-4.1 0ZM1184.8 640.6L1186.5 641.6L1185.9 642.6L1188.5 641.3L1188.3 638.5L1187.7 639.4L1186.0 638.5ZM1328.53 640.4a2.05 2.05 0 1 0 4.1 0a2.05 2.05 0 1 0-4.1 0ZM1332.8 640.3L1331.0 639.3L1331.6 638.3L1328.9 639.5L1329.2 642.4L1329.8 641.4L1331.6 642.5ZM1337.50 640.4a2.05 2.05 0 1 0 4.1 0a2.05 2.05 0 1 0-4.1 0ZM1337.4 640.6L1339.1 641.6L1338.5 642.6L1341.1 641.3L1340.9 638.5L1340.3 639.4L1338.6 638.5ZM1202.86 649.4a2.05 2.05 0 1 0 4.1 0a2.05 2.05 0 1 0-4.1 0ZM1202.1 649.2L1204.5 650.6L1204.0 651.5L1207.1 650.6L1206.3 647.5L1205.8 648.4L1203.4 647.1ZM1355.45 649.4a2.05 2.05 0 1 0 4.1 0a2.05 2.05 0 1 0-4.1 0ZM1354.7 649.2L1357.1 650.6L1356.5 651.5L1359.7 650.6L1358.9 647.5L1358.3 648.4L1356.0 647.1ZM1220.81 667.3a2.05 2.05 0 1 0 4.1 0a2.05 2.05 0 1 0-4.1 0ZM1225.3 667.3L1223.3 666.1L1223.9 665.1L1221.0 666.2L1221.5 669.2L1222.1 668.3L1224.1 669.4ZM1095.15 676.2a2.05 2.05 0 1 0 4.1 0a2.05 2.05 0 1 0-4.1 0ZM1094.6 676.2L1096.8 677.4L1096.2 678.4L1099.2 677.4L1098.6 674.3L1098.0 675.3L1095.9 674.0ZM1247.74 676.2a2.05 2.05 0 1 0 4.1 0a2.05 2.05 0 1 0-4.1 0ZM1247.2 676.2L1249.4 677.4L1248.8 678.4L1251.8 677.4L1251.2 674.3L1250.6 675.3L1248.5 674.0ZM1113.10 694.1a2.05 2.05 0 1 0 4.1 0a2.05 2.05 0 1 0-4.1 0ZM1117.8 694.2L1115.6 692.9L1116.1 692.0L1113.1 692.9L1113.8 696.0L1114.3 695.1L1116.6 696.4ZM1265.69 694.1a2.05 2.05 0 1 0 4.1 0a2.05 2.05 0 1 0-4.1 0ZM1270.4 694.2L1268.2 692.9L1268.7 692.0L1265.7 692.9L1266.4 696.0L1266.9 695.1L1269.2 696.4ZM1140.03 703.1a2.05 2.05 0 1 0 4.1 0a2.05 2.05 0 1 0-4.1 0ZM1139.7 703.1L1141.6 704.2L1141.1 705.2L1143.8 704.1L1143.4 701.1L1142.9 702.1L1140.9 701.0ZM1292.62 703.1a2.05 2.05 0 1 0 4.1 0a2.05 2.05 0 1 0-4.1 0ZM1292.3 703.1L1294.2 704.2L1293.7 705.2L1296.4 704.1L1296.0 701.1L1295.5 702.1L1293.5 701.0ZM1175.93 729.9a2.05 2.05 0 1 0 4.1 0a2.05 2.05 0 1 0-4.1 0ZM1180.2 729.7L1178.4 728.7L1179.0 727.8L1176.4 728.9L1176.6 731.8L1177.2 730.9L1179.0 731.9ZM1184.91 729.9a2.05 2.05 0 1 0 4.1 0a2.05 2.05 0 1 0-4.1 0ZM1184.8 730.1L1186.5 731.1L1185.9 732.0L1188.5 730.8L1188.3 727.9L1187.7 728.9L1186.0 727.9ZM1328.53 729.9a2.05 2.05 0 1 0 4.1 0a2.05 2.05 0 1 0-4.1 0ZM1332.8 729.7L1331.0 728.7L1331.6 727.8L1328.9 728.9L1329.2 731.8L1329.8 730.9L1331.6 731.9ZM1337.50 729.9a2.05 2.05 0 1 0 4.1 0a2.05 2.05 0 1 0-4.1 0ZM1337.4 730.1L1339.1 731.1L1338.5 732.0L1341.1 730.8L1340.9 727.9L1340.3 728.9L1338.6 727.9ZM1202.86 738.8a2.05 2.05 0 1 0 4.1 0a2.05 2.05 0 1 0-4.1 0ZM1202.1 738.7L1204.5 740.0L1204.0 741.0L1207.1 740.1L1206.3 736.9L1205.8 737.9L1203.4 736.5ZM1355.45 738.8a2.05 2.05 0 1 0 4.1 0a2.05 2.05 0 1 0-4.1 0ZM1354.7 738.7L1357.1 740.0L1356.5 741.0L1359.7 740.1L1358.9 736.9L1358.3 737.9L1356.0 736.5ZM1220.81 756.7a2.05 2.05 0 1 0 4.1 0a2.05 2.05 0 1 0-4.1 0ZM1225.3 756.7L1223.3 755.5L1223.9 754.6L1221.0 755.7L1221.5 758.7L1222.1 757.7L1224.1 758.9ZM1095.15 765.7a2.05 2.05 0 1 0 4.1 0a2.05 2.05 0 1 0-4.1 0ZM1094.6 765.6L1096.8 766.9L1096.2 767.8L1099.2 766.8L1098.6 763.7L1098.0 764.7L1095.9 763.5ZM1247.74 765.7a2.05 2.05 0 1 0 4.1 0a2.05 2.05 0 1 0-4.1 0ZM1247.2 765.6L1249.4 766.9L1248.8 767.8L1251.8 766.8L1251.2 763.7L1250.6 764.7L1248.5 763.5ZM1113.10 783.6a2.05 2.05 0 1 0 4.1 0a2.05 2.05 0 1 0-4.1 0ZM1117.8 783.7L1115.6 782.4L1116.1 781.4L1113.1 782.4L1113.8 785.5L1114.3 784.5L1116.6 785.8ZM1265.69 783.6a2.05 2.05 0 1 0 4.1 0a2.05 2.05 0 1 0-4.1 0ZM1270.4 783.7L1268.2 782.4L1268.7 781.4L1265.7 782.4L1266.4 785.5L1266.9 784.5L1269.2 785.8ZM1140.03 792.5a2.05 2.05 0 1 0 4.1 0a2.05 2.05 0 1 0-4.1 0ZM1139.7 792.6L1141.6 793.7L1141.1 794.6L1143.8 793.5L1143.4 790.6L1142.9 791.5L1140.9 790.4ZM1292.62 792.5a2.05 2.05 0 1 0 4.1 0a2.05 2.05 0 1 0-4.1 0ZM1292.3 792.6L1294.2 793.7L1293.7 794.6L1296.4 793.5L1296.0 790.6L1295.5 791.5L1293.5 790.4Z"/><path fill="#bbcc22" d="M1174.6 561.7L1168.6 558.3L1169.1 557.3L1164.1 557.1L1166.8 561.4L1167.3 560.4L1173.3 563.9ZM1327.2 561.7L1321.2 558.3L1321.7 557.3L1316.7 557.1L1319.4 561.4L1319.9 560.4L1325.9 563.9ZM1219.5 588.6L1213.4 585.1L1214.0 584.1L1208.9 583.9L1211.6 588.2L1212.2 587.2L1218.2 590.7ZM1145.5 602.9L1151.5 606.4L1150.9 607.3L1156.0 607.5L1153.3 603.2L1152.7 604.2L1146.7 600.7ZM1298.1 602.9L1304.1 606.4L1303.5 607.3L1308.6 607.5L1305.9 603.2L1305.3 604.2L1299.3 600.7ZM1174.6 651.2L1168.6 647.7L1169.1 646.8L1164.1 646.5L1166.8 650.8L1167.3 649.9L1173.3 653.3ZM1327.2 651.2L1321.2 647.7L1321.7 646.8L1316.7 646.5L1319.4 650.8L1319.9 649.9L1325.9 653.3ZM1219.5 678.0L1213.4 674.5L1214.0 673.6L1208.9 673.3L1211.6 677.6L1212.2 676.7L1218.2 680.2ZM1145.5 692.3L1151.5 695.8L1150.9 696.8L1156.0 697.0L1153.3 692.7L1152.7 693.6L1146.7 690.2ZM1298.1 692.3L1304.1 695.8L1303.5 696.8L1308.6 697.0L1305.9 692.7L1305.3 693.6L1299.3 690.2ZM1174.6 740.6L1168.6 737.2L1169.1 736.2L1164.1 736.0L1166.8 740.3L1167.3 739.3L1173.3 742.8ZM1327.2 740.6L1321.2 737.2L1321.7 736.2L1316.7 736.0L1319.4 740.3L1319.9 739.3L1325.9 742.8ZM1219.5 767.5L1213.4 764.0L1214.0 763.0L1208.9 762.8L1211.6 767.1L1212.2 766.1L1218.2 769.6ZM1145.5 781.8L1151.5 785.3L1150.9 786.2L1156.0 786.4L1153.3 782.1L1152.7 783.1L1146.7 779.6ZM1298.1 781.8L1304.1 785.3L1303.5 786.2L1308.6 786.4L1305.9 782.1L1305.3 783.1L1299.3 779.6Z"/><path fill="#88dd22" d="M1226.1 558.0L1232.5 561.7L1231.9 562.7L1237.0 562.9L1234.3 558.6L1233.7 559.6L1227.3 555.9ZM1226.1 647.5L1232.5 651.2L1231.9 652.1L1237.0 652.4L1234.3 648.1L1233.7 649.0L1227.3 645.3ZM1226.1 736.9L1232.5 740.6L1231.9 741.6L1237.0 741.8L1234.3 737.5L1233.7 738.5L1227.3 734.8Z"/><path fill="#44dd77" d="M1235.1 558.1L1241.4 561.7L1240.9 562.7L1245.9 562.9L1243.2 558.6L1242.7 559.6L1236.3 555.9ZM1237.6 606.5L1231.2 602.9L1231.8 601.9L1226.7 601.7L1229.4 606.0L1230.0 605.0L1236.4 608.7ZM1235.1 647.5L1241.4 651.2L1240.9 652.1L1245.9 652.3L1243.2 648.1L1242.7 649.0L1236.3 645.3ZM1237.6 696.0L1231.2 692.3L1231.8 691.4L1226.7 691.1L1229.4 695.4L1230.0 694.5L1236.4 698.2ZM1235.1 737.0L1241.4 740.6L1240.9 741.6L1245.9 741.8L1243.2 737.5L1242.7 738.5L1236.3 734.8ZM1237.6 785.4L1231.2 781.8L1231.8 780.8L1226.7 780.6L1229.4 784.9L1230.0 783.9L1236.4 787.6Z"/><path fill="#1111ff" d="M1131.05 568.9a2.05 2.05 0 1 0 4.1 0a2.05 2.05 0 1 0-4.1 0ZM1140.03 568.9a2.05 2.05 0 1 0 4.1 0a2.05 2.05 0 1 0-4.1 0ZM1144.5 568.8L1142.5 567.7L1143.1 566.7L1140.3 567.9L1140.7 570.8L1141.3 569.9L1143.2 571.0ZM1283.65 568.9a2.05 2.05 0 1 0 4.1 0a2.05 2.05 0 1 0-4.1 0ZM1292.62 568.9a2.05 2.05 0 1 0 4.1 0a2.05 2.05 0 1 0-4.1 0ZM1297.1 568.8L1295.1 567.7L1295.7 566.7L1292.9 567.9L1293.3 570.8L1293.9 569.9L1295.8 571.0ZM1175.93 595.7a2.05 2.05 0 1 0 4.1 0a2.05 2.05 0 1 0-4.1 0ZM1175.7 595.9L1177.5 596.9L1177.0 597.8L1179.6 596.7L1179.3 593.8L1178.8 594.7L1177.0 593.7ZM1184.91 595.7a2.05 2.05 0 1 0 4.1 0a2.05 2.05 0 1 0-4.1 0ZM1189.1 595.5L1187.4 594.5L1188.0 593.6L1185.4 594.8L1185.6 597.7L1186.2 596.7L1187.9 597.7ZM1328.53 595.7a2.05 2.05 0 1 0 4.1 0a2.05 2.05 0 1 0-4.1 0ZM1328.3 595.9L1330.1 596.9L1329.6 597.8L1332.2 596.7L1331.9 593.8L1331.4 594.7L1329.6 593.7ZM1337.50 595.7a2.05 2.05 0 1 0 4.1 0a2.05 2.05 0 1 0-4.1 0ZM1341.7 595.5L1340.0 594.5L1340.6 593.6L1338.0 594.8L1338.2 597.7L1338.8 596.7L1340.5 597.7ZM1131.05 658.3a2.05 2.05 0 1 0 4.1 0a2.05 2.05 0 1 0-4.1 0ZM1140.03 658.3a2.05 2.05 0 1 0 4.1 0a2.05 2.05 0 1 0-4.1 0ZM1144.5 658.3L1142.5 657.1L1143.1 656.2L1140.3 657.3L1140.7 660.3L1141.3 659.3L1143.2 660.4ZM1283.65 658.3a2.05 2.05 0 1 0 4.1 0a2.05 2.05 0 1 0-4.1 0ZM1292.62 658.3a2.05 2.05 0 1 0 4.1 0a2.05 2.05 0 1 0-4.1 0ZM1297.1 658.3L1295.1 657.1L1295.7 656.2L1292.9 657.3L1293.3 660.3L1293.9 659.3L1295.8 660.4ZM1175.93 685.2a2.05 2.05 0 1 0 4.1 0a2.05 2.05 0 1 0-4.1 0ZM1175.7 685.3L1177.5 686.3L1177.0 687.3L1179.6 686.1L1179.3 683.2L1178.8 684.2L1177.0 683.1ZM1184.91 685.2a2.05 2.05 0 1 0 4.1 0a2.05 2.05 0 1 0-4.1 0ZM1189.1 685.0L1187.4 684.0L1188.0 683.0L1185.4 684.3L1185.6 687.1L1186.2 686.2L1187.9 687.1ZM1328.53 685.2a2.05 2.05 0 1 0 4.1 0a2.05 2.05 0 1 0-4.1 0ZM1328.3 685.3L1330.1 686.3L1329.6 687.3L1332.2 686.1L1331.9 683.2L1331.4 684.2L1329.6 683.1ZM1337.50 685.2a2.05 2.05 0 1 0 4.1 0a2.05 2.05 0 1 0-4.1 0ZM1341.7 685.0L1340.0 684.0L1340.6 683.0L1338.0 684.3L1338.2 687.1L1338.8 686.2L1340.5 687.1ZM1131.05 747.8a2.05 2.05 0 1 0 4.1 0a2.05 2.05 0 1 0-4.1 0ZM1140.03 747.8a2.05 2.05 0 1 0 4.1 0a2.05 2.05 0 1 0-4.1 0ZM1144.5 747.7L1142.5 746.6L1143.1 745.6L1140.3 746.8L1140.7 749.7L1141.3 748.8L1143.2 749.9ZM1283.65 747.8a2.05 2.05 0 1 0 4.1 0a2.05 2.05 0 1 0-4.1 0ZM1292.62 747.8a2.05 2.05 0 1 0 4.1 0a2.05 2.05 0 1 0-4.1 0ZM1297.1 747.7L1295.1 746.6L1295.7 745.6L1292.9 746.8L1293.3 749.7L1293.9 748.8L1295.8 749.9ZM1175.93 774.6a2.05 2.05 0 1 0 4.1 0a2.05 2.05 0 1 0-4.1 0ZM1175.7 774.8L1177.5 775.8L1177.0 776.7L1179.6 775.6L1179.3 772.7L1178.8 773.6L1177.0 772.6ZM1184.91 774.6a2.05 2.05 0 1 0 4.1 0a2.05 2.05 0 1 0-4.1 0ZM1189.1 774.4L1187.4 773.4L1188.0 772.5L1185.4 773.7L1185.6 776.6L1186.2 775.6L1187.9 776.6ZM1328.53 774.6a2.05 2.05 0 1 0 4.1 0a2.05 2.05 0 1 0-4.1 0ZM1328.3 774.8L1330.1 775.8L1329.6 776.7L1332.2 775.6L1331.9 772.7L1331.4 773.6L1329.6 772.6ZM1337.50 774.6a2.05 2.05 0 1 0 4.1 0a2.05 2.05 0 1 0-4.1 0ZM1341.7 774.4L1340.0 773.4L1340.6 772.5L1338.0 773.7L1338.2 776.6L1338.8 775.6L1340.5 776.6Z"/><path fill="#3399cc" d="M1165.2 570.4L1160.0 567.4L1160.6 566.5L1155.5 566.3L1158.2 570.6L1158.8 569.6L1163.9 572.6ZM1317.8 570.4L1312.6 567.4L1313.2 566.5L1308.1 566.3L1310.8 570.6L1311.4 569.6L1316.5 572.6ZM1155.0 594.2L1160.0 597.1L1159.4 598.1L1164.5 598.3L1161.8 594.0L1161.2 595.0L1156.2 592.1ZM1210.0 597.2L1205.0 594.3L1205.6 593.4L1200.5 593.2L1203.2 597.4L1203.8 596.5L1208.7 599.3ZM1307.5 594.2L1312.6 597.1L1312.0 598.1L1317.1 598.3L1314.4 594.0L1313.8 595.0L1308.8 592.1ZM1362.5 597.2L1357.6 594.3L1358.2 593.4L1353.1 593.2L1355.8 597.4L1356.4 596.5L1361.3 599.3ZM1165.2 659.8L1160.0 656.9L1160.6 655.9L1155.5 655.7L1158.2 660.0L1158.8 659.1L1163.9 662.0ZM1317.8 659.8L1312.6 656.9L1313.2 655.9L1308.1 655.7L1310.8 660.0L1311.4 659.1L1316.5 662.0ZM1155.0 683.7L1160.0 686.6L1159.4 687.5L1164.5 687.7L1161.8 683.5L1161.2 684.4L1156.2 681.5ZM1210.0 686.6L1205.0 683.8L1205.6 682.8L1200.5 682.6L1203.2 686.9L1203.8 685.9L1208.7 688.8ZM1307.5 683.7L1312.6 686.6L1312.0 687.5L1317.1 687.7L1314.4 683.5L1313.8 684.4L1308.8 681.5ZM1362.5 686.6L1357.6 683.8L1358.2 682.8L1353.1 682.6L1355.8 686.9L1356.4 685.9L1361.3 688.8ZM1165.2 749.3L1160.0 746.3L1160.6 745.4L1155.5 745.2L1158.2 749.5L1158.8 748.5L1163.9 751.5ZM1317.8 749.3L1312.6 746.3L1313.2 745.4L1308.1 745.2L1310.8 749.5L1311.4 748.5L1316.5 751.5ZM1155.0 773.1L1160.0 776.0L1159.4 777.0L1164.5 777.2L1161.8 772.9L1161.2 773.9L1156.2 771.0ZM1210.0 776.1L1205.0 773.2L1205.6 772.3L1200.5 772.1L1203.2 776.3L1203.8 775.4L1208.7 778.2ZM1307.5 773.1L1312.6 776.0L1312.0 777.0L1317.1 777.2L1314.4 772.9L1313.8 773.9L1308.8 771.0ZM1362.5 776.1L1357.6 773.2L1358.2 772.3L1353.1 772.1L1355.8 776.3L1356.4 775.4L1361.3 778.2Z"/><path fill="#cc6622" d="M1193.89 568.9a2.05 2.05 0 1 0 4.1 0a2.05 2.05 0 1 0-4.1 0ZM1200.4 570.0L1196.2 567.6L1196.7 566.6L1192.1 566.7L1194.4 570.7L1194.9 569.7L1199.2 572.2ZM1229.79 568.9a2.05 2.05 0 1 0 4.1 0a2.05 2.05 0 1 0-4.1 0ZM1227.2 567.6L1231.6 570.2L1231.1 571.1L1235.9 571.2L1233.4 567.1L1232.9 568.0L1228.4 565.5ZM1346.48 568.9a2.05 2.05 0 1 0 4.1 0a2.05 2.05 0 1 0-4.1 0ZM1353.0 570.0L1348.8 567.6L1349.3 566.6L1344.7 566.7L1347.0 570.7L1347.5 569.7L1351.8 572.2ZM1122.08 595.7a2.05 2.05 0 1 0 4.1 0a2.05 2.05 0 1 0-4.1 0ZM1119.6 594.5L1123.9 597.0L1123.3 598.0L1128.0 598.0L1125.7 593.9L1125.1 594.9L1120.8 592.4ZM1238.77 595.7a2.05 2.05 0 1 0 4.1 0a2.05 2.05 0 1 0-4.1 0ZM1245.4 596.9L1241.0 594.4L1241.6 593.5L1236.9 593.4L1239.2 597.5L1239.8 596.6L1244.2 599.1ZM1274.67 595.7a2.05 2.05 0 1 0 4.1 0a2.05 2.05 0 1 0-4.1 0ZM1272.2 594.5L1276.5 597.0L1275.9 598.0L1280.6 598.0L1278.3 593.9L1277.7 594.9L1273.4 592.4ZM1193.89 658.3a2.05 2.05 0 1 0 4.1 0a2.05 2.05 0 1 0-4.1 0ZM1200.4 659.5L1196.2 657.0L1196.7 656.1L1192.1 656.1L1194.4 660.1L1194.9 659.2L1199.2 661.6ZM1229.79 658.3a2.05 2.05 0 1 0 4.1 0a2.05 2.05 0 1 0-4.1 0ZM1227.2 657.1L1231.6 659.6L1231.1 660.6L1235.9 660.7L1233.4 656.5L1232.9 657.5L1228.4 654.9ZM1346.48 658.3a2.05 2.05 0 1 0 4.1 0a2.05 2.05 0 1 0-4.1 0ZM1353.0 659.5L1348.8 657.0L1349.3 656.1L1344.7 656.1L1347.0 660.1L1347.5 659.2L1351.8 661.6ZM1122.08 685.2a2.05 2.05 0 1 0 4.1 0a2.05 2.05 0 1 0-4.1 0ZM1119.6 684.0L1123.9 686.5L1123.3 687.4L1128.0 687.4L1125.7 683.4L1125.1 684.3L1120.8 681.8ZM1238.77 685.2a2.05 2.05 0 1 0 4.1 0a2.05 2.05 0 1 0-4.1 0ZM1245.4 686.4L1241.0 683.9L1241.6 682.9L1236.9 682.9L1239.2 687.0L1239.8 686.0L1244.2 688.5ZM1274.67 685.2a2.05 2.05 0 1 0 4.1 0a2.05 2.05 0 1 0-4.1 0ZM1272.2 684.0L1276.5 686.5L1275.9 687.4L1280.6 687.4L1278.3 683.4L1277.7 684.3L1273.4 681.8ZM1193.89 747.8a2.05 2.05 0 1 0 4.1 0a2.05 2.05 0 1 0-4.1 0ZM1200.4 748.9L1196.2 746.5L1196.7 745.5L1192.1 745.6L1194.4 749.6L1194.9 748.6L1199.2 751.1ZM1229.79 747.8a2.05 2.05 0 1 0 4.1 0a2.05 2.05 0 1 0-4.1 0ZM1227.2 746.5L1231.6 749.1L1231.1 750.0L1235.9 750.1L1233.4 746.0L1232.9 746.9L1228.4 744.4ZM1346.48 747.8a2.05 2.05 0 1 0 4.1 0a2.05 2.05 0 1 0-4.1 0ZM1353.0 748.9L1348.8 746.5L1349.3 745.5L1344.7 745.6L1347.0 749.6L1347.5 748.6L1351.8 751.1ZM1122.08 774.6a2.05 2.05 0 1 0 4.1 0a2.05 2.05 0 1 0-4.1 0ZM1119.6 773.4L1123.9 775.9L1123.3 776.9L1128.0 776.9L1125.7 772.8L1125.1 773.8L1120.8 771.3ZM1238.77 774.6a2.05 2.05 0 1 0 4.1 0a2.05 2.05 0 1 0-4.1 0ZM1245.4 775.8L1241.0 773.3L1241.6 772.4L1236.9 772.3L1239.2 776.4L1239.8 775.5L1244.2 778.0ZM1274.67 774.6a2.05 2.05 0 1 0 4.1 0a2.05 2.05 0 1 0-4.1 0ZM1272.2 773.4L1276.5 775.9L1275.9 776.9L1280.6 776.9L1278.3 772.8L1277.7 773.8L1273.4 771.3Z"/><path fill="#dd8822" d="M1092.2 576.4L1097.0 579.2L1096.5 580.1L1101.5 580.3L1098.8 576.0L1098.3 577.0L1093.5 574.2ZM1244.8 576.4L1249.6 579.2L1249.0 580.1L1254.1 580.3L1251.4 576.0L1250.8 577.0L1246.1 574.2ZM1227.8 588.2L1223.1 585.4L1223.6 584.5L1218.6 584.3L1221.3 588.6L1221.8 587.6L1226.5 590.3ZM1120.1 615.0L1115.3 612.3L1115.9 611.3L1110.8 611.1L1113.5 615.4L1114.1 614.4L1118.9 617.2ZM1272.7 615.0L1267.9 612.3L1268.5 611.3L1263.4 611.1L1266.1 615.4L1266.7 614.4L1271.5 617.2ZM1092.2 665.9L1097.0 668.6L1096.5 669.6L1101.5 669.8L1098.8 665.5L1098.3 666.4L1093.5 663.7ZM1244.8 665.9L1249.6 668.6L1249.0 669.6L1254.1 669.8L1251.4 665.5L1250.8 666.4L1246.1 663.7ZM1227.8 677.6L1223.1 674.9L1223.6 673.9L1218.6 673.8L1221.3 678.0L1221.8 677.1L1226.5 679.8ZM1120.1 704.5L1115.3 701.7L1115.9 700.7L1110.8 700.5L1113.5 704.8L1114.1 703.9L1118.9 706.7ZM1272.7 704.5L1267.9 701.7L1268.5 700.7L1263.4 700.5L1266.1 704.8L1266.7 703.9L1271.5 706.7ZM1092.2 755.3L1097.0 758.1L1096.5 759.0L1101.5 759.2L1098.8 754.9L1098.3 755.9L1093.5 753.1ZM1244.8 755.3L1249.6 758.1L1249.0 759.0L1254.1 759.2L1251.4 754.9L1250.8 755.9L1246.1 753.1ZM1227.8 767.1L1223.1 764.3L1223.6 763.4L1218.6 763.2L1221.3 767.5L1221.8 766.5L1226.5 769.2ZM1120.1 793.9L1115.3 791.2L1115.9 790.2L1110.8 790.0L1113.5 794.3L1114.1 793.3L1118.9 796.1ZM1272.7 793.9L1267.9 791.2L1268.5 790.2L1263.4 790.0L1266.1 794.3L1266.7 793.3L1271.5 796.1Z"/><path fill="#bbdd22" d="M1100.5 576.0L1106.7 579.5L1106.1 580.5L1111.2 580.7L1108.5 576.4L1107.9 577.4L1101.8 573.9ZM1253.1 576.0L1259.3 579.5L1258.7 580.5L1263.8 580.7L1261.1 576.4L1260.5 577.4L1254.4 573.9ZM1111.8 615.4L1105.7 611.9L1106.2 610.9L1101.2 610.7L1103.9 615.0L1104.4 614.0L1110.6 617.6ZM1264.4 615.4L1258.3 611.9L1258.8 610.9L1253.7 610.7L1256.5 615.0L1257.0 614.0L1263.2 617.6ZM1100.5 665.5L1106.7 669.0L1106.1 670.0L1111.2 670.2L1108.5 665.9L1107.9 666.8L1101.8 663.3ZM1253.1 665.5L1259.3 669.0L1258.7 670.0L1263.8 670.2L1261.1 665.9L1260.5 666.8L1254.4 663.3ZM1111.8 704.9L1105.7 701.3L1106.2 700.4L1101.2 700.2L1103.9 704.4L1104.4 703.5L1110.6 707.0ZM1264.4 704.9L1258.3 701.3L1258.8 700.4L1253.7 700.2L1256.5 704.4L1257.0 703.5L1263.2 707.0ZM1100.5 754.9L1106.7 758.4L1106.1 759.4L1111.2 759.6L1108.5 755.3L1107.9 756.3L1101.8 752.8ZM1253.1 754.9L1259.3 758.4L1258.7 759.4L1263.8 759.6L1261.1 755.3L1260.5 756.3L1254.4 752.8ZM1111.8 794.3L1105.7 790.8L1106.2 789.8L1101.2 789.6L1103.9 793.9L1104.4 792.9L1110.6 796.5ZM1264.4 794.3L1258.3 790.8L1258.8 789.8L1253.7 789.6L1256.5 793.9L1257.0 792.9L1263.2 796.5Z"/><path fill="#44dd44" d="M1109.3 575.9L1115.8 579.7L1115.3 580.6L1120.3 580.8L1117.6 576.5L1117.1 577.5L1110.6 573.7ZM1261.9 575.9L1268.4 579.7L1267.9 580.6L1272.9 580.8L1270.2 576.5L1269.7 577.5L1263.2 573.7ZM1210.7 588.7L1204.2 584.9L1204.8 584.0L1199.7 583.8L1202.4 588.1L1203.0 587.1L1209.5 590.9ZM1363.3 588.7L1356.8 584.9L1357.4 584.0L1352.3 583.8L1355.0 588.1L1355.6 587.1L1362.1 590.9ZM1103.0 615.5L1096.5 611.8L1097.1 610.8L1092.0 610.6L1094.7 614.9L1095.3 613.9L1101.8 617.7ZM1255.6 615.5L1249.1 611.8L1249.7 610.8L1244.6 610.6L1247.3 614.9L1247.9 613.9L1254.4 617.7ZM1109.3 665.4L1115.8 669.1L1115.3 670.1L1120.3 670.3L1117.6 666.0L1117.1 666.9L1110.6 663.2ZM1261.9 665.4L1268.4 669.1L1267.9 670.1L1272.9 670.3L1270.2 666.0L1269.7 666.9L1263.2 663.2ZM1210.7 678.1L1204.2 674.4L1204.8 673.4L1199.7 673.2L1202.4 677.5L1203.0 676.6L1209.5 680.3ZM1363.3 678.1L1356.8 674.4L1357.4 673.4L1352.3 673.2L1355.0 677.5L1355.6 676.6L1362.1 680.3ZM1103.0 705.0L1096.5 701.2L1097.1 700.3L1092.0 700.1L1094.7 704.3L1095.3 703.4L1101.8 707.1ZM1255.6 705.0L1249.1 701.2L1249.7 700.3L1244.6 700.1L1247.3 704.3L1247.9 703.4L1254.4 707.1ZM1109.3 754.8L1115.8 758.6L1115.3 759.5L1120.3 759.7L1117.6 755.4L1117.1 756.4L1110.6 752.6ZM1261.9 754.8L1268.4 758.6L1267.9 759.5L1272.9 759.7L1270.2 755.4L1269.7 756.4L1263.2 752.6ZM1210.7 767.6L1204.2 763.8L1204.8 762.9L1199.7 762.7L1202.4 767.0L1203.0 766.0L1209.5 769.8ZM1363.3 767.6L1356.8 763.8L1357.4 762.9L1352.3 762.7L1355.0 767.0L1355.6 766.0L1362.1 769.8ZM1103.0 794.4L1096.5 790.7L1097.1 789.7L1092.0 789.5L1094.7 793.8L1095.3 792.8L1101.8 796.6ZM1255.6 794.4L1249.1 790.7L1249.7 789.7L1244.6 789.5L1247.3 793.8L1247.9 792.8L1254.4 796.6Z"/><path fill="#33bbaa" d="M1118.6 576.1L1124.5 579.5L1123.9 580.4L1129.0 580.6L1126.3 576.4L1125.7 577.3L1119.9 573.9ZM1271.2 576.1L1277.1 579.5L1276.5 580.4L1281.6 580.6L1278.9 576.4L1278.3 577.3L1272.5 573.9ZM1118.6 665.5L1124.5 668.9L1123.9 669.9L1129.0 670.1L1126.3 665.8L1125.7 666.8L1119.9 663.4ZM1271.2 665.5L1277.1 668.9L1276.5 669.9L1281.6 670.1L1278.9 665.8L1278.3 666.8L1272.5 663.4ZM1118.6 755.0L1124.5 758.4L1123.9 759.3L1129.0 759.5L1126.3 755.3L1125.7 756.2L1119.9 752.8ZM1271.2 755.0L1277.1 758.4L1276.5 759.3L1281.6 759.5L1278.9 755.3L1278.3 756.2L1272.5 752.8Z"/><path fill="#2277dd" d="M1131.05 577.8a2.05 2.05 0 1 0 4.1 0a2.05 2.05 0 1 0-4.1 0ZM1128.4 576.6L1132.9 579.1L1132.3 580.1L1137.2 580.2L1134.7 576.0L1134.1 577.0L1129.7 574.4ZM1283.65 577.8a2.05 2.05 0 1 0 4.1 0a2.05 2.05 0 1 0-4.1 0ZM1281.0 576.6L1285.5 579.1L1284.9 580.1L1289.8 580.2L1287.3 576.0L1286.7 577.0L1282.2 574.4ZM1184.91 586.8a2.05 2.05 0 1 0 4.1 0a2.05 2.05 0 1 0-4.1 0ZM1191.7 588.1L1187.2 585.4L1187.7 584.5L1182.8 584.4L1185.4 588.6L1185.9 587.6L1190.5 590.2ZM1337.50 586.8a2.05 2.05 0 1 0 4.1 0a2.05 2.05 0 1 0-4.1 0ZM1344.3 588.1L1339.8 585.4L1340.3 584.5L1335.4 584.4L1338.0 588.6L1338.5 587.6L1343.1 590.2ZM1175.93 604.7a2.05 2.05 0 1 0 4.1 0a2.05 2.05 0 1 0-4.1 0ZM1173.2 603.3L1177.8 606.0L1177.2 606.9L1182.2 607.1L1179.6 602.9L1179.0 603.8L1174.4 601.2ZM1328.53 604.7a2.05 2.05 0 1 0 4.1 0a2.05 2.05 0 1 0-4.1 0ZM1325.8 603.3L1330.4 606.0L1329.8 606.9L1334.8 607.1L1332.2 602.9L1331.6 603.8L1327.0 601.2ZM1229.79 613.6a2.05 2.05 0 1 0 4.1 0a2.05 2.05 0 1 0-4.1 0ZM1236.5 614.8L1232.1 612.3L1232.6 611.3L1227.8 611.3L1230.3 615.4L1230.8 614.5L1235.2 617.0ZM1131.05 667.3a2.05 2.05 0 1 0 4.1 0a2.05 2.05 0 1 0-4.1 0ZM1128.4 666.0L1132.9 668.6L1132.3 669.5L1137.2 669.6L1134.7 665.5L1134.1 666.4L1129.7 663.8ZM1283.65 667.3a2.05 2.05 0 1 0 4.1 0a2.05 2.05 0 1 0-4.1 0ZM1281.0 666.0L1285.5 668.6L1284.9 669.5L1289.8 669.6L1287.3 665.5L1286.7 666.4L1282.2 663.8ZM1184.91 676.2a2.05 2.05 0 1 0 4.1 0a2.05 2.05 0 1 0-4.1 0ZM1191.7 677.5L1187.2 674.9L1187.7 673.9L1182.8 673.8L1185.4 678.0L1185.9 677.1L1190.5 679.7ZM1337.50 676.2a2.05 2.05 0 1 0 4.1 0a2.05 2.05 0 1 0-4.1 0ZM1344.3 677.5L1339.8 674.9L1340.3 673.9L1335.4 673.8L1338.0 678.0L1338.5 677.1L1343.1 679.7ZM1175.93 694.1a2.05 2.05 0 1 0 4.1 0a2.05 2.05 0 1 0-4.1 0ZM1173.2 692.8L1177.8 695.4L1177.2 696.4L1182.2 696.5L1179.6 692.3L1179.0 693.3L1174.4 690.6ZM1328.53 694.1a2.05 2.05 0 1 0 4.1 0a2.05 2.05 0 1 0-4.1 0ZM1325.8 692.8L1330.4 695.4L1329.8 696.4L1334.8 696.5L1332.2 692.3L1331.6 693.3L1327.0 690.6ZM1229.79 703.1a2.05 2.05 0 1 0 4.1 0a2.05 2.05 0 1 0-4.1 0ZM1236.5 704.3L1232.1 701.7L1232.6 700.8L1227.8 700.7L1230.3 704.9L1230.8 703.9L1235.2 706.5ZM1131.05 756.7a2.05 2.05 0 1 0 4.1 0a2.05 2.05 0 1 0-4.1 0ZM1128.4 755.5L1132.9 758.0L1132.3 759.0L1137.2 759.1L1134.7 754.9L1134.1 755.9L1129.7 753.3ZM1283.65 756.7a2.05 2.05 0 1 0 4.1 0a2.05 2.05 0 1 0-4.1 0ZM1281.0 755.5L1285.5 758.0L1284.9 759.0L1289.8 759.1L1287.3 754.9L1286.7 755.9L1282.2 753.3ZM1184.91 765.7a2.05 2.05 0 1 0 4.1 0a2.05 2.05 0 1 0-4.1 0ZM1191.7 767.0L1187.2 764.3L1187.7 763.4L1182.8 763.3L1185.4 767.5L1185.9 766.5L1190.5 769.1ZM1337.50 765.7a2.05 2.05 0 1 0 4.1 0a2.05 2.05 0 1 0-4.1 0ZM1344.3 767.0L1339.8 764.3L1340.3 763.4L1335.4 763.3L1338.0 767.5L1338.5 766.5L1343.1 769.1ZM1175.93 783.6a2.05 2.05 0 1 0 4.1 0a2.05 2.05 0 1 0-4.1 0ZM1173.2 782.2L1177.8 784.9L1177.2 785.8L1182.2 786.0L1179.6 781.8L1179.0 782.7L1174.4 780.1ZM1328.53 783.6a2.05 2.05 0 1 0 4.1 0a2.05 2.05 0 1 0-4.1 0ZM1325.8 782.2L1330.4 784.9L1329.8 785.8L1334.8 786.0L1332.2 781.8L1331.6 782.7L1327.0 780.1ZM1229.79 792.5a2.05 2.05 0 1 0 4.1 0a2.05 2.05 0 1 0-4.1 0ZM1236.5 793.7L1232.1 791.2L1232.6 790.2L1227.8 790.2L1230.3 794.3L1230.8 793.4L1235.2 795.9Z"/><path fill="#33bbcc" d="M1183.3 579.5L1177.8 576.3L1178.3 575.3L1173.3 575.1L1176.0 579.4L1176.5 578.4L1182.1 581.6ZM1335.9 579.5L1330.4 576.3L1330.9 575.3L1325.8 575.1L1328.6 579.4L1329.1 578.4L1334.7 581.6ZM1136.8 585.1L1142.2 588.3L1141.7 589.3L1146.8 589.5L1144.0 585.2L1143.5 586.1L1138.0 583.0ZM1289.4 585.1L1294.8 588.3L1294.3 589.3L1299.4 589.5L1296.6 585.2L1296.1 586.1L1290.6 583.0ZM1228.1 606.3L1222.7 603.1L1223.3 602.2L1218.2 602.0L1220.9 606.3L1221.5 605.3L1226.9 608.4ZM1183.3 668.9L1177.8 665.7L1178.3 664.8L1173.3 664.5L1176.0 668.8L1176.5 667.9L1182.1 671.1ZM1335.9 668.9L1330.4 665.7L1330.9 664.8L1325.8 664.5L1328.6 668.8L1329.1 667.9L1334.7 671.1ZM1136.8 674.6L1142.2 677.8L1141.7 678.7L1146.8 678.9L1144.0 674.6L1143.5 675.6L1138.0 672.4ZM1289.4 674.6L1294.8 677.8L1294.3 678.7L1299.4 678.9L1296.6 674.6L1296.1 675.6L1290.6 672.4ZM1228.1 695.7L1222.7 692.6L1223.3 691.6L1218.2 691.4L1220.9 695.7L1221.5 694.8L1226.9 697.9ZM1183.3 758.4L1177.8 755.2L1178.3 754.2L1173.3 754.0L1176.0 758.3L1176.5 757.3L1182.1 760.5ZM1335.9 758.4L1330.4 755.2L1330.9 754.2L1325.8 754.0L1328.6 758.3L1329.1 757.3L1334.7 760.5ZM1136.8 764.0L1142.2 767.2L1141.7 768.2L1146.8 768.4L1144.0 764.1L1143.5 765.0L1138.0 761.9ZM1289.4 764.0L1294.8 767.2L1294.3 768.2L1299.4 768.4L1296.6 764.1L1296.1 765.0L1290.6 761.9ZM1228.1 785.2L1222.7 782.0L1223.3 781.1L1218.2 780.9L1220.9 785.2L1221.5 784.2L1226.9 787.3Z"/><path fill="#44dd66" d="M1192.7 579.7L1186.3 576.0L1186.9 575.1L1181.8 574.8L1184.5 579.1L1185.1 578.2L1191.5 581.9ZM1345.3 579.7L1338.9 576.0L1339.5 575.1L1334.4 574.8L1337.1 579.1L1337.7 578.2L1344.1 581.9ZM1127.3 584.9L1133.7 588.6L1133.2 589.5L1138.3 589.7L1135.5 585.5L1135.0 586.4L1128.6 582.7ZM1279.9 584.9L1286.3 588.6L1285.8 589.5L1290.8 589.7L1288.1 585.5L1287.6 586.4L1281.2 582.7ZM1172.2 611.7L1178.6 615.4L1178.1 616.4L1183.2 616.6L1180.4 612.3L1179.9 613.3L1173.4 609.5ZM1324.8 611.7L1331.2 615.4L1330.7 616.4L1335.7 616.6L1333.0 612.3L1332.5 613.3L1326.0 609.5ZM1192.7 669.2L1186.3 665.5L1186.9 664.5L1181.8 664.3L1184.5 668.6L1185.1 667.6L1191.5 671.3ZM1345.3 669.2L1338.9 665.5L1339.5 664.5L1334.4 664.3L1337.1 668.6L1337.7 667.6L1344.1 671.3ZM1127.3 674.3L1133.7 678.0L1133.2 679.0L1138.3 679.2L1135.5 674.9L1135.0 675.9L1128.6 672.2ZM1279.9 674.3L1286.3 678.0L1285.8 679.0L1290.8 679.2L1288.1 674.9L1287.6 675.9L1281.2 672.2ZM1172.2 701.2L1178.6 704.9L1178.1 705.8L1183.2 706.0L1180.4 701.8L1179.9 702.7L1173.4 699.0ZM1324.8 701.2L1331.2 704.9L1330.7 705.8L1335.7 706.0L1333.0 701.8L1332.5 702.7L1326.0 699.0ZM1192.7 758.6L1186.3 754.9L1186.9 754.0L1181.8 753.7L1184.5 758.0L1185.1 757.1L1191.5 760.8ZM1345.3 758.6L1338.9 754.9L1339.5 754.0L1334.4 753.7L1337.1 758.0L1337.7 757.1L1344.1 760.8ZM1127.3 763.8L1133.7 767.5L1133.2 768.4L1138.3 768.6L1135.5 764.4L1135.0 765.3L1128.6 761.6ZM1279.9 763.8L1286.3 767.5L1285.8 768.4L1290.8 768.6L1288.1 764.4L1287.6 765.3L1281.2 761.6ZM1172.2 790.6L1178.6 794.3L1178.1 795.3L1183.2 795.5L1180.4 791.2L1179.9 792.2L1173.4 788.4ZM1324.8 790.6L1331.2 794.3L1330.7 795.3L1335.7 795.5L1333.0 791.2L1332.5 792.2L1326.0 788.4Z"/><path fill="#ddaa22" d="M1210.1 579.4L1204.9 576.4L1205.4 575.4L1200.4 575.2L1203.1 579.5L1203.6 578.5L1208.8 581.5ZM1362.7 579.4L1357.5 576.4L1358.0 575.4L1353.0 575.2L1355.7 579.5L1356.2 578.5L1361.4 581.5ZM1109.9 585.2L1115.2 588.2L1114.7 589.2L1119.7 589.4L1117.0 585.1L1116.5 586.1L1111.2 583.0ZM1262.5 585.2L1267.8 588.2L1267.3 589.2L1272.3 589.4L1269.6 585.1L1269.1 586.1L1263.8 583.0ZM1102.4 606.2L1097.1 603.2L1097.7 602.2L1092.6 602.0L1095.3 606.3L1095.9 605.3L1101.2 608.4ZM1255.0 606.2L1249.7 603.2L1250.2 602.2L1245.2 602.0L1247.9 606.3L1248.4 605.3L1253.8 608.4ZM1210.1 668.8L1204.9 665.8L1205.4 664.9L1200.4 664.7L1203.1 668.9L1203.6 668.0L1208.8 671.0ZM1362.7 668.8L1357.5 665.8L1358.0 664.9L1353.0 664.7L1355.7 668.9L1356.2 668.0L1361.4 671.0ZM1109.9 674.7L1115.2 677.7L1114.7 678.7L1119.7 678.9L1117.0 674.6L1116.5 675.5L1111.2 672.5ZM1262.5 674.7L1267.8 677.7L1267.3 678.7L1272.3 678.9L1269.6 674.6L1269.1 675.5L1263.8 672.5ZM1102.4 695.7L1097.1 692.6L1097.7 691.7L1092.6 691.4L1095.3 695.7L1095.9 694.8L1101.2 697.9ZM1255.0 695.7L1249.7 692.6L1250.2 691.7L1245.2 691.4L1247.9 695.7L1248.4 694.8L1253.8 697.9ZM1210.1 758.3L1204.9 755.3L1205.4 754.3L1200.4 754.1L1203.1 758.4L1203.6 757.4L1208.8 760.4ZM1362.7 758.3L1357.5 755.3L1358.0 754.3L1353.0 754.1L1355.7 758.4L1356.2 757.4L1361.4 760.4ZM1109.9 764.1L1115.2 767.1L1114.7 768.1L1119.7 768.3L1117.0 764.0L1116.5 765.0L1111.2 761.9ZM1262.5 764.1L1267.8 767.1L1267.3 768.1L1272.3 768.3L1269.6 764.0L1269.1 765.0L1263.8 761.9ZM1102.4 785.1L1097.1 782.1L1097.7 781.1L1092.6 780.9L1095.3 785.2L1095.9 784.2L1101.2 787.3ZM1255.0 785.1L1249.7 782.1L1250.2 781.1L1245.2 780.9L1247.9 785.2L1248.4 784.2L1253.8 787.3Z"/><path fill="#bb3311" d="M1238.77 577.8a2.05 2.05 0 1 0 4.1 0a2.05 2.05 0 1 0-4.1 0ZM1237.0 577.1L1240.5 579.1L1240.0 580.0L1244.0 579.6L1242.3 576.0L1241.8 576.9L1238.3 574.9ZM1122.08 613.6a2.05 2.05 0 1 0 4.1 0a2.05 2.05 0 1 0-4.1 0ZM1128.0 614.4L1124.4 612.3L1125.0 611.4L1120.9 611.8L1122.6 615.5L1123.2 614.5L1126.7 616.5ZM1274.67 613.6a2.05 2.05 0 1 0 4.1 0a2.05 2.05 0 1 0-4.1 0ZM1280.5 614.4L1277.0 612.3L1277.6 611.4L1273.5 611.8L1275.2 615.5L1275.8 614.5L1279.3 616.5ZM1238.77 667.3a2.05 2.05 0 1 0 4.1 0a2.05 2.05 0 1 0-4.1 0ZM1237.0 666.5L1240.5 668.5L1240.0 669.5L1244.0 669.1L1242.3 665.4L1241.8 666.4L1238.3 664.4ZM1122.08 703.1a2.05 2.05 0 1 0 4.1 0a2.05 2.05 0 1 0-4.1 0ZM1128.0 703.8L1124.4 701.8L1125.0 700.8L1120.9 701.2L1122.6 704.9L1123.2 704.0L1126.7 706.0ZM1274.67 703.1a2.05 2.05 0 1 0 4.1 0a2.05 2.05 0 1 0-4.1 0ZM1280.5 703.8L1277.0 701.8L1277.6 700.8L1273.5 701.2L1275.2 704.9L1275.8 704.0L1279.3 706.0ZM1238.77 756.7a2.05 2.05 0 1 0 4.1 0a2.05 2.05 0 1 0-4.1 0ZM1237.0 756.0L1240.5 758.0L1240.0 758.9L1244.0 758.5L1242.3 754.9L1241.8 755.8L1238.3 753.8ZM1122.08 792.5a2.05 2.05 0 1 0 4.1 0a2.05 2.05 0 1 0-4.1 0ZM1128.0 793.3L1124.4 791.2L1125.0 790.3L1120.9 790.7L1122.6 794.4L1123.2 793.4L1126.7 795.4ZM1274.67 792.5a2.05 2.05 0 1 0 4.1 0a2.05 2.05 0 1 0-4.1 0ZM1280.5 793.3L1277.0 791.2L1277.6 790.3L1273.5 790.7L1275.2 794.4L1275.8 793.4L1279.3 795.4Z"/><path fill="#99dd22" d="M1118.4 584.9L1124.7 588.6L1124.2 589.5L1129.2 589.7L1126.5 585.4L1126.0 586.4L1119.6 582.7ZM1271.0 584.9L1277.3 588.6L1276.8 589.5L1281.8 589.7L1279.1 585.4L1278.6 586.4L1272.2 582.7ZM1246.6 606.5L1240.2 602.9L1240.8 601.9L1235.7 601.7L1238.4 606.0L1239.0 605.0L1245.3 608.7ZM1118.4 674.3L1124.7 678.0L1124.2 679.0L1129.2 679.2L1126.5 674.9L1126.0 675.8L1119.6 672.2ZM1271.0 674.3L1277.3 678.0L1276.8 679.0L1281.8 679.2L1279.1 674.9L1278.6 675.8L1272.2 672.2ZM1246.6 696.0L1240.2 692.3L1240.8 691.4L1235.7 691.2L1238.4 695.4L1239.0 694.5L1245.3 698.2ZM1118.4 763.8L1124.7 767.5L1124.2 768.4L1129.2 768.6L1126.5 764.3L1126.0 765.3L1119.6 761.6ZM1271.0 763.8L1277.3 767.5L1276.8 768.4L1281.8 768.6L1279.1 764.3L1278.6 765.3L1272.2 761.6ZM1246.6 785.4L1240.2 781.8L1240.8 780.8L1235.7 780.6L1238.4 784.9L1239.0 783.9L1245.3 787.6Z"/><path fill="#ccbb22" d="M1127.7 594.0L1133.4 597.3L1132.8 598.3L1137.9 598.5L1135.2 594.2L1134.6 595.2L1128.9 591.9ZM1280.3 594.0L1286.0 597.3L1285.4 598.3L1290.5 598.5L1287.8 594.2L1287.2 595.2L1281.5 591.9ZM1127.7 683.5L1133.4 686.8L1132.8 687.7L1137.9 687.9L1135.2 683.6L1134.6 684.6L1128.9 681.3ZM1280.3 683.5L1286.0 686.8L1285.4 687.7L1290.5 687.9L1287.8 683.6L1287.2 684.6L1281.5 681.3ZM1127.7 772.9L1133.4 776.2L1132.8 777.2L1137.9 777.4L1135.2 773.1L1134.6 774.1L1128.9 770.8ZM1280.3 772.9L1286.0 776.2L1285.4 777.2L1290.5 777.4L1287.8 773.1L1287.2 774.1L1281.5 770.8Z"/><path fill="#66dd33" d="M1136.3 593.8L1142.7 597.5L1142.2 598.5L1147.3 598.7L1144.5 594.4L1144.0 595.4L1137.5 591.6ZM1228.7 597.6L1222.2 593.9L1222.8 592.9L1217.7 592.7L1220.4 597.0L1221.0 596.1L1227.4 599.8ZM1288.9 593.8L1295.3 597.5L1294.8 598.5L1299.9 598.7L1297.1 594.4L1296.6 595.4L1290.1 591.6ZM1136.3 683.3L1142.7 687.0L1142.2 687.9L1147.3 688.2L1144.5 683.9L1144.0 684.8L1137.5 681.1ZM1228.7 687.1L1222.2 683.3L1222.8 682.4L1217.7 682.2L1220.4 686.5L1221.0 685.5L1227.4 689.2ZM1288.9 683.3L1295.3 687.0L1294.8 687.9L1299.9 688.2L1297.1 683.9L1296.6 684.8L1290.1 681.1ZM1136.3 772.7L1142.7 776.4L1142.2 777.4L1147.3 777.6L1144.5 773.3L1144.0 774.3L1137.5 770.5ZM1228.7 776.5L1222.2 772.8L1222.8 771.8L1217.7 771.6L1220.4 775.9L1221.0 775.0L1227.4 778.7ZM1288.9 772.7L1295.3 776.4L1294.8 777.4L1299.9 777.6L1297.1 773.3L1296.6 774.3L1290.1 770.5Z"/><path fill="#44dd99" d="M1145.4 593.9L1151.6 597.5L1151.0 598.4L1156.1 598.6L1153.4 594.4L1152.8 595.3L1146.6 591.7ZM1298.0 593.9L1304.2 597.5L1303.6 598.4L1308.7 598.6L1306.0 594.4L1305.4 595.3L1299.2 591.7ZM1145.4 683.3L1151.6 686.9L1151.0 687.9L1156.1 688.1L1153.4 683.8L1152.8 684.8L1146.6 681.2ZM1298.0 683.3L1304.2 686.9L1303.6 687.9L1308.7 688.1L1306.0 683.8L1305.4 684.8L1299.2 681.2ZM1145.4 772.8L1151.6 776.4L1151.0 777.3L1156.1 777.5L1153.4 773.3L1152.8 774.2L1146.6 770.6ZM1298.0 772.8L1304.2 776.4L1303.6 777.3L1308.7 777.5L1306.0 773.3L1305.4 774.2L1299.2 770.6Z"/><path fill="#cc8822" d="M1140.03 604.7a2.05 2.05 0 1 0 4.1 0a2.05 2.05 0 1 0-4.1 0ZM1137.2 603.3L1141.9 606.0L1141.3 606.9L1146.3 607.1L1143.7 602.9L1143.1 603.8L1138.5 601.1ZM1292.62 604.7a2.05 2.05 0 1 0 4.1 0a2.05 2.05 0 1 0-4.1 0ZM1289.8 603.3L1294.5 606.0L1293.9 606.9L1298.9 607.1L1296.3 602.9L1295.7 603.8L1291.1 601.1ZM1140.03 694.1a2.05 2.05 0 1 0 4.1 0a2.05 2.05 0 1 0-4.1 0ZM1137.2 692.7L1141.9 695.4L1141.3 696.4L1146.3 696.6L1143.7 692.3L1143.1 693.3L1138.5 690.6ZM1292.62 694.1a2.05 2.05 0 1 0 4.1 0a2.05 2.05 0 1 0-4.1 0ZM1289.8 692.7L1294.5 695.4L1293.9 696.4L1298.9 696.6L1296.3 692.3L1295.7 693.3L1291.1 690.6ZM1140.03 783.6a2.05 2.05 0 1 0 4.1 0a2.05 2.05 0 1 0-4.1 0ZM1137.2 782.2L1141.9 784.9L1141.3 785.8L1146.3 786.0L1143.7 781.8L1143.1 782.7L1138.5 780.0ZM1292.62 783.6a2.05 2.05 0 1 0 4.1 0a2.05 2.05 0 1 0-4.1 0ZM1289.8 782.2L1294.5 784.9L1293.9 785.8L1298.9 786.0L1296.3 781.8L1295.7 782.7L1291.1 780.0Z"/></g>
<rect x="1432.4" y="530.2" width="259.1" height="259.1" fill="none" stroke="#aaa" stroke-width="0.6"/>
<g><path fill="#2288dd" d="M1435.0 525.5L1430.7 530.3L1429.9 529.6L1428.9 534.1L1433.3 532.6L1432.5 531.9L1436.7 527.1ZM1660.0 542.3L1655.9 537.5L1656.7 536.7L1652.4 535.2L1653.2 539.7L1654.1 539.0L1658.3 543.8ZM1606.4 551.3L1602.3 546.4L1603.1 545.7L1598.8 544.1L1599.6 548.7L1600.5 547.9L1604.7 552.8ZM1543.9 560.1L1539.7 555.3L1540.6 554.6L1536.2 553.1L1537.1 557.6L1538.0 556.9L1542.2 561.7ZM1472.5 569.1L1468.2 564.3L1469.1 563.5L1464.7 562.1L1465.6 566.6L1466.5 565.8L1470.7 570.6ZM1481.3 569.2L1477.2 564.3L1478.1 563.6L1473.8 561.9L1474.5 566.5L1475.4 565.7L1479.5 570.7ZM1658.3 641.7L1654.1 646.5L1653.2 645.8L1652.4 650.3L1656.7 648.8L1655.9 648.0L1660.0 643.1ZM1604.7 650.6L1600.5 655.5L1599.6 654.7L1598.8 659.2L1603.1 657.7L1602.3 656.9L1606.4 652.1ZM1542.1 659.5L1538.0 664.4L1537.1 663.7L1536.3 668.2L1540.6 666.6L1539.7 665.9L1543.8 661.0ZM1551.2 659.6L1546.9 664.3L1546.1 663.5L1545.0 668.0L1549.4 666.7L1548.6 665.9L1552.9 661.2ZM1470.5 668.4L1466.5 673.4L1465.6 672.6L1464.8 677.2L1469.2 675.5L1468.3 674.8L1472.3 669.9ZM1479.7 668.5L1475.4 673.3L1474.6 672.5L1473.6 677.0L1478.0 675.6L1477.1 674.8L1481.4 670.1ZM1686.8 685.3L1682.7 680.4L1683.5 679.7L1679.2 678.2L1680.1 682.7L1680.9 681.9L1685.1 686.8ZM1633.3 694.1L1629.0 689.4L1629.9 688.6L1625.5 687.2L1626.5 691.7L1627.3 690.9L1631.6 695.7ZM1579.6 703.2L1575.4 698.3L1576.3 697.6L1572.0 696.0L1572.8 700.6L1573.7 699.8L1577.9 704.7ZM1517.1 712.1L1512.9 707.2L1513.8 706.5L1509.4 704.9L1510.3 709.5L1511.2 708.7L1515.3 713.6ZM1436.7 721.0L1432.5 716.2L1433.3 715.4L1428.9 713.9L1429.9 718.5L1430.7 717.7L1435.0 722.5ZM1445.5 721.1L1441.5 716.2L1442.4 715.4L1438.0 713.8L1438.8 718.4L1439.7 717.6L1443.7 722.6ZM1685.1 784.6L1680.9 789.5L1680.0 788.7L1679.2 793.3L1683.6 791.7L1682.7 791.0L1686.8 786.1Z"/><path fill="#2277dd" d="M1444.1 525.7L1439.7 530.3L1438.8 529.5L1437.7 533.9L1442.2 532.7L1441.3 531.9L1445.8 527.3ZM1453.2 525.8L1448.6 530.2L1447.8 529.4L1446.5 533.8L1451.0 532.7L1450.2 531.9L1454.8 527.4ZM1696.1 532.9L1691.4 528.5L1692.2 527.7L1687.7 526.6L1689.1 531.0L1689.9 530.2L1694.5 534.6ZM1651.3 542.1L1646.8 537.5L1647.6 536.7L1643.2 535.4L1644.4 539.9L1645.2 539.1L1649.6 543.7ZM1597.7 551.0L1593.2 546.4L1594.1 545.6L1589.6 544.3L1590.7 548.8L1591.6 548.0L1596.0 552.6ZM1535.1 559.9L1530.7 555.3L1531.5 554.5L1527.1 553.3L1528.2 557.8L1529.0 557.0L1533.5 561.5ZM1454.8 568.7L1450.2 564.3L1451.0 563.4L1446.5 562.4L1447.8 566.8L1448.6 566.0L1453.3 570.3ZM1463.7 568.9L1459.2 564.3L1460.0 563.5L1455.6 562.2L1456.7 566.7L1457.5 565.9L1462.0 570.5ZM1667.5 641.8L1663.0 646.4L1662.2 645.6L1661.1 650.1L1665.5 648.8L1664.7 648.0L1669.2 643.4ZM1613.9 650.8L1609.4 655.4L1608.6 654.6L1607.5 659.0L1611.9 657.8L1611.1 657.0L1615.5 652.3ZM1560.4 659.8L1555.8 664.2L1555.0 663.4L1553.8 667.8L1558.2 666.7L1557.4 665.9L1562.0 661.4ZM1488.8 668.6L1484.3 673.2L1483.5 672.4L1482.4 676.9L1486.8 675.6L1486.0 674.8L1490.5 670.3ZM1678.1 685.0L1673.6 680.4L1674.4 679.6L1670.0 678.4L1671.2 682.9L1672.0 682.1L1676.5 686.6ZM1624.5 693.9L1620.0 689.4L1620.8 688.5L1616.3 687.4L1617.6 691.8L1618.4 691.0L1622.9 695.5ZM1570.9 702.9L1566.4 698.3L1567.2 697.5L1562.8 696.2L1563.9 700.7L1564.8 699.9L1569.2 704.5ZM1499.5 711.7L1494.9 707.2L1495.7 706.4L1491.2 705.3L1492.5 709.7L1493.3 708.9L1497.9 713.3ZM1508.3 711.9L1503.9 707.2L1504.7 706.5L1500.3 705.1L1501.4 709.6L1502.2 708.8L1506.6 713.5ZM1694.3 784.8L1689.9 789.4L1689.0 788.6L1687.9 793.0L1692.3 791.8L1691.5 791.0L1696.0 786.4Z"/><path fill="#2266dd" d="M1462.4 525.9L1457.5 530.1L1456.8 529.3L1455.3 533.6L1459.8 532.7L1459.1 531.9L1463.9 527.6ZM1687.3 532.6L1682.4 528.5L1683.1 527.7L1678.6 526.9L1680.2 531.2L1680.9 530.3L1685.9 534.4ZM1642.5 541.8L1637.8 537.5L1638.6 536.6L1634.0 535.7L1635.5 540.0L1636.2 539.2L1641.0 543.5ZM1580.1 550.5L1575.2 546.4L1575.9 545.5L1571.3 544.8L1573.0 549.1L1573.7 548.2L1578.6 552.3ZM1588.9 550.8L1584.2 546.4L1585.0 545.6L1580.5 544.5L1581.9 548.9L1582.6 548.1L1587.3 552.4ZM1517.5 559.5L1512.6 555.4L1513.4 554.5L1508.8 553.7L1510.4 558.0L1511.2 557.1L1516.1 561.2ZM1526.3 559.7L1521.6 555.3L1522.4 554.5L1517.9 553.5L1519.3 557.9L1520.1 557.0L1524.8 561.4ZM1446.0 568.5L1441.2 564.3L1441.9 563.4L1437.4 562.5L1438.9 566.9L1439.7 566.0L1444.5 570.2ZM1676.8 642.0L1672.0 646.3L1671.2 645.4L1669.8 649.8L1674.3 648.9L1673.5 648.0L1678.3 643.8ZM1623.1 650.9L1618.4 655.3L1617.6 654.4L1616.2 658.8L1620.7 657.8L1619.9 656.9L1624.6 652.6ZM1632.3 651.1L1627.3 655.1L1626.6 654.3L1624.9 658.6L1629.5 657.8L1628.8 656.9L1633.7 652.9ZM1569.6 659.9L1564.8 664.1L1564.0 663.3L1562.5 667.6L1567.0 666.7L1566.3 665.9L1571.1 661.7ZM1498.0 668.8L1493.3 673.1L1492.5 672.3L1491.1 676.7L1495.6 675.7L1494.8 674.8L1499.5 670.5ZM1507.1 668.9L1502.2 673.1L1501.5 672.2L1499.9 676.5L1504.4 675.7L1503.7 674.8L1508.6 670.7ZM1669.4 684.7L1664.6 680.4L1665.3 679.6L1660.8 678.7L1662.3 683.0L1663.0 682.2L1667.9 686.4ZM1615.8 693.6L1610.9 689.4L1611.7 688.5L1607.2 687.6L1608.7 692.0L1609.4 691.1L1614.3 695.3ZM1553.3 702.4L1548.4 698.3L1549.1 697.4L1544.6 696.6L1546.2 701.0L1546.9 700.1L1551.8 704.2ZM1562.1 702.7L1557.4 698.3L1558.2 697.5L1553.7 696.4L1555.0 700.8L1555.8 700.0L1560.5 704.3ZM1490.7 711.5L1485.9 707.2L1486.6 706.4L1482.1 705.5L1483.6 709.8L1484.3 709.0L1489.1 713.2Z"/><path fill="#2255dd" d="M1471.5 526.0L1466.5 530.1L1465.8 529.2L1464.1 533.5L1468.6 532.7L1467.9 531.8L1472.9 527.8ZM1480.6 526.2L1475.4 530.0L1474.7 529.1L1472.9 533.3L1477.5 532.8L1476.8 531.8L1481.9 528.1ZM1678.5 532.3L1673.3 528.6L1674.0 527.6L1669.4 527.2L1671.3 531.4L1672.0 530.4L1677.2 534.2ZM1625.0 541.2L1619.7 537.5L1620.4 536.6L1615.8 536.2L1617.7 540.3L1618.4 539.4L1623.7 543.0ZM1633.8 541.5L1628.7 537.5L1629.5 536.6L1624.9 535.9L1626.6 540.2L1627.3 539.3L1632.3 543.3ZM1571.3 550.2L1566.1 546.4L1566.8 545.5L1562.2 545.0L1564.1 549.2L1564.8 548.3L1569.9 552.1ZM1508.7 559.2L1503.6 555.4L1504.3 554.4L1499.7 553.9L1501.5 558.1L1502.2 557.2L1507.3 561.1ZM1437.2 568.3L1432.2 564.3L1432.9 563.4L1428.3 562.7L1430.0 567.0L1430.7 566.1L1435.7 570.1ZM1686.0 642.3L1680.9 646.2L1680.2 645.3L1678.5 649.5L1683.0 648.9L1682.3 648.0L1687.4 644.1ZM1641.5 651.4L1636.3 655.0L1635.6 654.1L1633.7 658.3L1638.3 657.9L1637.6 656.9L1642.8 653.2ZM1578.8 660.1L1573.7 664.1L1573.0 663.1L1571.2 667.4L1575.8 666.8L1575.1 665.9L1580.2 661.9ZM1516.3 669.1L1511.2 673.0L1510.5 672.1L1508.7 676.3L1513.3 675.7L1512.6 674.8L1517.6 670.9ZM1435.7 678.0L1430.7 681.9L1430.0 681.0L1428.3 685.3L1432.9 684.6L1432.2 683.7L1437.2 679.7ZM1444.8 678.1L1439.7 681.9L1439.0 681.0L1437.1 685.2L1441.7 684.7L1441.0 683.7L1446.2 679.9ZM1660.6 684.4L1655.5 680.5L1656.2 679.5L1651.7 678.9L1653.4 683.2L1654.1 682.3L1659.2 686.2ZM1607.0 693.3L1601.9 689.4L1602.6 688.5L1598.0 687.9L1599.8 692.1L1600.5 691.2L1605.6 695.1ZM1544.5 702.1L1539.3 698.3L1540.0 697.4L1535.5 696.9L1537.3 701.1L1538.0 700.2L1543.1 704.0ZM1473.0 711.0L1467.9 707.3L1468.5 706.3L1463.9 705.8L1465.8 710.0L1466.5 709.1L1471.7 712.9ZM1481.8 711.3L1476.9 707.3L1477.6 706.4L1473.0 705.6L1474.7 709.9L1475.4 709.0L1480.4 713.1Z"/><path fill="#1144ee" d="M1489.7 526.4L1484.4 529.9L1483.7 528.9L1481.7 533.1L1486.3 532.8L1485.6 531.8L1491.0 528.3ZM1498.8 526.5L1493.3 529.8L1492.7 528.8L1490.5 532.9L1495.1 532.8L1494.5 531.8L1500.0 528.5ZM1507.9 526.7L1502.3 529.8L1501.7 528.7L1499.3 532.7L1503.9 532.8L1503.4 531.8L1509.0 528.8ZM1669.7 531.9L1664.3 528.6L1664.9 527.6L1660.3 527.5L1662.5 531.5L1663.1 530.6L1668.5 533.9ZM1616.1 540.8L1610.7 537.5L1611.3 536.5L1606.7 536.4L1608.9 540.5L1609.5 539.5L1615.0 542.8ZM1553.6 549.7L1548.1 546.5L1548.7 545.5L1544.0 545.5L1546.4 549.5L1546.9 548.5L1552.5 551.7ZM1562.5 549.9L1557.1 546.5L1557.7 545.5L1553.1 545.2L1555.2 549.3L1555.9 548.4L1561.2 551.9ZM1482.2 558.5L1476.6 555.4L1477.1 554.4L1472.5 554.5L1474.9 558.4L1475.5 557.4L1481.1 560.5ZM1491.0 558.8L1485.6 555.4L1486.2 554.4L1481.6 554.3L1483.8 558.3L1484.4 557.4L1489.8 560.7ZM1499.9 559.0L1494.6 555.4L1495.3 554.4L1490.7 554.1L1492.7 558.2L1493.3 557.3L1498.6 560.9ZM1695.2 642.5L1689.9 646.1L1689.2 645.1L1687.2 649.2L1691.8 648.9L1691.2 648.0L1696.5 644.4ZM1650.7 651.6L1645.2 654.9L1644.6 654.0L1642.4 658.0L1647.0 657.9L1646.4 656.9L1651.9 653.6ZM1587.9 660.3L1582.7 664.0L1582.0 663.0L1580.0 667.2L1584.6 666.8L1584.0 665.9L1589.2 662.2ZM1597.1 660.6L1591.6 663.9L1591.0 662.9L1588.8 666.9L1593.4 666.8L1592.8 665.8L1598.3 662.5ZM1525.4 669.3L1520.1 672.9L1519.5 671.9L1517.5 676.1L1522.1 675.7L1521.4 674.8L1526.7 671.2ZM1534.5 669.5L1529.1 672.8L1528.5 671.8L1526.3 675.9L1530.9 675.7L1530.3 674.8L1535.7 671.4ZM1543.6 669.7L1538.0 672.7L1537.5 671.7L1535.1 675.6L1539.7 675.8L1539.1 674.7L1544.7 671.7ZM1696.6 674.9L1691.1 671.6L1691.7 670.6L1687.1 670.4L1689.3 674.5L1689.9 673.5L1695.3 676.9ZM1453.9 678.2L1448.6 681.8L1448.0 680.9L1446.0 685.0L1450.6 684.7L1449.9 683.7L1455.2 680.1ZM1463.0 678.4L1457.6 681.7L1457.0 680.8L1454.8 684.8L1459.4 684.7L1458.8 683.7L1464.2 680.4ZM1472.1 678.6L1466.5 681.7L1466.0 680.7L1463.6 684.6L1468.2 684.7L1467.6 683.7L1473.2 680.6ZM1643.0 683.7L1637.4 680.5L1638.0 679.5L1633.4 679.5L1635.7 683.5L1636.3 682.5L1641.8 685.7ZM1651.8 684.0L1646.5 680.5L1647.1 679.5L1642.5 679.2L1644.6 683.3L1645.2 682.4L1650.5 685.9ZM1589.4 692.7L1583.9 689.4L1584.4 688.4L1579.8 688.4L1582.1 692.4L1582.7 691.4L1588.2 694.7ZM1598.2 693.0L1592.9 689.4L1593.5 688.5L1588.9 688.1L1590.9 692.3L1591.6 691.3L1596.9 694.9ZM1526.8 701.6L1521.3 698.4L1521.9 697.4L1517.3 697.3L1519.5 701.3L1520.1 700.3L1525.6 703.6ZM1535.6 701.9L1530.3 698.3L1531.0 697.4L1526.4 697.1L1528.4 701.2L1529.0 700.3L1534.4 703.8ZM1446.4 710.4L1440.8 707.3L1441.4 706.3L1436.8 706.4L1439.2 710.3L1439.7 709.3L1445.3 712.4ZM1455.3 710.6L1449.8 707.3L1450.4 706.3L1445.8 706.2L1448.0 710.2L1448.6 709.3L1454.1 712.6ZM1464.2 710.8L1458.8 707.3L1459.5 706.3L1454.9 706.0L1456.9 710.1L1457.6 709.2L1462.9 712.7Z"/><path fill="#1133ee" d="M1517.0 526.9L1511.2 529.7L1510.7 528.6L1508.1 532.4L1512.7 532.8L1512.2 531.8L1518.0 529.0ZM1526.1 527.1L1520.2 529.6L1519.8 528.5L1516.9 532.2L1521.5 532.8L1521.1 531.7L1527.0 529.3ZM1652.1 531.3L1646.2 528.7L1646.7 527.6L1642.1 528.1L1644.8 531.8L1645.3 530.8L1651.1 533.4ZM1660.9 531.6L1655.2 528.6L1655.8 527.6L1651.2 527.8L1653.6 531.7L1654.2 530.7L1659.8 533.6ZM1436.5 535.8L1430.8 538.6L1430.3 537.6L1427.8 541.5L1432.4 541.7L1431.8 540.7L1437.6 537.8ZM1445.6 535.9L1439.8 538.6L1439.3 537.5L1436.6 541.3L1441.2 541.7L1440.7 540.7L1446.5 538.0ZM1454.7 536.1L1448.7 538.5L1448.3 537.5L1445.4 541.1L1450.0 541.7L1449.6 540.7L1455.5 538.3ZM1589.6 539.9L1583.6 537.6L1584.0 536.6L1579.4 537.3L1582.4 540.9L1582.8 539.8L1588.7 542.1ZM1598.4 540.2L1592.6 537.6L1593.1 536.5L1588.5 537.0L1591.2 540.7L1591.7 539.7L1597.5 542.3ZM1607.3 540.5L1601.6 537.6L1602.2 536.5L1597.6 536.7L1600.0 540.6L1600.6 539.6L1606.2 542.6ZM1527.0 548.9L1521.0 546.6L1521.5 545.5L1516.9 546.2L1519.8 549.8L1520.2 548.7L1526.2 551.0ZM1535.9 549.1L1530.1 546.5L1530.5 545.5L1525.9 546.0L1528.7 549.7L1529.1 548.6L1535.0 551.2ZM1544.8 549.4L1539.1 546.5L1539.6 545.5L1535.0 545.7L1537.5 549.6L1538.0 548.6L1543.7 551.4ZM1455.5 557.8L1449.6 555.5L1450.0 554.4L1445.4 555.1L1448.3 558.7L1448.7 557.6L1454.7 560.0ZM1464.4 558.1L1458.6 555.5L1459.0 554.4L1454.5 554.9L1457.2 558.6L1457.6 557.6L1463.5 560.2ZM1473.3 558.3L1467.6 555.4L1468.1 554.4L1463.5 554.7L1466.0 558.5L1466.6 557.5L1472.3 560.4ZM1659.8 651.9L1654.2 654.8L1653.6 653.8L1651.2 657.7L1655.8 657.9L1655.2 656.9L1660.9 653.9ZM1669.0 652.1L1663.1 654.7L1662.7 653.7L1660.0 657.4L1664.5 657.9L1664.1 656.8L1669.9 654.2ZM1606.2 660.8L1600.6 663.8L1600.0 662.7L1597.6 666.6L1602.2 666.8L1601.6 665.8L1607.3 662.8ZM1615.4 661.0L1609.5 663.7L1609.1 662.6L1606.4 666.4L1611.0 666.8L1610.5 665.8L1616.3 663.1ZM1624.5 661.3L1618.5 663.6L1618.1 662.5L1615.2 666.1L1619.7 666.8L1619.3 665.7L1625.3 663.5ZM1552.8 669.9L1547.0 672.6L1546.5 671.6L1543.9 675.4L1548.5 675.8L1548.0 674.7L1553.7 672.0ZM1561.9 670.1L1555.9 672.6L1555.5 671.5L1552.7 675.1L1557.3 675.7L1556.8 674.7L1562.7 672.2ZM1678.9 674.2L1673.0 671.6L1673.5 670.6L1668.9 671.1L1671.6 674.8L1672.1 673.7L1678.0 676.3ZM1687.7 674.5L1682.0 671.6L1682.6 670.6L1678.0 670.8L1680.5 674.6L1681.0 673.6L1686.7 676.6ZM1481.2 678.8L1475.5 681.6L1475.0 680.6L1472.4 684.4L1477.0 684.7L1476.5 683.7L1482.2 680.8ZM1490.3 678.9L1484.4 681.5L1484.0 680.5L1481.3 684.2L1485.8 684.7L1485.4 683.6L1491.2 681.0ZM1499.4 679.1L1493.4 681.5L1493.0 680.4L1490.1 684.0L1494.7 684.7L1494.2 683.6L1500.2 681.3ZM1625.3 683.0L1619.4 680.6L1619.8 679.5L1615.2 680.1L1618.0 683.8L1618.5 682.7L1624.4 685.2ZM1634.1 683.4L1628.4 680.5L1628.9 679.5L1624.3 679.8L1626.9 683.6L1627.4 682.6L1633.1 685.4ZM1562.8 691.8L1556.8 689.5L1557.2 688.5L1552.6 689.2L1555.5 692.7L1556.0 691.7L1561.9 694.0ZM1571.6 692.1L1565.8 689.5L1566.3 688.4L1561.7 688.9L1564.4 692.6L1564.9 691.6L1570.7 694.2ZM1580.5 692.4L1574.8 689.5L1575.4 688.4L1570.7 688.6L1573.2 692.5L1573.8 691.5L1579.4 694.4ZM1500.2 700.9L1494.3 698.4L1494.7 697.4L1490.1 698.0L1493.0 701.6L1493.4 700.6L1499.3 703.0ZM1509.1 701.1L1503.3 698.4L1503.8 697.4L1499.2 697.8L1501.8 701.5L1502.3 700.5L1508.1 703.2ZM1517.9 701.4L1512.3 698.4L1512.8 697.4L1508.2 697.5L1510.7 701.4L1511.2 700.4L1516.9 703.4ZM1437.6 710.2L1431.8 707.3L1432.4 706.3L1427.8 706.6L1430.3 710.4L1430.8 709.4L1436.5 712.3Z"/><path fill="#1122ee" d="M1535.2 527.4L1529.2 529.5L1528.8 528.4L1525.8 531.9L1530.3 532.8L1529.9 531.7L1536.0 529.5ZM1544.3 527.6L1538.1 529.4L1537.8 528.3L1534.6 531.7L1539.1 532.7L1538.8 531.6L1544.9 529.8ZM1634.3 530.6L1628.1 528.8L1628.5 527.7L1624.0 528.7L1627.2 532.1L1627.5 531.0L1633.6 532.8ZM1643.2 530.9L1637.2 528.7L1637.6 527.6L1633.0 528.4L1636.0 531.9L1636.4 530.9L1642.4 533.1ZM1463.7 536.3L1457.7 538.5L1457.3 537.4L1454.3 540.9L1458.8 541.7L1458.5 540.6L1464.5 538.5ZM1472.8 536.5L1466.7 538.4L1466.3 537.3L1463.2 540.7L1467.7 541.7L1467.3 540.6L1473.4 538.7ZM1481.8 536.7L1475.6 538.3L1475.3 537.2L1472.0 540.4L1476.5 541.7L1476.2 540.5L1482.4 538.9ZM1571.7 539.3L1565.6 537.7L1565.8 536.6L1561.4 537.8L1564.7 541.1L1565.0 539.9L1571.2 541.5ZM1580.7 539.6L1574.6 537.7L1574.9 536.6L1570.4 537.6L1573.5 541.0L1573.9 539.9L1580.0 541.8ZM1509.2 548.3L1503.0 546.6L1503.3 545.5L1498.9 546.7L1502.1 550.0L1502.4 548.9L1508.6 550.6ZM1518.1 548.6L1512.0 546.6L1512.4 545.5L1507.9 546.5L1511.0 549.9L1511.3 548.8L1517.4 550.8ZM1437.7 557.4L1431.6 555.6L1431.9 554.5L1427.4 555.5L1430.6 558.9L1430.9 557.8L1437.0 559.6ZM1446.6 557.6L1440.6 555.5L1441.0 554.4L1436.4 555.3L1439.4 558.8L1439.8 557.7L1445.9 559.8ZM1678.1 652.4L1672.1 654.6L1671.7 653.5L1668.8 657.1L1673.3 657.9L1672.9 656.8L1678.9 654.6ZM1687.3 652.7L1681.1 654.5L1680.8 653.4L1677.6 656.7L1682.1 657.8L1681.7 656.7L1687.9 655.0ZM1633.6 661.6L1627.5 663.5L1627.1 662.4L1624.0 665.8L1628.5 666.8L1628.2 665.7L1634.3 663.8ZM1571.0 670.4L1564.9 672.5L1564.5 671.4L1561.5 674.9L1566.1 675.7L1565.7 674.6L1571.7 672.5ZM1580.0 670.6L1573.9 672.4L1573.6 671.3L1570.4 674.6L1574.8 675.7L1574.5 674.6L1580.7 672.8ZM1661.1 673.5L1654.9 671.7L1655.2 670.6L1650.8 671.7L1654.0 675.0L1654.3 673.9L1660.5 675.7ZM1670.0 673.8L1664.0 671.7L1664.4 670.6L1659.8 671.4L1662.8 674.9L1663.2 673.8L1669.2 676.0ZM1508.5 679.4L1502.4 681.4L1502.0 680.3L1498.9 683.7L1503.5 684.7L1503.1 683.6L1509.2 681.5ZM1517.5 679.6L1511.4 681.3L1511.0 680.2L1507.8 683.5L1512.3 684.6L1512.0 683.5L1518.1 681.8ZM1607.5 682.4L1601.3 680.7L1601.6 679.6L1597.2 680.7L1600.4 684.0L1600.7 682.9L1606.9 684.6ZM1616.4 682.7L1610.3 680.6L1610.7 679.5L1606.2 680.4L1609.2 683.9L1609.6 682.8L1615.6 684.9ZM1437.0 688.4L1430.9 690.3L1430.6 689.2L1427.4 692.5L1431.9 693.6L1431.6 692.5L1437.7 690.6ZM1446.1 688.6L1439.9 690.2L1439.6 689.1L1436.3 692.3L1440.8 693.6L1440.5 692.4L1446.7 690.8ZM1544.9 691.3L1538.8 689.6L1539.1 688.5L1534.6 689.7L1537.9 692.9L1538.2 691.8L1544.3 693.5ZM1553.9 691.5L1547.8 689.6L1548.1 688.5L1543.6 689.4L1546.7 692.8L1547.1 691.8L1553.1 693.7ZM1473.5 700.2L1467.3 698.6L1467.6 697.4L1463.1 698.7L1466.4 701.9L1466.7 700.8L1472.9 702.4ZM1482.4 700.4L1476.3 698.5L1476.6 697.4L1472.1 698.4L1475.3 701.8L1475.6 700.7L1481.7 702.6ZM1491.3 700.6L1485.3 698.5L1485.7 697.4L1481.1 698.2L1484.1 701.7L1484.5 700.6L1490.5 702.8Z"/><path fill="#1122ff" d="M1553.3 527.9L1547.1 529.4L1546.8 528.2L1543.5 531.4L1547.9 532.7L1547.7 531.6L1553.9 530.1ZM1625.4 530.2L1619.1 528.8L1619.4 527.7L1615.0 529.0L1618.3 532.2L1618.6 531.1L1624.8 532.5ZM1500.3 548.1L1494.0 546.7L1494.3 545.6L1489.9 546.9L1493.3 550.1L1493.5 548.9L1499.8 550.3ZM1642.7 661.9L1636.5 663.4L1636.2 662.3L1632.8 665.4L1637.3 666.7L1637.0 665.6L1643.2 664.1ZM1589.1 670.9L1582.9 672.3L1582.6 671.2L1579.2 674.3L1583.6 675.7L1583.4 674.5L1589.6 673.1ZM1526.6 679.8L1520.3 681.2L1520.1 680.1L1516.7 683.2L1521.1 684.6L1520.8 683.5L1527.1 682.1ZM1598.6 682.1L1592.3 680.7L1592.6 679.6L1588.2 681.0L1591.6 684.1L1591.8 683.0L1598.1 684.3Z"/><path fill="#1111ff" d="M1562.4 528.1L1556.1 529.3L1555.9 528.2L1552.4 531.1L1556.7 532.7L1556.5 531.5L1562.8 530.4ZM1616.4 529.9L1610.1 528.9L1610.3 527.7L1606.0 529.3L1609.5 532.3L1609.7 531.1L1616.0 532.2ZM1490.9 536.9L1484.6 538.3L1484.4 537.1L1480.9 540.2L1485.3 541.6L1485.1 540.5L1491.3 539.2ZM1499.9 537.2L1493.6 538.2L1493.4 537.1L1489.8 540.0L1494.1 541.6L1493.9 540.5L1500.3 539.4ZM1553.9 538.7L1547.5 537.8L1547.7 536.7L1543.4 538.4L1547.0 541.2L1547.2 540.1L1553.5 541.0ZM1562.8 539.0L1556.5 537.8L1556.8 536.6L1552.4 538.1L1555.9 541.2L1556.1 540.0L1562.4 541.3ZM1491.3 547.8L1485.0 546.7L1485.2 545.6L1480.9 547.2L1484.4 550.1L1484.6 549.0L1490.9 550.1ZM1696.4 653.1L1690.1 654.4L1689.9 653.3L1686.4 656.4L1690.8 657.8L1690.6 656.7L1696.8 655.3ZM1651.8 662.2L1645.5 663.3L1645.3 662.2L1641.7 665.1L1646.0 666.7L1645.9 665.6L1652.2 664.5ZM1696.8 664.0L1690.5 662.9L1690.7 661.8L1686.4 663.3L1689.9 666.3L1690.1 665.2L1696.4 666.2ZM1598.2 671.2L1591.9 672.2L1591.7 671.1L1588.1 674.0L1592.4 675.6L1592.2 674.5L1598.5 673.4ZM1643.2 672.8L1636.9 671.8L1637.0 670.7L1632.8 672.4L1636.4 675.3L1636.6 674.1L1642.9 675.0ZM1652.2 673.1L1645.9 671.8L1646.1 670.7L1641.8 672.1L1645.2 675.2L1645.4 674.0L1651.7 675.4ZM1535.6 680.1L1529.3 681.2L1529.1 680.0L1525.6 683.0L1529.9 684.6L1529.7 683.4L1536.0 682.3ZM1589.6 681.8L1583.3 680.8L1583.5 679.6L1579.2 681.3L1582.7 684.2L1582.9 683.0L1589.3 684.0ZM1455.1 688.8L1448.9 690.2L1448.6 689.0L1445.2 692.1L1449.6 693.5L1449.3 692.4L1455.6 691.1ZM1464.1 689.0L1457.8 690.1L1457.6 689.0L1454.1 691.9L1458.4 693.5L1458.2 692.4L1464.5 691.3ZM1527.1 690.7L1520.7 689.7L1520.9 688.6L1516.6 690.2L1520.2 693.1L1520.4 692.0L1526.7 693.0ZM1536.0 691.0L1529.7 689.7L1530.0 688.5L1525.6 690.0L1529.0 693.0L1529.3 691.9L1535.5 693.2ZM1455.6 699.7L1449.3 698.6L1449.5 697.5L1445.1 699.1L1448.7 702.0L1448.9 700.9L1455.2 702.0ZM1464.5 699.9L1458.3 698.6L1458.5 697.5L1454.1 698.9L1457.6 702.0L1457.8 700.8L1464.1 702.2Z"/><path fill="#0011ff" d="M1571.4 528.4L1565.1 529.2L1564.9 528.1L1561.3 530.9L1565.5 532.6L1565.4 531.5L1571.7 530.7ZM1580.5 528.7L1574.1 529.1L1574.0 528.0L1570.2 530.6L1574.3 532.6L1574.2 531.4L1580.6 531.0ZM1598.5 529.3L1592.1 529.0L1592.1 527.8L1588.0 530.0L1591.9 532.4L1592.0 531.3L1598.4 531.6ZM1607.5 529.6L1601.1 528.9L1601.2 527.8L1597.0 529.7L1600.7 532.4L1600.9 531.2L1607.2 531.9ZM1508.9 537.4L1502.6 538.1L1502.4 537.0L1498.7 539.7L1502.9 541.6L1502.8 540.4L1509.2 539.7ZM1517.9 537.7L1511.5 538.1L1511.5 536.9L1507.6 539.5L1511.8 541.5L1511.7 540.4L1518.1 540.0ZM1544.9 538.5L1538.5 537.9L1538.6 536.7L1534.4 538.7L1538.2 541.3L1538.3 540.2L1544.7 540.7ZM1437.5 546.5L1431.1 547.0L1431.0 545.9L1427.2 548.5L1431.4 550.5L1431.3 549.3L1437.7 548.8ZM1446.5 546.7L1440.1 547.0L1440.0 545.8L1436.1 548.3L1440.2 550.4L1440.2 549.3L1446.6 549.0ZM1473.4 547.4L1467.0 546.8L1467.1 545.7L1463.0 547.6L1466.8 550.3L1466.8 549.1L1473.2 549.6ZM1482.4 547.6L1476.0 546.8L1476.2 545.6L1471.9 547.4L1475.6 550.2L1475.7 549.1L1482.1 549.9ZM1660.8 662.5L1654.5 663.2L1654.3 662.1L1650.6 664.8L1654.8 666.6L1654.7 665.5L1661.1 664.8ZM1687.9 663.6L1681.5 663.0L1681.6 661.8L1677.4 663.7L1681.2 666.4L1681.3 665.2L1687.6 665.9ZM1607.2 671.5L1600.9 672.1L1600.7 671.0L1597.0 673.7L1601.2 675.6L1601.1 674.4L1607.5 673.8ZM1616.2 671.8L1609.9 672.1L1609.8 670.9L1605.9 673.4L1610.0 675.5L1610.0 674.4L1616.3 674.1ZM1634.2 672.4L1627.9 671.9L1628.0 670.8L1623.8 672.7L1627.6 675.4L1627.7 674.2L1634.1 674.7ZM1544.6 680.3L1538.3 681.1L1538.2 680.0L1534.5 682.7L1538.7 684.5L1538.6 683.4L1544.9 682.6ZM1553.7 680.6L1547.3 681.0L1547.2 679.9L1543.4 682.4L1547.5 684.5L1547.4 683.3L1553.8 682.9ZM1571.7 681.2L1565.3 680.9L1565.3 679.7L1561.2 681.9L1565.1 684.3L1565.2 683.2L1571.6 683.5ZM1580.6 681.5L1574.3 680.8L1574.4 679.7L1570.2 681.6L1573.9 684.3L1574.1 683.1L1580.4 683.8ZM1473.2 689.2L1466.8 690.0L1466.7 688.9L1463.0 691.7L1467.2 693.5L1467.1 692.3L1473.4 691.5ZM1482.2 689.5L1475.8 690.0L1475.7 688.8L1471.9 691.5L1476.1 693.4L1476.0 692.3L1482.4 691.8ZM1509.1 690.2L1502.7 689.8L1502.8 688.7L1498.7 690.7L1502.5 693.3L1502.6 692.1L1509.0 692.5ZM1518.1 690.4L1511.7 689.8L1511.9 688.6L1507.6 690.5L1511.4 693.2L1511.5 692.0L1517.9 692.7ZM1437.7 699.3L1431.3 698.7L1431.4 697.6L1427.2 699.5L1431.0 702.2L1431.1 701.0L1437.5 701.6ZM1446.6 699.5L1440.3 698.7L1440.4 697.5L1436.2 699.3L1439.9 702.1L1440.0 701.0L1446.3 701.8Z"/><path fill="#0000ff" d="M1589.5 529.0L1583.1 529.1L1583.1 527.9L1579.1 530.3L1583.1 532.5L1583.1 531.4L1589.5 531.3ZM1526.9 537.9L1520.5 538.0L1520.5 536.9L1516.6 539.2L1520.6 541.5L1520.6 540.3L1527.0 540.2ZM1535.9 538.2L1529.5 537.9L1529.6 536.8L1525.5 538.9L1529.4 541.4L1529.4 540.2L1535.8 540.5ZM1455.5 546.9L1449.1 546.9L1449.1 545.8L1445.1 548.1L1449.1 550.4L1449.1 549.2L1455.5 549.2ZM1464.4 547.1L1458.1 546.9L1458.1 545.7L1454.0 547.9L1457.9 550.3L1458.0 549.2L1464.4 549.4ZM1669.9 662.9L1663.5 663.1L1663.4 662.0L1659.5 664.4L1663.6 666.6L1663.6 665.4L1669.9 665.2ZM1678.9 663.2L1672.5 663.0L1672.5 661.9L1668.4 664.1L1672.4 666.5L1672.4 665.3L1678.8 665.5ZM1625.3 672.1L1618.9 672.0L1618.9 670.8L1614.8 673.1L1618.8 675.4L1618.8 674.3L1625.2 674.4ZM1562.7 680.9L1556.3 681.0L1556.3 679.8L1552.3 682.2L1556.3 684.4L1556.3 683.3L1562.7 683.2ZM1491.2 689.7L1484.8 689.9L1484.7 688.8L1480.8 691.2L1484.9 693.4L1484.9 692.2L1491.2 692.0ZM1500.2 689.9L1493.8 689.9L1493.8 688.7L1489.7 691.0L1493.7 693.3L1493.7 692.2L1500.1 692.2Z"/><path fill="#3399cc" d="M1668.7 542.6L1664.9 537.5L1665.8 536.8L1661.6 535.0L1662.1 539.5L1663.1 538.9L1666.9 544.0ZM1615.1 551.5L1611.3 546.4L1612.2 545.7L1608.0 543.9L1608.5 548.5L1609.5 547.8L1613.3 552.9ZM1552.7 560.4L1548.7 555.4L1549.6 554.6L1545.3 552.9L1546.0 557.5L1546.9 556.8L1550.9 561.8ZM1490.0 569.4L1486.2 564.3L1487.1 563.6L1482.9 561.8L1483.4 566.3L1484.4 565.7L1488.2 570.8ZM1649.0 641.5L1645.2 646.6L1644.3 645.9L1643.7 650.5L1648.0 648.7L1647.0 648.0L1650.9 642.9ZM1595.5 650.4L1591.6 655.6L1590.7 654.9L1590.1 659.4L1594.3 657.6L1593.4 656.9L1597.3 651.8ZM1532.9 659.4L1529.0 664.5L1528.1 663.8L1527.6 668.4L1531.8 666.6L1530.9 665.9L1534.7 660.7ZM1461.4 668.3L1457.6 673.4L1456.6 672.7L1456.1 677.3L1460.3 675.5L1459.4 674.8L1463.2 669.7ZM1695.5 685.6L1691.7 680.4L1692.6 679.8L1688.4 677.9L1689.0 682.5L1689.9 681.8L1693.7 686.9ZM1642.0 694.4L1638.1 689.4L1639.0 688.7L1634.7 686.9L1635.4 691.5L1636.3 690.8L1640.2 695.8ZM1588.4 703.4L1584.5 698.3L1585.4 697.6L1581.1 695.8L1581.7 700.4L1582.7 699.7L1586.5 704.8ZM1525.8 712.3L1521.9 707.2L1522.8 706.5L1518.6 704.8L1519.2 709.3L1520.1 708.6L1524.0 713.7ZM1454.3 721.3L1450.5 716.2L1451.4 715.5L1447.1 713.7L1447.7 718.3L1448.6 717.6L1452.5 722.7ZM1675.8 784.4L1672.0 789.6L1671.1 788.9L1670.6 793.5L1674.8 791.6L1673.9 791.0L1677.6 785.8Z"/><path fill="#33aacc" d="M1677.4 542.9L1674.0 537.5L1674.9 536.9L1670.8 534.8L1671.1 539.4L1672.0 538.7L1675.5 544.1ZM1623.9 551.8L1620.3 546.4L1621.3 545.8L1617.2 543.7L1617.5 548.3L1618.4 547.7L1621.9 553.0ZM1561.4 560.6L1557.7 555.4L1558.7 554.7L1554.5 552.8L1554.9 557.4L1555.9 556.7L1559.5 561.9ZM1570.2 560.8L1566.8 555.4L1567.7 554.8L1563.7 552.6L1563.8 557.2L1564.8 556.6L1568.2 562.0ZM1498.8 569.6L1495.2 564.3L1496.2 563.7L1492.0 561.6L1492.4 566.2L1493.3 565.6L1496.9 570.9ZM1693.5 632.5L1689.9 637.8L1688.9 637.1L1688.6 641.7L1692.7 639.7L1691.8 639.1L1695.4 633.8ZM1639.8 641.4L1636.3 646.7L1635.3 646.1L1635.1 650.7L1639.2 648.6L1638.2 648.0L1641.7 642.6ZM1586.2 650.3L1582.7 655.6L1581.7 655.0L1581.4 659.6L1585.5 657.6L1584.6 656.9L1588.1 651.6ZM1523.7 659.3L1520.1 664.6L1519.2 663.9L1518.9 668.5L1523.0 666.5L1522.0 665.9L1525.6 660.5ZM1443.1 668.1L1439.7 673.6L1438.7 673.0L1438.6 677.6L1442.7 675.4L1441.7 674.8L1445.1 669.4ZM1452.3 668.2L1448.6 673.5L1447.7 672.9L1447.3 677.5L1451.5 675.4L1450.5 674.8L1454.2 669.5ZM1650.7 694.7L1647.1 689.4L1648.1 688.7L1643.9 686.7L1644.3 691.3L1645.2 690.7L1648.8 696.0ZM1597.1 703.6L1593.5 698.3L1594.5 697.7L1590.3 695.7L1590.7 700.3L1591.6 699.6L1595.2 704.9ZM1534.6 712.5L1531.0 707.3L1531.9 706.6L1527.7 704.6L1528.1 709.2L1529.1 708.6L1532.7 713.8ZM1463.1 721.5L1459.5 716.2L1460.4 715.5L1456.3 713.5L1456.6 718.1L1457.6 717.5L1461.2 722.8ZM1471.9 721.6L1468.5 716.2L1469.5 715.6L1465.4 713.4L1465.6 718.0L1466.5 717.4L1469.9 722.9ZM1666.5 784.3L1663.1 789.7L1662.1 789.1L1661.9 793.7L1666.0 791.6L1665.0 790.9L1668.5 785.5Z"/><path fill="#33bbbb" d="M1686.1 543.1L1683.0 537.5L1684.0 537.0L1680.1 534.6L1680.0 539.2L1681.0 538.6L1684.1 544.2ZM1694.7 543.4L1692.1 537.6L1693.1 537.1L1689.3 534.4L1688.9 539.0L1690.0 538.5L1692.7 544.3ZM1641.2 552.2L1638.4 546.5L1639.4 546.0L1635.6 543.4L1635.3 548.0L1636.3 547.5L1639.2 553.2ZM1578.9 561.0L1575.8 555.4L1576.8 554.8L1572.9 552.4L1572.8 557.1L1573.8 556.5L1576.9 562.1ZM1587.6 561.2L1584.8 555.4L1585.9 554.9L1582.1 552.3L1581.7 556.9L1582.7 556.4L1585.5 562.2ZM1516.3 570.0L1513.3 564.3L1514.3 563.8L1510.3 561.4L1510.2 566.0L1511.2 565.4L1514.3 571.1ZM1525.0 570.1L1522.3 564.4L1523.3 563.9L1519.5 561.2L1519.2 565.8L1520.2 565.4L1523.0 571.1ZM1444.7 579.0L1441.8 573.3L1442.8 572.8L1438.9 570.3L1438.7 574.9L1439.8 574.3L1442.7 580.0ZM1453.5 579.1L1450.8 573.3L1451.8 572.8L1448.1 570.2L1447.7 574.8L1448.7 574.3L1451.4 580.1ZM1674.9 632.3L1672.1 638.0L1671.1 637.5L1671.3 642.1L1675.2 639.5L1674.1 639.0L1677.0 633.3ZM1621.3 641.2L1618.5 646.9L1617.4 646.4L1617.8 651.0L1621.6 648.4L1620.5 647.9L1623.3 642.2ZM1567.8 650.1L1564.9 655.8L1563.8 655.3L1564.0 659.9L1567.9 657.4L1566.9 656.9L1569.8 651.2ZM1496.1 659.0L1493.4 664.8L1492.4 664.3L1492.7 668.9L1496.5 666.3L1495.5 665.8L1498.2 660.0ZM1505.3 659.1L1502.3 664.7L1501.3 664.2L1501.4 668.8L1505.3 666.4L1504.3 665.8L1507.3 660.2ZM1668.1 695.1L1665.2 689.4L1666.2 688.9L1662.4 686.4L1662.1 691.0L1663.1 690.5L1666.0 696.2ZM1614.5 704.1L1611.6 698.4L1612.6 697.8L1608.7 695.3L1608.5 700.0L1609.5 699.4L1612.5 705.1ZM1552.0 712.9L1549.0 707.3L1550.0 706.7L1546.1 704.3L1546.0 708.9L1547.0 708.4L1550.0 714.0ZM1560.8 713.1L1558.0 707.3L1559.1 706.8L1555.3 704.2L1554.9 708.8L1555.9 708.3L1558.7 714.1ZM1489.4 722.0L1486.5 716.2L1487.5 715.7L1483.7 713.2L1483.4 717.8L1484.4 717.3L1487.3 723.0ZM1648.0 784.1L1645.3 789.9L1644.2 789.4L1644.7 794.0L1648.4 791.4L1647.4 790.9L1650.1 785.1ZM1657.3 784.2L1654.2 789.8L1653.2 789.3L1653.3 793.9L1657.2 791.5L1656.2 790.9L1659.3 785.3Z"/><path fill="#33bbcc" d="M1632.6 552.0L1629.4 546.5L1630.4 545.9L1626.4 543.6L1626.4 548.2L1627.4 547.6L1630.6 553.2ZM1507.6 569.8L1504.2 564.3L1505.2 563.7L1501.2 561.5L1501.3 566.1L1502.3 565.5L1505.6 571.0ZM1436.0 578.8L1432.8 573.3L1433.8 572.7L1429.8 570.4L1429.8 575.0L1430.8 574.4L1434.0 580.0ZM1684.2 632.4L1681.0 637.9L1680.0 637.3L1679.9 641.9L1684.0 639.6L1683.0 639.0L1686.2 633.5ZM1630.5 641.3L1627.4 646.8L1626.4 646.3L1626.4 650.9L1630.4 648.5L1629.4 648.0L1632.5 642.4ZM1577.0 650.2L1573.8 655.7L1572.8 655.2L1572.7 659.8L1576.7 657.5L1575.7 656.9L1579.0 651.4ZM1514.5 659.2L1511.2 664.7L1510.2 664.1L1510.1 668.7L1514.2 666.4L1513.2 665.8L1516.5 660.4ZM1434.0 668.1L1430.8 673.6L1429.8 673.1L1429.8 677.7L1433.8 675.3L1432.8 674.8L1436.0 669.2ZM1659.4 694.9L1656.2 689.4L1657.1 688.8L1653.1 686.6L1653.2 691.2L1654.2 690.6L1657.4 696.1ZM1605.8 703.8L1602.5 698.3L1603.5 697.8L1599.5 695.5L1599.6 700.1L1600.6 699.5L1603.8 705.0ZM1543.3 712.7L1540.0 707.3L1541.0 706.7L1536.9 704.5L1537.0 709.1L1538.0 708.5L1541.4 713.9ZM1480.6 721.8L1477.5 716.2L1478.5 715.7L1474.5 713.3L1474.5 717.9L1475.5 717.4L1478.6 722.9Z"/><path fill="#33ccaa" d="M1649.9 552.4L1647.4 546.5L1648.5 546.1L1644.8 543.3L1644.3 547.8L1645.3 547.4L1647.8 553.3ZM1596.3 561.4L1593.8 555.5L1594.9 555.0L1591.3 552.2L1590.6 556.8L1591.7 556.3L1594.1 562.3ZM1533.7 570.3L1531.3 564.4L1532.3 563.9L1528.7 561.1L1528.1 565.7L1529.2 565.3L1531.6 571.2ZM1462.3 579.2L1459.8 573.3L1460.9 572.9L1457.2 570.1L1456.6 574.6L1457.7 574.2L1460.1 580.1ZM1471.0 579.4L1468.8 573.4L1469.9 573.0L1466.4 570.0L1465.6 574.5L1466.6 574.1L1468.8 580.2ZM1665.6 632.2L1663.2 638.1L1662.1 637.6L1662.7 642.2L1666.4 639.4L1665.3 639.0L1667.8 633.1ZM1612.0 641.1L1609.6 647.0L1608.5 646.6L1609.1 651.2L1612.8 648.3L1611.7 647.9L1614.1 642.0ZM1549.3 650.0L1547.1 656.0L1546.0 655.6L1546.7 660.1L1550.3 657.2L1549.2 656.8L1551.5 650.8ZM1477.8 658.9L1475.6 665.0L1474.5 664.6L1475.3 669.1L1478.8 666.1L1477.7 665.7L1479.9 659.7ZM1487.0 659.0L1484.5 664.9L1483.4 664.4L1484.0 669.0L1487.7 666.2L1486.6 665.8L1489.1 659.9ZM1676.7 695.4L1674.2 689.5L1675.3 689.0L1671.6 686.2L1671.1 690.8L1672.1 690.4L1674.6 696.3ZM1623.2 704.3L1620.6 698.4L1621.7 697.9L1617.9 695.2L1617.4 699.8L1618.5 699.3L1621.1 705.2ZM1631.8 704.5L1629.6 698.4L1630.7 698.0L1627.2 695.1L1626.4 699.6L1627.5 699.2L1629.7 705.2ZM1569.5 713.3L1567.0 707.4L1568.1 706.9L1564.5 704.1L1563.8 708.7L1564.9 708.2L1567.3 714.1ZM1506.8 722.3L1504.5 716.3L1505.6 715.9L1502.0 713.0L1501.3 717.6L1502.4 717.1L1504.7 723.1ZM1435.2 731.3L1433.1 725.3L1434.2 724.9L1430.6 721.9L1429.8 726.4L1430.9 726.0L1433.1 732.1ZM1692.4 775.1L1690.0 781.0L1688.9 780.6L1689.5 785.2L1693.2 782.4L1692.1 781.9L1694.6 776.0ZM1638.7 784.0L1636.4 790.0L1635.3 789.6L1636.0 794.2L1639.6 791.3L1638.5 790.8L1640.8 784.9Z"/><path fill="#44cc99" d="M1658.5 552.6L1656.5 546.6L1657.6 546.2L1654.1 543.1L1653.2 547.7L1654.3 547.3L1656.4 553.4ZM1604.9 561.6L1602.9 555.5L1604.0 555.1L1600.5 552.1L1599.6 556.6L1600.7 556.2L1602.7 562.3ZM1542.4 570.5L1540.3 564.4L1541.4 564.0L1537.9 561.0L1537.1 565.6L1538.1 565.2L1540.3 571.2ZM1551.1 570.6L1549.3 564.5L1550.4 564.1L1547.1 561.0L1546.0 565.4L1547.1 565.1L1548.9 571.3ZM1479.7 579.5L1477.8 573.4L1478.9 573.0L1475.5 569.9L1474.5 574.4L1475.6 574.1L1477.5 580.2ZM1656.4 632.1L1654.3 638.2L1653.2 637.8L1654.1 642.3L1657.6 639.3L1656.5 638.9L1658.5 632.9ZM1602.7 641.1L1600.7 647.1L1599.6 646.8L1600.5 651.3L1604.0 648.2L1602.9 647.9L1604.9 641.8ZM1540.1 650.0L1538.2 656.1L1537.1 655.7L1538.0 660.2L1541.4 657.1L1540.3 656.8L1542.3 650.7ZM1468.6 658.9L1466.7 665.0L1465.6 664.7L1466.6 669.2L1470.0 666.1L1468.9 665.7L1470.8 659.6ZM1685.4 695.6L1683.3 689.5L1684.4 689.1L1680.9 686.1L1680.0 690.6L1681.1 690.3L1683.2 696.3ZM1640.5 704.6L1638.7 698.5L1639.8 698.2L1636.4 695.0L1635.4 699.5L1636.5 699.1L1638.3 705.3ZM1578.1 713.4L1576.1 707.4L1577.1 707.0L1573.7 704.0L1572.8 708.5L1573.9 708.1L1576.0 714.2ZM1515.6 722.4L1513.5 716.3L1514.6 716.0L1511.2 712.9L1510.3 717.4L1511.3 717.1L1513.4 723.1ZM1444.0 731.4L1442.1 725.3L1443.2 724.9L1439.8 721.8L1438.8 726.3L1439.9 726.0L1441.8 732.1ZM1683.1 775.1L1681.1 781.2L1680.0 780.8L1680.9 785.3L1684.4 782.2L1683.3 781.9L1685.3 775.8ZM1629.4 784.0L1627.5 790.1L1626.4 789.8L1627.4 794.3L1630.8 791.1L1629.7 790.8L1631.6 784.7Z"/><path fill="#44dd88" d="M1667.2 552.8L1665.5 546.6L1666.6 546.3L1663.4 543.0L1662.2 547.5L1663.3 547.2L1664.9 553.4ZM1559.8 570.7L1558.3 564.5L1559.4 564.2L1556.3 560.9L1555.0 565.3L1556.1 565.0L1557.6 571.3ZM1488.5 579.6L1486.8 573.4L1487.9 573.1L1484.7 569.8L1483.5 574.3L1484.6 574.0L1486.2 580.2ZM1497.2 579.7L1495.8 573.5L1496.9 573.2L1493.8 569.8L1492.4 574.2L1493.6 573.9L1494.9 580.2ZM1691.5 623.2L1690.1 629.4L1689.0 629.1L1690.4 633.6L1693.5 630.2L1692.4 629.9L1693.8 623.7ZM1647.1 632.1L1645.4 638.3L1644.3 638.0L1645.5 642.4L1648.8 639.2L1647.6 638.9L1649.3 632.7ZM1530.9 650.0L1529.3 656.2L1528.2 655.9L1529.3 660.3L1532.6 657.0L1531.5 656.7L1533.1 650.6ZM1450.3 658.9L1448.9 665.1L1447.8 664.9L1449.1 669.3L1452.3 665.9L1451.1 665.6L1452.5 659.4ZM1459.4 658.9L1457.8 665.1L1456.7 664.8L1457.9 669.2L1461.1 666.0L1460.0 665.7L1461.7 659.5ZM1694.0 695.8L1692.3 689.6L1693.4 689.3L1690.2 686.0L1689.0 690.5L1690.1 690.2L1691.8 696.4ZM1649.1 704.8L1647.7 698.5L1648.8 698.3L1645.7 694.9L1644.3 699.3L1645.5 699.0L1646.9 705.3ZM1595.5 713.7L1594.1 707.5L1595.2 707.2L1592.1 703.8L1590.7 708.2L1591.8 708.0L1593.2 714.2ZM1533.0 722.7L1531.5 716.4L1532.7 716.2L1529.5 712.8L1528.2 717.2L1529.3 716.9L1530.7 723.2ZM1452.7 731.5L1451.1 725.3L1452.2 725.0L1448.9 721.8L1447.7 726.2L1448.8 725.9L1450.5 732.1ZM1461.5 731.6L1460.1 725.3L1461.2 725.1L1458.1 721.7L1456.7 726.1L1457.8 725.9L1459.2 732.1ZM1673.8 775.1L1672.2 781.3L1671.1 781.0L1672.3 785.4L1675.6 782.1L1674.5 781.8L1676.1 775.6ZM1620.2 784.0L1618.6 790.2L1617.5 789.9L1618.8 794.4L1622.0 791.0L1620.9 790.8L1622.4 784.5Z"/><path fill="#44dd77" d="M1675.8 553.0L1674.5 546.7L1675.7 546.5L1672.7 543.0L1671.2 547.3L1672.3 547.1L1673.5 553.4ZM1622.2 561.9L1620.9 555.6L1622.0 555.4L1619.0 551.9L1617.5 556.3L1618.7 556.1L1620.0 562.3ZM1568.5 570.9L1567.3 564.6L1568.5 564.3L1565.5 560.8L1563.9 565.2L1565.1 565.0L1566.2 571.3ZM1505.9 579.8L1504.8 573.5L1506.0 573.3L1503.0 569.7L1501.4 574.1L1502.5 573.9L1503.6 580.2ZM1637.8 632.1L1636.5 638.4L1635.4 638.1L1636.9 642.5L1639.9 639.0L1638.8 638.8L1640.0 632.5ZM1584.3 641.0L1582.9 647.3L1581.8 647.1L1583.2 651.4L1586.3 648.0L1585.2 647.8L1586.5 641.5ZM1521.7 650.0L1520.4 656.2L1519.3 656.0L1520.7 660.4L1523.7 656.9L1522.6 656.7L1524.0 650.4ZM1441.1 658.9L1440.0 665.2L1438.9 665.0L1440.4 669.3L1443.4 665.8L1442.3 665.6L1443.4 659.3ZM1541.6 722.8L1540.5 716.5L1541.7 716.3L1538.7 712.7L1537.1 717.0L1538.3 716.8L1539.4 723.2ZM1470.2 731.7L1469.1 725.4L1470.2 725.2L1467.2 721.7L1465.7 726.0L1466.8 725.8L1467.9 732.1ZM1664.5 775.1L1663.4 781.3L1662.2 781.1L1663.8 785.5L1666.7 782.0L1665.6 781.8L1666.8 775.5ZM1610.9 784.0L1609.8 790.3L1608.6 790.1L1610.2 794.4L1613.1 790.9L1612.0 790.7L1613.2 784.4Z"/><path fill="#44dd66" d="M1684.4 553.1L1683.6 546.7L1684.7 546.6L1681.9 542.9L1680.1 547.2L1681.3 547.0L1682.1 553.4ZM1630.8 562.0L1629.9 555.7L1631.1 555.5L1628.2 551.9L1626.5 556.1L1627.7 556.0L1628.6 562.3ZM1577.1 571.0L1576.4 564.6L1577.5 564.5L1574.7 560.8L1572.9 565.0L1574.1 564.9L1574.9 571.2ZM1434.3 588.8L1433.4 582.5L1434.5 582.3L1431.7 578.7L1430.0 582.9L1431.1 582.8L1432.0 589.1ZM1682.2 623.2L1681.3 629.5L1680.1 629.3L1681.8 633.6L1684.7 630.0L1683.5 629.8L1684.5 623.5ZM1628.5 632.1L1627.7 638.5L1626.5 638.3L1628.3 642.6L1631.1 638.9L1630.0 638.8L1630.8 632.4ZM1575.0 641.0L1574.0 647.4L1572.9 647.2L1574.6 651.5L1577.5 647.9L1576.3 647.7L1577.3 641.4ZM1512.5 650.0L1511.5 656.3L1510.4 656.1L1512.0 660.4L1514.9 656.8L1513.8 656.7L1514.8 650.3ZM1432.0 658.9L1431.1 665.3L1430.0 665.1L1431.7 669.4L1434.5 665.7L1433.4 665.6L1434.3 659.2ZM1657.7 704.9L1656.7 698.6L1657.9 698.4L1655.0 694.8L1653.3 699.1L1654.5 699.0L1655.5 705.3ZM1604.1 713.9L1603.1 707.5L1604.2 707.4L1601.4 703.8L1599.7 708.1L1600.8 707.9L1601.8 714.2ZM1550.3 722.9L1549.6 716.5L1550.7 716.4L1547.9 712.7L1546.1 716.9L1547.3 716.8L1548.0 723.1ZM1478.9 731.8L1478.1 725.4L1479.2 725.3L1476.4 721.6L1474.6 725.9L1475.8 725.7L1476.6 732.1ZM1655.2 775.1L1654.5 781.4L1653.3 781.3L1655.2 785.5L1657.9 781.8L1656.8 781.7L1657.5 775.4ZM1601.6 784.0L1600.9 790.4L1599.7 790.2L1601.5 794.5L1604.3 790.8L1603.2 790.6L1603.9 784.3Z"/><path fill="#44dd44" d="M1692.9 553.2L1692.6 546.8L1693.7 546.7L1691.2 542.9L1689.2 547.0L1690.3 546.9L1690.6 553.3ZM1585.8 571.1L1585.4 564.7L1586.5 564.6L1584.0 560.8L1581.9 564.9L1583.1 564.8L1583.5 571.2ZM1523.2 580.0L1522.8 573.6L1524.0 573.5L1521.4 569.7L1519.4 573.8L1520.5 573.8L1520.9 580.1ZM1451.7 588.9L1451.4 582.5L1452.5 582.5L1450.0 578.6L1447.9 582.7L1449.1 582.7L1449.4 589.1ZM1556.6 641.1L1556.3 647.5L1555.1 647.5L1557.3 651.6L1559.7 647.6L1558.6 647.6L1558.9 641.2ZM1494.1 650.0L1493.7 656.4L1492.6 656.3L1494.6 660.5L1497.2 656.6L1496.0 656.6L1496.4 650.2ZM1621.4 714.1L1621.1 707.7L1622.3 707.6L1619.9 703.7L1617.7 707.8L1618.8 707.7L1619.1 714.1ZM1559.0 723.0L1558.6 716.6L1559.7 716.5L1557.2 712.6L1555.1 716.8L1556.3 716.7L1556.7 723.1ZM1496.3 731.9L1496.0 725.5L1497.2 725.5L1494.7 721.6L1492.6 725.7L1493.7 725.6L1494.0 732.0ZM1646.0 775.1L1645.6 781.5L1644.5 781.5L1646.6 785.6L1649.1 781.7L1647.9 781.6L1648.3 775.2ZM1592.4 784.1L1592.0 790.4L1590.9 790.4L1592.9 794.5L1595.5 790.6L1594.3 790.6L1594.7 784.2Z"/><path fill="#44dd99" d="M1613.6 561.7L1611.9 555.5L1613.0 555.2L1609.7 552.0L1608.6 556.5L1609.7 556.2L1611.4 562.3ZM1593.5 641.0L1591.8 647.2L1590.7 646.9L1591.9 651.4L1595.1 648.1L1594.0 647.8L1595.7 641.6ZM1586.8 713.6L1585.1 707.4L1586.2 707.1L1582.9 703.9L1581.8 708.4L1582.9 708.1L1584.6 714.2ZM1524.3 722.5L1522.5 716.4L1523.6 716.1L1520.3 712.8L1519.2 717.3L1520.3 717.0L1522.1 723.2Z"/><path fill="#44dd55" d="M1639.5 562.1L1639.0 555.7L1640.1 555.6L1637.5 551.8L1635.5 556.0L1636.7 555.9L1637.2 562.3ZM1514.6 579.9L1513.8 573.6L1515.0 573.4L1512.2 569.7L1510.4 573.9L1511.5 573.8L1512.3 580.2ZM1443.0 588.9L1442.4 582.5L1443.5 582.4L1440.8 578.6L1438.9 582.8L1440.1 582.7L1440.7 589.1ZM1672.9 623.2L1672.4 629.6L1671.3 629.5L1673.2 633.7L1675.8 629.9L1674.7 629.8L1675.2 623.4ZM1619.3 632.2L1618.8 638.5L1617.7 638.5L1619.7 642.6L1622.2 638.8L1621.1 638.7L1621.5 632.3ZM1565.8 641.1L1565.2 647.4L1564.0 647.3L1565.9 651.5L1568.6 647.8L1567.5 647.7L1568.1 641.3ZM1503.3 650.0L1502.6 656.4L1501.5 656.2L1503.3 660.5L1506.0 656.7L1504.9 656.6L1505.6 650.2ZM1666.3 705.0L1665.7 698.7L1666.9 698.6L1664.2 694.8L1662.3 699.0L1663.5 698.9L1664.0 705.2ZM1612.7 714.0L1612.1 707.6L1613.3 707.5L1610.6 703.7L1608.7 707.9L1609.8 707.8L1610.5 714.2ZM1487.6 731.8L1487.0 725.5L1488.2 725.4L1485.6 721.6L1483.6 725.8L1484.8 725.7L1485.3 732.1Z"/><path fill="#44dd33" d="M1648.1 562.2L1648.0 555.8L1649.1 555.8L1646.8 551.8L1644.5 555.8L1645.7 555.8L1645.8 562.2ZM1594.4 571.1L1594.4 564.7L1595.5 564.7L1593.2 560.7L1590.9 564.8L1592.1 564.7L1592.1 571.1ZM1531.9 580.1L1531.8 573.7L1533.0 573.6L1530.6 569.7L1528.4 573.7L1529.5 573.7L1529.6 580.1ZM1460.4 589.0L1460.3 582.6L1461.5 582.6L1459.1 578.6L1456.9 582.6L1458.0 582.6L1458.1 589.0ZM1469.1 589.0L1469.3 582.6L1470.5 582.7L1468.3 578.6L1465.9 582.5L1467.0 582.6L1466.8 589.0ZM1663.6 623.3L1663.5 629.7L1662.4 629.7L1664.6 633.7L1667.0 629.7L1665.8 629.7L1665.9 623.3ZM1610.0 632.2L1609.9 638.6L1608.8 638.6L1611.1 642.6L1613.4 638.6L1612.2 638.6L1612.3 632.2ZM1547.3 641.2L1547.4 647.6L1546.3 647.6L1548.6 651.6L1550.9 647.5L1549.7 647.5L1549.6 641.1ZM1475.8 650.1L1476.0 656.5L1474.8 656.6L1477.2 660.5L1479.4 656.4L1478.3 656.5L1478.1 650.1ZM1484.9 650.1L1484.8 656.5L1483.7 656.5L1485.9 660.5L1488.3 656.5L1487.1 656.5L1487.2 650.1ZM1674.9 705.1L1674.8 698.7L1675.9 698.7L1673.5 694.8L1671.3 698.8L1672.5 698.8L1672.6 705.2ZM1630.0 714.1L1630.2 707.7L1631.3 707.8L1629.1 703.7L1626.7 707.6L1627.9 707.7L1627.7 714.1ZM1567.6 723.0L1567.6 716.6L1568.7 716.6L1566.4 712.6L1564.1 716.7L1565.3 716.6L1565.3 723.0ZM1505.0 732.0L1505.0 725.6L1506.2 725.6L1503.9 721.6L1501.6 725.6L1502.7 725.6L1502.7 732.0ZM1690.4 766.2L1690.3 772.6L1689.2 772.6L1691.4 776.6L1693.8 772.7L1692.6 772.7L1692.7 766.3ZM1636.7 775.2L1636.8 781.6L1635.6 781.6L1638.0 785.6L1640.2 781.6L1639.1 781.6L1639.0 775.2ZM1583.1 784.1L1583.1 790.5L1582.0 790.5L1584.3 794.5L1586.6 790.5L1585.4 790.5L1585.4 784.1Z"/><path fill="#55dd33" d="M1656.7 562.3L1657.0 555.9L1658.1 555.9L1656.0 551.8L1653.5 555.7L1654.7 555.7L1654.4 562.1ZM1603.0 571.2L1603.4 564.8L1604.5 564.9L1602.4 560.7L1599.9 564.6L1601.1 564.7L1600.7 571.1ZM1540.6 580.1L1540.8 573.7L1542.0 573.8L1539.8 569.7L1537.4 573.6L1538.5 573.6L1538.3 580.0ZM1654.4 623.4L1654.7 629.7L1653.5 629.8L1656.0 633.7L1658.1 629.6L1657.0 629.6L1656.7 623.2ZM1600.7 632.3L1601.1 638.7L1599.9 638.7L1602.4 642.6L1604.5 638.5L1603.4 638.6L1603.0 632.2ZM1538.1 641.2L1538.6 647.6L1537.4 647.7L1540.0 651.5L1542.0 647.4L1540.8 647.5L1540.4 641.1ZM1683.5 705.2L1683.8 698.8L1684.9 698.9L1682.8 694.8L1680.3 698.7L1681.5 698.7L1681.2 705.1ZM1576.3 723.1L1576.6 716.7L1577.7 716.7L1575.6 712.6L1573.1 716.5L1574.3 716.6L1574.0 723.0ZM1513.7 732.0L1514.0 725.6L1515.2 725.7L1513.1 721.6L1510.6 725.4L1511.7 725.5L1511.4 731.9ZM1433.4 740.9L1433.6 734.5L1434.7 734.6L1432.6 730.5L1430.1 734.4L1431.3 734.5L1431.1 740.9ZM1681.1 766.3L1681.5 772.7L1680.4 772.8L1682.9 776.6L1684.9 772.5L1683.8 772.6L1683.4 766.2ZM1573.9 784.2L1574.3 790.6L1573.1 790.6L1575.7 794.5L1577.7 790.4L1576.6 790.4L1576.2 784.1Z"/><path fill="#77dd33" d="M1665.2 562.3L1666.0 556.0L1667.1 556.1L1665.3 551.8L1662.6 555.5L1663.7 555.7L1662.9 562.0ZM1611.7 571.2L1612.4 564.9L1613.5 565.0L1611.7 560.8L1608.9 564.5L1610.1 564.6L1609.4 571.0ZM1557.9 580.2L1558.8 573.9L1559.9 574.0L1558.2 569.7L1555.4 573.4L1556.5 573.5L1555.6 579.9ZM1486.5 589.1L1487.3 582.8L1488.4 582.9L1486.6 578.6L1483.9 582.3L1485.0 582.5L1484.2 588.8ZM1645.1 623.5L1645.8 629.8L1644.7 629.9L1647.5 633.6L1649.3 629.4L1648.1 629.5L1647.4 623.2ZM1528.9 641.3L1529.7 647.7L1528.5 647.8L1531.3 651.5L1533.1 647.3L1532.0 647.4L1531.2 641.1ZM1457.5 650.3L1458.2 656.6L1457.1 656.8L1459.8 660.5L1461.6 656.2L1460.5 656.3L1459.7 650.0ZM1692.0 705.3L1692.8 698.9L1693.9 699.0L1692.1 694.8L1689.4 698.5L1690.5 698.6L1689.8 705.0ZM1450.8 741.0L1451.6 734.6L1452.7 734.8L1450.9 730.5L1448.1 734.2L1449.3 734.4L1448.5 740.7ZM1671.9 766.4L1672.7 772.8L1671.5 772.9L1674.3 776.6L1676.1 772.3L1674.9 772.5L1674.1 766.1ZM1618.2 775.4L1619.1 781.7L1617.9 781.9L1620.8 785.5L1622.5 781.3L1621.3 781.4L1620.5 775.1ZM1564.7 784.3L1565.4 790.6L1564.3 790.8L1567.0 794.5L1568.8 790.2L1567.7 790.4L1567.0 784.0Z"/><path fill="#88dd22" d="M1673.8 562.3L1675.0 556.0L1676.1 556.3L1674.6 551.9L1671.6 555.4L1672.7 555.6L1671.5 561.9ZM1620.3 571.3L1621.4 565.0L1622.5 565.2L1620.9 560.8L1618.0 564.4L1619.1 564.6L1618.0 570.9ZM1495.2 589.1L1496.3 582.8L1497.4 583.0L1495.8 578.7L1492.9 582.2L1494.0 582.4L1492.9 588.7ZM1635.8 623.6L1637.0 629.9L1635.9 630.1L1638.9 633.6L1640.4 629.2L1639.3 629.5L1638.1 623.2ZM1582.3 632.5L1583.4 638.8L1582.2 639.0L1585.2 642.5L1586.8 638.2L1585.6 638.4L1584.5 632.1ZM1519.7 641.4L1520.8 647.7L1519.7 647.9L1522.6 651.5L1524.2 647.1L1523.1 647.3L1522.0 641.0ZM1593.5 723.2L1594.6 716.8L1595.7 717.0L1594.1 712.7L1591.2 716.3L1592.3 716.5L1591.2 722.8ZM1662.6 766.6L1663.8 772.8L1662.7 773.1L1665.7 776.5L1667.2 772.2L1666.1 772.4L1664.8 766.1ZM1555.5 784.4L1556.6 790.7L1555.4 790.9L1558.4 794.4L1560.0 790.1L1558.8 790.3L1557.8 784.0Z"/><path fill="#aadd22" d="M1682.4 562.3L1684.0 556.1L1685.1 556.4L1683.9 552.0L1680.7 555.3L1681.8 555.6L1680.1 561.7ZM1628.9 571.3L1630.4 565.0L1631.5 565.3L1630.2 560.9L1627.0 564.2L1628.1 564.5L1626.6 570.7ZM1637.5 571.2L1639.4 565.1L1640.5 565.5L1639.4 561.0L1636.1 564.1L1637.2 564.5L1635.3 570.6ZM1575.2 580.2L1576.8 574.0L1577.9 574.3L1576.7 569.8L1573.4 573.1L1574.6 573.4L1572.9 579.6ZM1512.6 589.1L1514.2 583.0L1515.3 583.3L1514.2 578.8L1510.9 582.1L1512.0 582.4L1510.3 588.5ZM1432.3 598.1L1433.8 591.9L1434.9 592.1L1433.6 587.7L1430.5 591.0L1431.6 591.3L1430.0 597.5ZM1441.0 598.1L1442.8 591.9L1443.9 592.2L1442.8 587.8L1439.5 591.0L1440.6 591.3L1438.8 597.4ZM1671.0 614.9L1672.9 621.0L1671.8 621.4L1675.2 624.5L1676.2 620.0L1675.1 620.4L1673.2 614.2ZM1626.6 623.7L1628.1 629.9L1627.0 630.2L1630.2 633.5L1631.5 629.1L1630.4 629.4L1628.8 623.2ZM1563.9 632.7L1565.7 638.9L1564.6 639.2L1567.9 642.4L1569.0 637.9L1567.9 638.3L1566.1 632.1ZM1501.4 641.6L1503.1 647.8L1502.0 648.1L1505.3 651.4L1506.4 646.9L1505.3 647.2L1503.6 641.0ZM1430.0 650.5L1431.6 656.7L1430.5 657.0L1433.6 660.3L1434.9 655.9L1433.8 656.2L1432.3 650.0ZM1664.3 714.2L1666.2 708.1L1667.3 708.4L1666.2 703.9L1662.8 707.1L1664.0 707.4L1662.1 713.6ZM1610.7 723.1L1612.5 717.0L1613.6 717.3L1612.6 712.8L1609.2 716.0L1610.3 716.4L1608.5 722.5ZM1548.3 732.1L1550.0 725.9L1551.1 726.2L1549.9 721.7L1546.6 725.0L1547.8 725.3L1546.1 731.5ZM1476.9 741.0L1478.5 734.8L1479.6 735.1L1478.3 730.7L1475.1 734.0L1476.3 734.3L1474.7 740.5ZM1485.6 741.0L1487.5 734.9L1488.6 735.2L1487.5 730.7L1484.2 733.9L1485.3 734.2L1483.4 740.4ZM1653.3 766.7L1655.0 772.9L1653.9 773.2L1657.1 776.5L1658.3 772.0L1657.2 772.3L1655.5 766.1ZM1599.7 775.7L1601.4 781.8L1600.3 782.1L1603.5 785.4L1604.7 780.9L1603.6 781.2L1601.9 775.1ZM1537.1 784.6L1538.8 790.8L1537.7 791.1L1541.0 794.3L1542.2 789.8L1541.1 790.2L1539.3 784.0Z"/><path fill="#bbdd22" d="M1690.9 562.3L1693.0 556.2L1694.1 556.6L1693.2 552.1L1689.7 555.1L1690.8 555.5L1688.8 561.6ZM1583.8 580.2L1585.8 574.1L1586.9 574.4L1585.9 569.9L1582.5 573.0L1583.6 573.4L1581.6 579.5ZM1521.2 589.1L1523.2 583.0L1524.3 583.4L1523.4 578.9L1519.9 582.0L1521.0 582.3L1519.0 588.4ZM1449.7 598.0L1451.7 592.0L1452.8 592.3L1451.9 587.8L1448.5 590.9L1449.6 591.2L1447.5 597.3ZM1617.4 623.9L1619.3 630.0L1618.2 630.3L1621.6 633.4L1622.6 628.9L1621.5 629.3L1619.5 623.2ZM1492.2 641.8L1494.2 647.9L1493.1 648.2L1496.6 651.3L1497.5 646.8L1496.4 647.1L1494.4 641.1ZM1557.0 732.1L1559.0 726.0L1560.0 726.3L1559.1 721.8L1555.7 724.9L1556.8 725.3L1554.8 731.4ZM1644.1 766.9L1646.1 773.0L1645.0 773.3L1648.5 776.4L1649.4 771.8L1648.3 772.2L1646.3 766.2ZM1590.5 775.8L1592.5 781.9L1591.4 782.2L1594.9 785.3L1595.8 780.8L1594.7 781.2L1592.7 775.1ZM1527.9 784.8L1530.0 790.8L1528.9 791.2L1532.4 794.2L1533.2 789.7L1532.2 790.1L1530.1 784.0Z"/><path fill="#bbcc22" d="M1646.1 571.2L1648.3 565.2L1649.4 565.6L1648.7 561.1L1645.1 564.0L1646.2 564.4L1643.9 570.4ZM1592.4 580.1L1594.7 574.2L1595.8 574.6L1595.1 570.0L1591.5 572.9L1592.6 573.3L1590.3 579.3ZM1529.9 589.1L1532.2 583.1L1533.3 583.5L1532.5 579.0L1529.0 581.9L1530.0 582.3L1527.8 588.3ZM1458.4 598.0L1460.7 592.0L1461.8 592.4L1461.1 587.9L1457.5 590.8L1458.6 591.2L1456.3 597.2ZM1661.8 615.1L1664.1 621.1L1663.0 621.5L1666.6 624.4L1667.3 619.9L1666.2 620.3L1663.9 614.3ZM1608.1 624.1L1610.5 630.0L1609.4 630.4L1613.0 633.3L1613.7 628.8L1612.6 629.2L1610.3 623.2ZM1554.7 632.9L1556.8 638.9L1555.7 639.3L1559.2 642.3L1560.1 637.8L1559.0 638.2L1556.8 632.1ZM1483.1 641.9L1485.4 647.9L1484.3 648.3L1487.9 651.2L1488.6 646.7L1487.5 647.1L1485.2 641.1ZM1672.9 714.2L1675.1 708.2L1676.2 708.6L1675.5 704.0L1671.9 707.0L1673.0 707.4L1670.7 713.4ZM1619.4 723.1L1621.5 717.1L1622.6 717.5L1621.8 712.9L1618.3 715.9L1619.4 716.3L1617.2 722.3ZM1565.6 732.0L1567.9 726.1L1569.0 726.5L1568.3 721.9L1564.7 724.8L1565.8 725.2L1563.5 731.2ZM1494.3 741.0L1496.4 735.0L1497.5 735.3L1496.7 730.8L1493.2 733.8L1494.3 734.2L1492.1 740.2ZM1503.0 741.0L1505.4 735.0L1506.5 735.5L1505.8 730.9L1502.2 733.7L1503.3 734.2L1500.9 740.1ZM1688.6 758.1L1690.9 764.0L1689.8 764.5L1693.4 767.4L1694.1 762.8L1693.0 763.2L1690.7 757.2ZM1634.9 767.1L1637.3 773.0L1636.2 773.4L1639.9 776.3L1640.5 771.7L1639.4 772.1L1637.0 766.2ZM1581.3 776.0L1583.7 781.9L1582.6 782.3L1586.2 785.2L1586.9 780.6L1585.8 781.1L1583.4 775.1ZM1518.8 784.9L1521.1 790.9L1520.1 791.3L1523.7 794.1L1524.3 789.6L1523.3 790.0L1520.9 784.1Z"/><path fill="#cccc22" d="M1654.6 571.1L1657.3 565.3L1658.4 565.8L1658.0 561.2L1654.2 563.9L1655.2 564.4L1652.6 570.2ZM1601.0 580.1L1603.7 574.3L1604.8 574.7L1604.3 570.2L1600.6 572.8L1601.6 573.3L1598.9 579.1ZM1538.6 589.0L1541.2 583.2L1542.2 583.6L1541.7 579.1L1538.0 581.8L1539.1 582.2L1536.5 588.1ZM1467.1 598.0L1469.7 592.1L1470.7 592.6L1470.2 588.0L1466.5 590.7L1467.6 591.2L1465.0 597.1ZM1475.8 597.9L1478.6 592.2L1479.7 592.7L1479.4 588.1L1475.5 590.7L1476.6 591.2L1473.8 596.9ZM1652.6 615.3L1655.2 621.1L1654.2 621.6L1658.0 624.3L1658.4 619.7L1657.3 620.2L1654.6 614.3ZM1598.9 624.2L1601.6 630.1L1600.6 630.5L1604.3 633.2L1604.8 628.6L1603.7 629.1L1601.0 623.3ZM1536.3 633.2L1539.1 639.0L1538.1 639.5L1541.9 642.1L1542.2 637.5L1541.2 638.0L1538.4 632.2ZM1545.5 633.1L1548.0 639.0L1546.9 639.4L1550.5 642.2L1551.1 637.6L1550.1 638.1L1547.6 632.2ZM1464.8 642.2L1467.6 647.9L1466.6 648.4L1470.4 651.0L1470.7 646.4L1469.7 646.9L1466.9 641.2ZM1474.0 642.0L1476.5 647.9L1475.4 648.4L1479.1 651.1L1479.7 646.5L1478.6 647.0L1476.1 641.1ZM1681.5 714.1L1684.1 708.3L1685.2 708.8L1684.7 704.2L1681.0 706.9L1682.0 707.3L1679.4 713.2ZM1628.0 723.1L1630.5 717.2L1631.6 717.6L1631.0 713.1L1627.3 715.8L1628.4 716.3L1625.9 722.2ZM1574.3 732.0L1576.9 726.2L1578.0 726.6L1577.5 722.0L1573.8 724.7L1574.8 725.2L1572.2 731.0ZM1511.7 740.9L1514.4 735.1L1515.4 735.6L1515.0 731.0L1511.2 733.6L1512.3 734.1L1509.6 739.9ZM1431.4 749.9L1433.9 744.0L1435.0 744.5L1434.5 739.9L1430.8 742.6L1431.8 743.1L1429.3 748.9ZM1440.1 749.8L1442.9 744.1L1443.9 744.6L1443.6 740.0L1439.8 742.6L1440.8 743.1L1438.0 748.8ZM1679.3 758.3L1682.0 764.1L1681.0 764.6L1684.8 767.2L1685.2 762.6L1684.1 763.1L1681.4 757.3ZM1625.6 767.3L1628.5 773.0L1627.4 773.5L1631.3 776.1L1631.6 771.5L1630.5 772.0L1627.7 766.3ZM1572.1 776.2L1574.8 782.0L1573.8 782.4L1577.6 785.1L1578.0 780.5L1576.9 781.0L1574.2 775.2ZM1509.6 785.1L1512.3 790.9L1511.2 791.4L1515.0 794.0L1515.4 789.5L1514.4 789.9L1511.7 784.1Z"/><path fill="#ddbb22" d="M1663.2 571.1L1666.3 565.4L1667.3 566.0L1667.2 561.4L1663.3 563.8L1664.3 564.3L1661.2 570.0ZM1609.7 580.0L1612.7 574.4L1613.7 574.9L1613.6 570.3L1609.6 572.7L1610.7 573.3L1607.6 578.9ZM1618.3 579.9L1621.6 574.5L1622.6 575.1L1622.8 570.5L1618.7 572.6L1619.7 573.2L1616.3 578.7ZM1555.9 588.9L1559.1 583.3L1560.1 583.9L1560.1 579.3L1556.1 581.6L1557.1 582.2L1553.9 587.7ZM1484.5 597.9L1487.6 592.2L1488.6 592.8L1488.5 588.2L1484.6 590.6L1485.6 591.1L1482.5 596.8ZM1493.2 597.8L1496.6 592.3L1497.5 592.9L1497.7 588.3L1493.6 590.5L1494.6 591.1L1491.3 596.6ZM1687.9 606.7L1691.1 612.2L1690.2 612.8L1694.2 615.1L1694.1 610.5L1693.1 611.1L1689.8 605.6ZM1643.3 615.5L1646.4 621.2L1645.4 621.7L1649.3 624.1L1649.4 619.5L1648.4 620.1L1645.4 614.4ZM1580.6 624.7L1583.9 630.1L1583.0 630.7L1587.0 632.9L1586.9 628.3L1585.9 628.9L1582.6 623.5ZM1589.8 624.4L1592.8 630.1L1591.8 630.6L1595.7 633.1L1595.8 628.5L1594.8 629.0L1591.8 623.4ZM1518.1 633.6L1521.4 639.0L1520.4 639.6L1524.5 641.9L1524.3 637.2L1523.4 637.8L1520.0 632.4ZM1527.2 633.4L1530.2 639.0L1529.2 639.6L1533.2 642.0L1533.3 637.4L1532.3 637.9L1529.2 632.3ZM1446.6 642.5L1449.9 648.0L1448.9 648.6L1452.9 650.8L1452.9 646.2L1451.9 646.8L1448.6 641.3ZM1455.7 642.3L1458.8 648.0L1457.8 648.5L1461.7 650.9L1461.8 646.3L1460.8 646.9L1457.7 641.2ZM1690.0 714.0L1693.1 708.4L1694.1 708.9L1694.0 704.3L1690.1 706.7L1691.1 707.3L1688.0 712.9ZM1645.2 722.9L1648.4 717.4L1649.4 718.0L1649.5 713.4L1645.5 715.6L1646.5 716.2L1643.2 721.7ZM1582.9 731.9L1585.9 726.2L1586.9 726.8L1586.7 722.2L1582.8 724.6L1583.8 725.2L1580.9 730.8ZM1591.5 731.8L1594.8 726.3L1595.8 726.9L1595.9 722.3L1591.9 724.6L1592.9 725.1L1589.6 730.6ZM1520.3 740.8L1523.3 735.2L1524.3 735.7L1524.2 731.1L1520.3 733.6L1521.3 734.1L1518.3 739.8ZM1529.0 740.8L1532.3 735.3L1533.3 735.8L1533.3 731.2L1529.3 733.5L1530.3 734.1L1527.0 739.6ZM1448.8 749.8L1451.9 744.1L1452.9 744.7L1452.7 740.1L1448.8 742.5L1449.8 743.0L1446.8 748.7ZM1457.5 749.7L1460.8 744.2L1461.8 744.8L1461.9 740.2L1457.8 742.4L1458.8 743.0L1455.6 748.5ZM1670.1 758.5L1673.2 764.1L1672.2 764.7L1676.2 767.1L1676.2 762.4L1675.2 763.0L1672.1 757.4ZM1616.5 767.5L1619.6 773.1L1618.6 773.6L1622.6 776.0L1622.6 771.3L1621.6 771.9L1618.5 766.4ZM1553.8 776.5L1557.1 782.0L1556.2 782.6L1560.2 784.8L1560.1 780.2L1559.1 780.8L1555.8 775.3ZM1563.0 776.3L1566.0 782.0L1565.0 782.5L1568.9 785.0L1569.0 780.3L1568.0 780.9L1565.0 775.3ZM1491.3 785.4L1494.6 790.9L1493.6 791.5L1497.6 793.8L1497.5 789.2L1496.5 789.8L1493.3 784.2Z"/><path fill="#ddaa22" d="M1671.8 570.9L1675.3 565.5L1676.2 566.2L1676.4 561.6L1672.3 563.7L1673.3 564.3L1669.9 569.7ZM1626.9 579.8L1630.6 574.6L1631.5 575.2L1632.0 570.6L1627.8 572.6L1628.7 573.2L1625.0 578.5ZM1564.5 588.8L1568.0 583.4L1569.0 584.1L1569.3 579.5L1565.2 581.5L1566.1 582.2L1562.6 587.5ZM1501.9 597.7L1505.5 592.4L1506.5 593.0L1506.8 588.4L1502.6 590.5L1503.6 591.1L1500.0 596.4ZM1430.3 606.6L1434.0 601.4L1435.0 602.0L1435.4 597.5L1431.2 599.4L1432.2 600.0L1428.4 605.2ZM1678.7 607.0L1682.3 612.3L1681.4 612.9L1685.5 614.9L1685.2 610.3L1684.2 610.9L1680.6 605.7ZM1625.0 616.0L1628.7 621.2L1627.8 621.9L1632.0 623.8L1631.5 619.2L1630.6 619.8L1626.9 614.7ZM1634.2 615.8L1637.6 621.2L1636.6 621.8L1640.7 623.9L1640.5 619.3L1639.5 620.0L1636.1 614.5ZM1571.4 624.9L1575.1 630.1L1574.2 630.8L1578.3 632.8L1577.9 628.2L1577.0 628.8L1573.3 623.6ZM1508.9 633.8L1512.5 639.1L1511.6 639.7L1515.7 641.7L1515.4 637.1L1514.4 637.8L1510.8 632.5ZM1428.4 642.8L1432.2 648.0L1431.2 648.7L1435.4 650.6L1435.0 646.0L1434.0 646.7L1430.3 641.5ZM1437.5 642.6L1441.0 648.0L1440.1 648.6L1444.2 650.7L1443.9 646.1L1443.0 646.7L1439.4 641.4ZM1653.8 722.8L1657.4 717.5L1658.4 718.2L1658.7 713.6L1654.6 715.5L1655.5 716.2L1651.9 721.5ZM1600.2 731.7L1603.8 726.4L1604.7 727.1L1605.1 722.5L1601.0 724.5L1601.9 725.1L1598.3 730.4ZM1537.7 740.7L1541.2 735.3L1542.2 736.0L1542.5 731.4L1538.4 733.4L1539.3 734.1L1535.8 739.4ZM1466.2 749.6L1469.8 744.3L1470.7 744.9L1471.0 740.3L1466.9 742.4L1467.8 743.0L1464.3 748.4ZM1475.0 749.5L1478.7 744.3L1479.6 745.0L1480.1 740.4L1475.9 742.3L1476.8 743.0L1473.1 748.2ZM1660.9 758.8L1664.4 764.1L1663.4 764.8L1667.5 766.9L1667.3 762.3L1666.3 762.9L1662.9 757.5ZM1607.3 767.7L1610.8 773.1L1609.8 773.7L1613.9 775.8L1613.7 771.2L1612.7 771.8L1609.2 766.5ZM1544.7 776.7L1548.3 782.0L1547.3 782.7L1551.5 784.7L1551.1 780.1L1550.2 780.7L1546.6 775.4ZM1473.1 785.7L1476.8 791.0L1475.9 791.6L1480.1 793.6L1479.6 789.0L1478.7 789.6L1475.0 784.4ZM1482.2 785.6L1485.7 790.9L1484.7 791.6L1488.8 793.7L1488.6 789.1L1487.6 789.7L1484.2 784.3Z"/><path fill="#dd9922" d="M1680.4 570.8L1684.2 565.7L1685.1 566.3L1685.7 561.8L1681.4 563.6L1682.4 564.3L1678.6 569.4ZM1635.5 579.6L1639.6 574.7L1640.4 575.4L1641.2 570.8L1636.9 572.5L1637.8 573.2L1633.7 578.2ZM1573.2 588.7L1577.0 583.5L1577.9 584.2L1578.4 579.6L1574.2 581.5L1575.1 582.2L1571.3 587.3ZM1581.9 588.5L1585.9 583.6L1586.8 584.4L1587.6 579.8L1583.3 581.4L1584.2 582.2L1580.1 587.1ZM1510.6 597.6L1514.5 592.5L1515.4 593.2L1515.9 588.6L1511.7 590.4L1512.6 591.1L1508.8 596.2ZM1519.3 597.5L1523.4 592.6L1524.3 593.3L1525.1 588.7L1520.7 590.4L1521.6 591.1L1517.5 596.0ZM1439.0 606.5L1443.0 601.4L1443.9 602.1L1444.5 597.6L1440.3 599.3L1441.2 600.0L1437.2 605.1ZM1669.5 607.3L1673.5 612.3L1672.6 613.0L1676.9 614.7L1676.2 610.1L1675.3 610.8L1671.3 605.8ZM1615.8 616.3L1619.9 621.2L1619.0 621.9L1623.3 623.6L1622.6 619.0L1621.7 619.7L1617.6 614.8ZM1562.3 625.1L1566.3 630.1L1565.4 630.8L1569.6 632.6L1569.0 628.0L1568.1 628.7L1564.1 623.7ZM1490.7 634.2L1494.8 639.1L1493.9 639.8L1498.3 641.4L1497.5 636.9L1496.6 637.6L1492.5 632.7ZM1499.8 634.0L1503.7 639.1L1502.8 639.8L1507.0 641.6L1506.4 637.0L1505.5 637.7L1501.7 632.6ZM1662.4 722.6L1666.4 717.6L1667.3 718.3L1667.9 713.8L1663.7 715.5L1664.6 716.2L1660.6 721.2ZM1608.8 731.6L1612.7 726.5L1613.7 727.2L1614.3 722.7L1610.0 724.4L1610.9 725.1L1607.0 730.2ZM1546.4 740.6L1550.2 735.4L1551.1 736.1L1551.7 731.5L1547.4 733.4L1548.4 734.1L1544.5 739.2ZM1555.0 740.4L1559.1 735.5L1560.0 736.3L1560.8 731.7L1556.5 733.3L1557.4 734.0L1553.3 739.0ZM1483.7 749.4L1487.7 744.4L1488.6 745.1L1489.2 740.6L1485.0 742.3L1485.9 743.0L1481.9 748.0ZM1651.7 759.0L1655.6 764.2L1654.6 764.8L1658.9 766.7L1658.3 762.1L1657.4 762.8L1653.6 757.7ZM1589.0 768.2L1593.1 773.1L1592.2 773.8L1596.6 775.4L1595.8 770.9L1594.9 771.6L1590.8 766.7ZM1598.1 768.0L1602.0 773.1L1601.0 773.8L1605.3 775.6L1604.7 771.0L1603.8 771.7L1600.0 766.6ZM1535.5 777.0L1539.4 782.0L1538.5 782.7L1542.8 784.5L1542.2 779.9L1541.3 780.6L1537.4 775.6ZM1464.0 785.9L1468.0 791.0L1467.1 791.7L1471.3 793.4L1470.7 788.8L1469.8 789.6L1465.8 784.5Z"/><path fill="#dd8822" d="M1689.0 570.6L1693.2 565.8L1694.0 566.5L1694.9 562.0L1690.5 563.5L1691.4 564.3L1687.3 569.2ZM1644.2 579.5L1648.5 574.8L1649.3 575.6L1650.4 571.1L1646.0 572.4L1646.8 573.2L1642.5 577.9ZM1590.5 588.4L1594.9 583.7L1595.7 584.5L1596.8 580.0L1592.4 581.4L1593.2 582.1L1588.8 586.8ZM1528.0 597.3L1532.3 592.6L1533.2 593.4L1534.2 588.9L1529.8 590.3L1530.7 591.1L1526.3 595.8ZM1447.8 606.4L1451.9 601.5L1452.8 602.3L1453.6 597.7L1449.3 599.3L1450.2 600.0L1446.0 604.9ZM1456.5 606.3L1460.9 601.6L1461.7 602.4L1462.7 597.9L1458.3 599.2L1459.2 600.0L1454.8 604.7ZM1660.3 607.6L1664.7 612.3L1663.8 613.1L1668.2 614.4L1667.2 609.9L1666.4 610.7L1662.0 606.0ZM1606.7 616.5L1611.1 621.2L1610.2 622.0L1614.6 623.4L1613.6 618.9L1612.8 619.6L1608.4 615.0ZM1544.1 625.6L1548.6 630.1L1547.7 630.9L1552.2 632.2L1551.0 627.7L1550.2 628.5L1545.7 624.0ZM1553.2 625.3L1557.4 630.1L1556.5 630.9L1560.9 632.4L1560.0 627.9L1559.1 628.6L1554.9 623.8ZM1481.6 634.4L1486.0 639.1L1485.1 639.9L1489.5 641.2L1488.5 636.7L1487.7 637.5L1483.3 632.8ZM1671.0 722.5L1675.3 717.7L1676.2 718.5L1677.1 714.0L1672.8 715.4L1673.6 716.2L1669.3 720.9ZM1617.4 731.4L1621.7 726.6L1622.6 727.4L1623.5 722.9L1619.1 724.3L1620.0 725.1L1615.7 729.9ZM1563.7 740.3L1568.1 735.6L1568.9 736.4L1570.0 731.9L1565.6 733.3L1566.4 734.0L1562.0 738.7ZM1492.4 749.3L1496.6 744.5L1497.5 745.2L1498.4 740.7L1494.0 742.2L1494.9 743.0L1490.7 747.8ZM1501.1 749.2L1505.5 744.6L1506.4 745.4L1507.5 740.9L1503.1 742.2L1503.9 743.0L1499.4 747.6ZM1687.1 750.5L1691.5 755.2L1690.6 756.0L1695.0 757.4L1694.0 752.9L1693.2 753.7L1688.8 749.0ZM1633.5 759.6L1637.9 764.2L1637.1 765.0L1641.5 766.2L1640.4 761.8L1639.6 762.6L1635.1 758.0ZM1642.6 759.3L1646.7 764.2L1645.9 764.9L1650.2 766.5L1649.4 761.9L1648.5 762.7L1644.3 757.8ZM1579.9 768.5L1584.3 773.1L1583.5 773.9L1587.9 775.2L1586.8 770.7L1586.0 771.5L1581.6 766.9ZM1517.3 777.4L1521.7 782.0L1520.9 782.8L1525.3 784.2L1524.2 779.7L1523.4 780.5L1519.0 775.8ZM1526.4 777.2L1530.6 782.0L1529.7 782.8L1534.1 784.3L1533.2 779.8L1532.3 780.5L1528.2 775.7ZM1445.9 786.3L1450.2 791.0L1449.4 791.8L1453.8 793.1L1452.8 788.6L1451.9 789.4L1447.6 784.7ZM1455.0 786.1L1459.1 791.0L1458.2 791.7L1462.6 793.3L1461.7 788.7L1460.9 789.5L1456.7 784.6Z"/><path fill="#66dd33" d="M1549.2 580.2L1549.8 573.8L1551.0 573.9L1549.0 569.7L1546.4 573.5L1547.5 573.6L1546.9 579.9ZM1477.8 589.1L1478.3 582.7L1479.5 582.8L1477.5 578.6L1474.9 582.4L1476.0 582.5L1475.5 588.9ZM1591.5 632.4L1592.2 638.7L1591.1 638.9L1593.8 642.6L1595.6 638.4L1594.5 638.5L1593.8 632.1ZM1466.6 650.2L1467.1 656.6L1465.9 656.7L1468.5 660.5L1470.5 656.3L1469.4 656.4L1468.9 650.0ZM1638.6 714.2L1639.2 707.8L1640.3 707.9L1638.4 703.7L1635.7 707.5L1636.9 707.6L1636.3 714.0ZM1584.9 723.1L1585.6 716.8L1586.7 716.9L1584.8 712.7L1582.1 716.4L1583.3 716.5L1582.6 722.9ZM1522.3 732.1L1523.0 725.7L1524.2 725.8L1522.3 721.6L1519.6 725.3L1520.7 725.5L1520.1 731.8ZM1442.1 741.0L1442.6 734.6L1443.7 734.7L1441.7 730.5L1439.1 734.3L1440.3 734.4L1439.8 740.8ZM1627.4 775.3L1627.9 781.7L1626.8 781.8L1629.4 785.6L1631.4 781.4L1630.2 781.5L1629.7 775.1Z"/><path fill="#99dd22" d="M1566.5 580.2L1567.8 573.9L1568.9 574.2L1567.5 569.8L1564.4 573.2L1565.5 573.5L1564.3 579.7ZM1503.9 589.1L1505.3 582.9L1506.4 583.1L1505.0 578.7L1501.9 582.1L1503.0 582.4L1501.6 588.6ZM1680.3 614.7L1681.7 621.0L1680.6 621.2L1683.8 624.6L1685.1 620.2L1684.0 620.5L1682.5 614.2ZM1573.1 632.6L1574.5 638.8L1573.4 639.1L1576.5 642.5L1577.9 638.1L1576.8 638.3L1575.3 632.1ZM1510.6 641.5L1512.0 647.8L1510.8 648.0L1513.9 651.4L1515.3 647.0L1514.2 647.3L1512.8 641.0ZM1439.2 650.4L1440.4 656.7L1439.3 656.9L1442.4 660.4L1443.8 656.0L1442.7 656.2L1441.4 650.0ZM1655.7 714.2L1657.2 708.0L1658.3 708.2L1656.9 703.8L1653.8 707.2L1654.9 707.5L1653.5 713.7ZM1602.1 723.2L1603.6 716.9L1604.7 717.2L1603.3 712.8L1600.2 716.2L1601.3 716.4L1599.9 722.7ZM1539.7 732.1L1541.0 725.8L1542.1 726.1L1540.7 721.7L1537.6 725.1L1538.7 725.4L1537.4 731.6ZM1468.2 741.0L1469.5 734.8L1470.6 735.0L1469.2 730.6L1466.1 734.1L1467.3 734.3L1466.0 740.6ZM1608.9 775.5L1610.2 781.8L1609.1 782.0L1612.1 785.5L1613.6 781.1L1612.5 781.3L1611.2 775.1ZM1546.3 784.5L1547.7 790.7L1546.6 791.0L1549.7 794.4L1551.1 790.0L1549.9 790.2L1548.5 784.0Z"/><path fill="#dd7722" d="M1652.8 579.3L1657.4 574.9L1658.2 575.7L1659.5 571.3L1655.1 572.4L1655.9 573.2L1651.2 577.6ZM1599.2 588.2L1603.8 583.8L1604.6 584.7L1605.9 580.2L1601.5 581.3L1602.2 582.1L1597.6 586.6ZM1536.7 597.2L1541.3 592.7L1542.1 593.6L1543.3 589.1L1538.9 590.3L1539.7 591.1L1535.1 595.6ZM1545.4 597.0L1550.2 592.8L1551.0 593.7L1552.5 589.3L1547.9 590.2L1548.7 591.1L1543.9 595.3ZM1465.3 606.2L1469.8 601.7L1470.6 602.5L1471.8 598.0L1467.4 599.2L1468.2 600.0L1463.6 604.5ZM1474.0 606.0L1478.7 601.7L1479.5 602.6L1480.9 598.2L1476.4 599.2L1477.2 600.0L1472.5 604.3ZM1651.2 607.9L1655.9 612.3L1655.1 613.1L1659.5 614.2L1658.2 609.8L1657.4 610.6L1652.8 606.2ZM1597.6 616.8L1602.2 621.2L1601.5 622.0L1605.9 623.1L1604.6 618.7L1603.8 619.5L1599.2 615.1ZM1535.0 625.8L1539.7 630.1L1538.9 631.0L1543.4 632.0L1542.1 627.6L1541.3 628.5L1536.6 624.1ZM1463.5 634.8L1468.3 639.1L1467.5 639.9L1472.0 640.9L1470.6 636.5L1469.8 637.4L1465.1 633.1ZM1472.6 634.6L1477.1 639.1L1476.3 639.9L1480.8 641.1L1479.5 636.6L1478.7 637.4L1474.2 632.9ZM1679.6 722.3L1684.2 717.8L1685.0 718.7L1686.3 714.2L1681.9 715.3L1682.7 716.2L1678.0 720.6ZM1626.1 731.3L1630.6 726.7L1631.4 727.6L1632.7 723.1L1628.2 724.3L1629.0 725.1L1624.5 729.6ZM1634.8 731.1L1639.6 726.8L1640.3 727.7L1641.8 723.3L1637.3 724.2L1638.1 725.1L1633.2 729.3ZM1572.4 740.1L1577.0 735.7L1577.8 736.5L1579.1 732.1L1574.6 733.2L1575.4 734.0L1570.8 738.5ZM1509.8 749.0L1514.5 744.7L1515.3 745.5L1516.6 741.1L1512.1 742.1L1512.9 743.0L1508.2 747.4ZM1429.5 758.0L1434.1 753.6L1434.9 754.4L1436.1 749.9L1431.6 751.1L1432.4 751.9L1427.9 756.4ZM1438.3 757.9L1443.0 753.6L1443.8 754.5L1445.2 750.1L1440.7 751.1L1441.4 751.9L1436.7 756.2ZM1678.0 750.9L1682.7 755.2L1681.9 756.1L1686.4 757.1L1685.0 752.7L1684.2 753.6L1679.6 749.2ZM1624.3 759.9L1629.1 764.2L1628.3 765.0L1632.8 766.0L1631.4 761.6L1630.6 762.5L1625.9 758.2ZM1570.8 768.7L1575.4 773.1L1574.7 773.9L1579.1 775.0L1577.8 770.6L1577.0 771.4L1572.4 767.0ZM1499.2 777.8L1504.0 782.0L1503.3 782.9L1507.8 783.8L1506.3 779.4L1505.5 780.3L1500.7 776.1ZM1508.3 777.6L1512.9 782.0L1512.1 782.9L1516.6 784.0L1515.3 779.5L1514.5 780.4L1509.8 776.0ZM1427.8 786.7L1432.5 791.0L1431.7 791.8L1436.2 792.8L1434.8 788.4L1434.1 789.3L1429.3 785.0ZM1436.8 786.5L1441.4 791.0L1440.6 791.8L1445.0 793.0L1443.8 788.5L1443.0 789.3L1438.5 784.8Z"/><path fill="#dd6622" d="M1661.4 579.1L1666.4 575.0L1667.1 575.9L1668.7 571.6L1664.2 572.3L1664.9 573.2L1660.0 577.3ZM1607.9 588.0L1612.8 583.9L1613.5 584.8L1615.1 580.5L1610.5 581.3L1611.3 582.2L1606.4 586.3ZM1616.5 587.8L1621.7 584.0L1622.4 584.9L1624.2 580.7L1619.6 581.2L1620.3 582.2L1615.2 586.0ZM1554.1 596.9L1559.1 592.9L1559.9 593.8L1561.6 589.5L1557.0 590.2L1557.7 591.1L1552.7 595.1ZM1482.7 605.9L1487.7 601.8L1488.4 602.7L1490.0 598.4L1485.5 599.1L1486.2 600.0L1481.3 604.1ZM1491.5 605.7L1496.6 601.9L1497.3 602.8L1499.1 598.6L1494.5 599.1L1495.2 600.0L1490.1 603.9ZM1686.7 599.4L1691.8 603.3L1691.1 604.2L1695.6 604.8L1693.9 600.6L1693.2 601.5L1688.1 597.6ZM1633.0 608.5L1638.2 612.3L1637.5 613.2L1642.1 613.7L1640.2 609.5L1639.6 610.4L1634.4 606.6ZM1642.1 608.2L1647.0 612.3L1646.3 613.2L1650.8 613.9L1649.2 609.6L1648.5 610.5L1643.6 606.4ZM1579.4 617.4L1584.6 621.2L1583.9 622.1L1588.5 622.7L1586.6 618.4L1585.9 619.3L1580.8 615.5ZM1588.5 617.1L1593.4 621.2L1592.7 622.1L1597.2 622.9L1595.6 618.6L1594.9 619.4L1590.0 615.3ZM1516.9 626.3L1522.0 630.1L1521.3 631.0L1525.9 631.6L1524.1 627.4L1523.4 628.3L1518.3 624.5ZM1525.9 626.0L1530.9 630.1L1530.1 631.0L1534.7 631.8L1533.1 627.5L1532.3 628.4L1527.4 624.3ZM1445.4 635.2L1450.5 639.1L1449.8 640.0L1454.4 640.6L1452.6 636.3L1451.9 637.2L1446.8 633.4ZM1454.5 635.0L1459.4 639.1L1458.7 640.0L1463.2 640.7L1461.6 636.4L1460.9 637.3L1455.9 633.2ZM1688.3 722.0L1693.2 718.0L1693.9 718.8L1695.5 714.5L1691.0 715.3L1691.7 716.2L1686.8 720.3ZM1643.4 730.8L1648.5 727.0L1649.2 727.9L1651.0 723.6L1646.4 724.2L1647.1 725.1L1642.0 729.0ZM1581.1 740.0L1586.0 735.8L1586.7 736.7L1588.3 732.3L1583.7 733.2L1584.5 734.1L1579.6 738.2ZM1589.8 739.8L1594.9 735.9L1595.6 736.8L1597.4 732.6L1592.8 733.1L1593.5 734.1L1588.4 737.9ZM1518.5 748.9L1523.4 744.7L1524.2 745.6L1525.7 741.3L1521.2 742.1L1521.9 743.0L1517.0 747.1ZM1527.3 748.7L1532.3 744.8L1533.0 745.7L1534.8 741.5L1530.2 742.1L1530.9 743.0L1525.9 746.9ZM1447.0 757.8L1451.9 753.7L1452.7 754.6L1454.3 750.2L1449.7 751.0L1450.5 751.9L1445.5 756.0ZM1455.8 757.7L1460.9 753.8L1461.6 754.7L1463.3 750.4L1458.8 751.0L1459.5 751.9L1454.4 755.8ZM1668.9 751.2L1673.8 755.2L1673.1 756.1L1677.7 756.9L1676.0 752.6L1675.3 753.4L1670.3 749.4ZM1615.3 760.2L1620.3 764.2L1619.5 765.1L1624.1 765.8L1622.4 761.5L1621.7 762.4L1616.7 758.4ZM1552.6 769.2L1557.8 773.1L1557.1 774.0L1561.7 774.6L1559.8 770.3L1559.1 771.2L1554.0 767.4ZM1561.7 769.0L1566.6 773.1L1565.9 774.0L1570.4 774.8L1568.8 770.5L1568.1 771.3L1563.2 767.2ZM1490.1 778.1L1495.2 782.0L1494.5 782.9L1499.0 783.6L1497.3 779.3L1496.6 780.2L1491.6 776.3Z"/><path fill="#dd5522" d="M1670.1 578.8L1675.3 575.1L1676.0 576.0L1677.9 571.8L1673.3 572.3L1673.9 573.2L1668.8 577.0ZM1678.8 578.6L1684.2 575.2L1684.8 576.2L1687.0 572.1L1682.4 572.3L1683.0 573.3L1677.6 576.6ZM1625.2 587.6L1630.6 584.1L1631.2 585.1L1633.3 581.0L1628.7 581.2L1629.4 582.2L1624.0 585.7ZM1562.8 596.7L1568.1 593.0L1568.7 593.9L1570.7 589.8L1566.1 590.2L1566.7 591.1L1561.5 594.8ZM1571.5 596.5L1577.0 593.1L1577.6 594.1L1579.8 590.0L1575.2 590.2L1575.8 591.1L1570.3 594.5ZM1500.2 605.6L1505.5 602.0L1506.2 602.9L1508.2 598.8L1503.6 599.1L1504.2 600.1L1498.9 603.6ZM1509.0 605.4L1514.4 602.0L1515.0 603.0L1517.3 599.0L1512.6 599.1L1513.2 600.1L1507.8 603.4ZM1677.6 599.8L1682.9 603.3L1682.3 604.3L1686.9 604.5L1684.8 600.4L1684.2 601.4L1678.9 597.9ZM1428.6 614.4L1434.0 610.9L1434.7 611.9L1436.8 607.8L1432.2 608.0L1432.8 609.0L1427.4 612.5ZM1624.0 608.8L1629.4 612.2L1628.8 613.2L1633.4 613.4L1631.2 609.3L1630.6 610.3L1625.2 606.9ZM1570.4 617.6L1575.7 621.2L1575.1 622.1L1579.7 622.4L1577.6 618.3L1577.0 619.3L1571.7 615.7ZM1498.8 626.8L1504.3 630.1L1503.7 631.1L1508.3 631.2L1506.1 627.1L1505.5 628.1L1500.0 624.8ZM1507.9 626.5L1513.2 630.1L1512.5 631.1L1517.1 631.4L1515.1 627.2L1514.5 628.2L1509.1 624.6ZM1427.4 635.6L1432.8 639.0L1432.2 640.0L1436.8 640.2L1434.7 636.1L1434.0 637.1L1428.6 633.6ZM1436.4 635.4L1441.7 639.0L1441.0 640.0L1445.6 640.4L1443.6 636.2L1443.0 637.2L1437.7 633.5ZM1652.1 730.6L1657.4 727.1L1658.0 728.0L1660.1 723.9L1655.5 724.2L1656.1 725.1L1650.8 728.7ZM1598.5 739.5L1603.8 736.0L1604.4 737.0L1606.5 732.8L1601.9 733.1L1602.5 734.1L1597.2 737.6ZM1536.0 748.5L1541.3 744.9L1541.9 745.9L1543.9 741.7L1539.3 742.1L1540.0 743.0L1534.7 746.6ZM1544.7 748.3L1550.2 745.0L1550.8 746.0L1553.0 741.9L1548.4 742.1L1549.0 743.0L1543.5 746.4ZM1464.5 757.5L1469.8 753.8L1470.4 754.8L1472.4 750.6L1467.8 751.0L1468.5 751.9L1463.2 755.6ZM1473.3 757.3L1478.7 753.9L1479.3 754.9L1481.5 750.8L1476.9 751.0L1477.5 752.0L1472.1 755.4ZM1650.7 751.8L1656.2 755.2L1655.6 756.2L1660.2 756.3L1658.0 752.2L1657.4 753.2L1651.9 749.9ZM1659.8 751.5L1665.0 755.2L1664.4 756.1L1668.9 756.6L1667.0 752.4L1666.4 753.3L1661.1 749.6ZM1597.1 760.8L1602.6 764.1L1602.0 765.1L1606.6 765.2L1604.4 761.2L1603.8 762.2L1598.3 758.8ZM1606.2 760.5L1611.4 764.1L1610.8 765.1L1615.4 765.5L1613.4 761.3L1612.7 762.3L1607.5 758.6ZM1534.6 769.8L1540.1 773.0L1539.5 774.0L1544.1 774.1L1541.8 770.1L1541.2 771.1L1535.7 767.8ZM1543.6 769.5L1548.9 773.1L1548.3 774.0L1552.9 774.3L1550.8 770.2L1550.2 771.2L1544.9 767.6ZM1472.1 778.5L1477.5 782.0L1476.8 783.0L1481.4 783.2L1479.3 779.1L1478.7 780.1L1473.3 776.6ZM1481.1 778.3L1486.3 782.0L1485.7 782.9L1490.2 783.4L1488.3 779.2L1487.7 780.1L1482.4 776.4Z"/><path fill="#dd4422" d="M1687.5 578.3L1693.1 575.3L1693.6 576.4L1696.1 572.5L1691.5 572.3L1692.0 573.3L1686.4 576.3ZM1633.9 587.4L1639.5 584.2L1640.1 585.2L1642.4 581.3L1637.8 581.2L1638.4 582.2L1632.8 585.3ZM1580.3 596.2L1585.9 593.2L1586.4 594.2L1588.9 590.3L1584.3 590.2L1584.8 591.2L1579.2 594.2ZM1517.7 605.2L1523.4 602.1L1523.9 603.1L1526.3 599.2L1521.7 599.1L1522.3 600.1L1516.6 603.2ZM1668.6 600.1L1674.1 603.3L1673.6 604.3L1678.2 604.2L1675.8 600.3L1675.3 601.3L1669.7 598.1ZM1437.4 614.2L1443.0 611.0L1443.5 612.0L1445.8 608.0L1441.2 608.0L1441.8 609.0L1436.3 612.2ZM1446.2 614.1L1451.9 611.1L1452.4 612.1L1454.9 608.2L1450.3 608.0L1450.8 609.0L1445.1 612.0ZM1614.9 609.1L1620.5 612.2L1620.0 613.2L1624.6 613.1L1622.2 609.2L1621.6 610.2L1616.0 607.1ZM1552.3 618.2L1558.0 621.1L1557.5 622.1L1562.1 621.9L1559.6 618.0L1559.1 619.1L1553.4 616.2ZM1561.4 617.9L1566.9 621.1L1566.3 622.1L1570.9 622.2L1568.6 618.2L1568.0 619.2L1562.5 615.9ZM1489.8 627.0L1495.5 630.1L1494.9 631.1L1499.5 631.0L1497.1 627.0L1496.5 628.0L1490.9 625.0ZM1660.8 730.4L1666.3 727.2L1666.9 728.2L1669.2 724.2L1664.6 724.2L1665.2 725.2L1659.6 728.4ZM1607.2 739.3L1612.7 736.1L1613.3 737.1L1615.6 733.1L1611.0 733.1L1611.6 734.1L1606.0 737.3ZM1615.9 739.1L1621.6 736.2L1622.1 737.2L1624.7 733.4L1620.1 733.1L1620.6 734.1L1614.9 737.0ZM1553.5 748.1L1559.1 745.1L1559.6 746.1L1562.1 742.2L1557.5 742.0L1558.0 743.1L1552.4 746.1ZM1482.1 757.2L1487.6 754.0L1488.2 755.0L1490.5 751.0L1485.9 751.0L1486.5 752.0L1480.9 755.2ZM1490.8 757.0L1496.5 754.1L1497.1 755.1L1499.6 751.2L1495.0 751.0L1495.5 752.0L1489.8 754.9ZM1641.7 752.2L1647.4 755.2L1646.8 756.2L1651.4 756.0L1649.0 752.1L1648.4 753.1L1642.8 750.1ZM1588.1 761.1L1593.7 764.1L1593.2 765.1L1597.8 765.0L1595.4 761.0L1594.8 762.1L1589.2 759.0ZM1525.5 770.0L1531.2 773.0L1530.7 774.0L1535.3 773.9L1532.8 770.0L1532.3 771.0L1526.6 768.0ZM1454.1 779.0L1459.7 782.0L1459.2 783.0L1463.8 782.8L1461.3 778.9L1460.8 779.9L1455.1 776.9ZM1463.1 778.8L1468.6 782.0L1468.0 783.0L1472.6 783.0L1470.3 779.0L1469.8 780.0L1464.2 776.8Z"/><path fill="#ccbb22" d="M1547.2 589.0L1550.1 583.3L1551.1 583.8L1550.9 579.2L1547.0 581.7L1548.1 582.2L1545.2 587.9ZM1636.6 723.0L1639.5 717.3L1640.5 717.8L1640.3 713.2L1636.4 715.7L1637.4 716.2L1634.5 721.9ZM1500.5 785.2L1503.4 790.9L1502.4 791.4L1506.3 793.9L1506.5 789.3L1505.5 789.9L1502.5 784.2Z"/><path fill="#dd4411" d="M1642.6 587.1L1648.4 584.3L1648.9 585.4L1651.5 581.6L1646.9 581.2L1647.4 582.3L1641.7 585.0ZM1589.0 596.0L1594.8 593.3L1595.3 594.3L1597.9 590.5L1593.3 590.2L1593.8 591.2L1588.0 593.9ZM1526.5 605.0L1532.3 602.2L1532.8 603.2L1535.4 599.4L1530.8 599.1L1531.3 600.1L1525.5 602.9ZM1659.5 600.5L1665.3 603.2L1664.8 604.3L1669.4 603.9L1666.8 600.1L1666.3 601.2L1660.5 598.4ZM1455.0 613.9L1460.8 611.1L1461.3 612.2L1463.9 608.4L1459.3 608.0L1459.8 609.1L1454.0 611.8ZM1605.9 609.4L1611.7 612.2L1611.2 613.2L1615.8 612.8L1613.2 609.0L1612.7 610.1L1606.9 607.4ZM1480.8 627.3L1486.6 630.0L1486.1 631.1L1490.7 630.7L1488.1 626.9L1487.6 628.0L1481.8 625.2ZM1669.5 730.1L1675.2 727.3L1675.7 728.3L1678.3 724.5L1673.7 724.2L1674.2 725.2L1668.5 728.0ZM1562.2 747.9L1568.0 745.2L1568.5 746.2L1571.1 742.4L1566.5 742.0L1567.0 743.1L1561.2 745.8ZM1686.3 743.4L1692.1 746.2L1691.6 747.2L1696.2 746.9L1693.6 743.1L1693.1 744.1L1687.3 741.4ZM1499.6 756.8L1505.4 754.1L1505.9 755.2L1508.6 751.4L1504.0 751.0L1504.5 752.0L1498.7 754.7ZM1579.1 761.4L1584.9 764.1L1584.4 765.1L1589.0 764.7L1586.3 760.9L1585.9 762.0L1580.1 759.3ZM1516.5 770.3L1522.4 773.0L1521.9 774.0L1526.5 773.6L1523.8 769.9L1523.3 770.9L1517.5 768.2ZM1445.1 779.2L1450.9 781.9L1450.4 783.0L1455.0 782.6L1452.3 778.8L1451.8 779.9L1446.1 777.1Z"/><path fill="#dd3311" d="M1651.4 586.8L1657.3 584.4L1657.7 585.5L1660.6 581.9L1656.0 581.2L1656.5 582.3L1650.5 584.7ZM1660.1 586.5L1666.2 584.5L1666.6 585.6L1669.7 582.2L1665.1 581.3L1665.5 582.3L1659.4 584.3ZM1668.9 586.2L1675.1 584.6L1675.4 585.8L1678.7 582.6L1674.3 581.3L1674.5 582.4L1668.3 584.0ZM1597.8 595.7L1603.7 593.4L1604.1 594.4L1607.0 590.8L1602.4 590.2L1602.9 591.2L1596.9 593.6ZM1606.5 595.5L1612.6 593.5L1613.0 594.6L1616.0 591.1L1611.5 590.2L1611.9 591.3L1605.8 593.3ZM1615.3 595.2L1621.5 593.6L1621.8 594.7L1625.1 591.4L1620.6 590.2L1620.9 591.3L1614.7 593.0ZM1686.2 592.4L1692.4 594.2L1692.0 595.3L1696.5 594.2L1693.3 590.9L1693.0 592.0L1686.8 590.2ZM1535.3 604.7L1541.2 602.3L1541.6 603.3L1544.4 599.7L1539.8 599.1L1540.3 600.2L1534.4 602.6ZM1544.0 604.5L1550.1 602.4L1550.5 603.4L1553.5 599.9L1548.9 599.1L1549.3 600.2L1543.3 602.3ZM1552.8 604.3L1559.0 602.4L1559.3 603.5L1562.5 600.2L1558.0 599.1L1558.3 600.2L1552.2 602.0ZM1632.6 601.5L1638.8 603.1L1638.5 604.2L1642.9 603.0L1639.6 599.7L1639.4 600.9L1633.1 599.3ZM1641.5 601.2L1647.6 603.1L1647.3 604.2L1651.8 603.3L1648.7 599.9L1648.3 601.0L1642.2 599.0ZM1650.5 600.8L1656.5 603.2L1656.0 604.3L1660.6 603.6L1657.7 600.0L1657.3 601.1L1651.4 598.7ZM1463.8 613.7L1469.7 611.2L1470.1 612.3L1472.9 608.6L1468.3 608.0L1468.8 609.1L1462.9 611.6ZM1472.6 613.5L1478.6 611.3L1479.0 612.4L1481.9 608.8L1477.4 608.0L1477.8 609.1L1471.8 611.4ZM1481.4 613.3L1487.5 611.3L1487.9 612.4L1491.0 609.0L1486.4 608.1L1486.8 609.2L1480.7 611.1ZM1490.2 613.1L1496.4 611.4L1496.7 612.5L1500.0 609.3L1495.5 608.1L1495.8 609.2L1489.6 610.9ZM1579.0 610.4L1585.2 612.0L1584.9 613.1L1589.3 612.0L1586.0 608.7L1585.8 609.8L1579.6 608.2ZM1587.9 610.1L1594.0 612.1L1593.6 613.2L1598.2 612.3L1595.1 608.8L1594.7 609.9L1588.7 607.9ZM1596.9 609.8L1602.9 612.1L1602.4 613.2L1607.0 612.5L1604.1 608.9L1603.7 610.0L1597.8 607.6ZM1516.4 619.3L1522.6 621.0L1522.3 622.1L1526.8 620.9L1523.5 617.6L1523.2 618.7L1517.0 617.1ZM1525.4 619.0L1531.5 621.0L1531.1 622.1L1535.6 621.2L1532.5 617.7L1532.2 618.8L1526.1 616.9ZM1534.4 618.8L1540.3 621.1L1539.9 622.1L1544.5 621.4L1541.6 617.8L1541.2 618.9L1535.2 616.6ZM1543.3 618.5L1549.2 621.1L1548.7 622.1L1553.3 621.7L1550.6 617.9L1550.1 619.0L1544.3 616.4ZM1445.0 628.2L1451.1 629.9L1450.8 631.0L1455.3 629.9L1452.0 626.6L1451.7 627.7L1445.6 626.0ZM1453.9 628.0L1460.0 629.9L1459.6 631.0L1464.2 630.1L1461.1 626.7L1460.7 627.8L1454.6 625.8ZM1462.9 627.7L1468.9 630.0L1468.5 631.1L1473.0 630.3L1470.1 626.8L1469.7 627.8L1463.7 625.6ZM1471.8 627.5L1477.7 630.0L1477.3 631.1L1481.9 630.5L1479.1 626.8L1478.6 627.9L1472.7 625.4ZM1678.2 729.8L1684.1 727.4L1684.6 728.5L1687.4 724.8L1682.8 724.2L1683.3 725.3L1677.3 727.7ZM1686.9 729.5L1693.0 727.5L1693.4 728.6L1696.5 725.2L1691.9 724.2L1692.3 725.3L1686.2 727.3ZM1624.6 738.8L1630.5 736.3L1631.0 737.3L1633.8 733.7L1629.2 733.1L1629.6 734.2L1623.7 736.7ZM1633.4 738.5L1639.4 736.4L1639.8 737.5L1642.8 734.0L1638.3 733.1L1638.7 734.2L1632.6 736.4ZM1642.1 738.2L1648.3 736.5L1648.6 737.6L1651.8 734.3L1647.4 733.2L1647.7 734.3L1641.5 736.0ZM1571.0 747.7L1576.9 745.3L1577.3 746.3L1580.2 742.7L1575.6 742.1L1576.0 743.1L1570.1 745.5ZM1579.7 747.4L1585.8 745.3L1586.2 746.4L1589.2 743.0L1584.7 742.1L1585.1 743.2L1579.0 745.2ZM1588.5 747.1L1594.7 745.4L1595.0 746.5L1598.2 743.3L1593.8 742.1L1594.1 743.2L1587.9 744.9ZM1659.4 744.5L1665.6 746.0L1665.3 747.2L1669.8 745.9L1666.4 742.7L1666.1 743.8L1659.9 742.3ZM1668.3 744.2L1674.4 746.1L1674.1 747.2L1678.6 746.2L1675.5 742.8L1675.1 743.9L1669.0 742.0ZM1677.3 743.8L1683.3 746.1L1682.9 747.2L1687.4 746.5L1684.5 742.9L1684.1 744.0L1678.2 741.7ZM1508.4 756.6L1514.4 754.2L1514.8 755.3L1517.7 751.7L1513.1 751.0L1513.5 752.1L1507.6 754.4ZM1517.2 756.3L1523.3 754.3L1523.6 755.4L1526.7 751.9L1522.1 751.0L1522.5 752.1L1516.5 754.2ZM1526.0 756.1L1532.2 754.4L1532.5 755.5L1535.7 752.2L1531.2 751.0L1531.5 752.1L1525.4 753.9ZM1614.7 753.2L1620.9 755.0L1620.5 756.1L1625.0 755.1L1621.8 751.7L1621.5 752.8L1615.4 751.0ZM1623.7 752.8L1629.7 755.1L1629.3 756.1L1633.8 755.4L1630.9 751.8L1630.5 752.9L1624.5 750.7ZM1632.7 752.5L1638.5 755.1L1638.1 756.2L1642.7 755.7L1639.9 752.0L1639.5 753.0L1633.6 750.4ZM1428.1 765.6L1434.0 763.1L1434.4 764.2L1437.2 760.5L1432.6 759.9L1433.1 761.0L1427.2 763.5ZM1436.9 765.4L1442.9 763.2L1443.3 764.2L1446.2 760.7L1441.7 759.9L1442.1 761.0L1436.1 763.3ZM1445.7 765.2L1451.8 763.2L1452.1 764.3L1455.2 760.9L1450.7 760.0L1451.1 761.0L1445.0 763.0ZM1454.5 765.0L1460.7 763.3L1461.0 764.4L1464.2 761.1L1459.7 760.0L1460.0 761.1L1453.9 762.8ZM1552.2 762.3L1558.3 763.9L1558.0 765.0L1562.5 763.9L1559.2 760.6L1558.9 761.7L1552.8 760.0ZM1561.1 762.0L1567.2 764.0L1566.8 765.1L1571.4 764.1L1568.3 760.7L1567.9 761.8L1561.8 759.8ZM1570.1 761.7L1576.1 764.0L1575.6 765.1L1580.2 764.4L1577.3 760.8L1576.9 761.9L1570.9 759.5ZM1480.7 771.3L1486.9 772.8L1486.6 774.0L1491.1 772.7L1487.7 769.5L1487.4 770.6L1481.2 769.1ZM1489.6 771.1L1495.8 772.9L1495.4 774.0L1499.9 772.9L1496.7 769.6L1496.4 770.7L1490.3 768.9ZM1498.6 770.8L1504.6 772.9L1504.3 774.0L1508.8 773.1L1505.8 769.7L1505.4 770.8L1499.3 768.7ZM1507.6 770.6L1513.5 773.0L1513.1 774.0L1517.6 773.4L1514.8 769.8L1514.4 770.8L1508.4 768.4ZM1427.1 779.6L1433.1 781.9L1432.7 783.0L1437.3 782.2L1434.3 778.7L1433.9 779.7L1427.9 777.5ZM1436.1 779.4L1442.0 781.9L1441.5 783.0L1446.1 782.4L1443.3 778.7L1442.9 779.8L1437.0 777.3Z"/><path fill="#dd2211" d="M1677.7 585.9L1684.0 584.7L1684.2 585.9L1687.7 582.9L1683.4 581.3L1683.6 582.5L1677.3 583.6ZM1686.5 585.5L1692.8 584.8L1693.0 586.0L1696.7 583.3L1692.5 581.4L1692.6 582.5L1686.2 583.2ZM1624.1 594.9L1630.4 593.6L1630.6 594.8L1634.1 591.7L1629.7 590.3L1629.9 591.4L1623.6 592.6ZM1632.9 594.6L1639.2 593.7L1639.4 594.9L1643.1 592.1L1638.8 590.3L1638.9 591.4L1632.6 592.3ZM1641.7 594.2L1648.1 593.8L1648.2 595.0L1652.0 592.4L1647.9 590.4L1648.0 591.5L1641.6 591.9ZM1650.6 593.9L1657.0 593.9L1657.0 595.0L1661.0 592.7L1657.0 590.4L1657.0 591.6L1650.6 591.6ZM1659.4 593.5L1665.8 594.0L1665.8 595.1L1669.9 593.1L1666.1 590.5L1666.0 591.7L1659.6 591.2ZM1668.3 593.2L1674.7 594.0L1674.5 595.2L1678.8 593.4L1675.1 590.6L1675.0 591.8L1668.6 590.9ZM1677.3 592.8L1683.5 594.1L1683.3 595.2L1687.7 593.8L1684.2 590.7L1684.0 591.9L1677.7 590.6ZM1561.6 604.0L1567.9 602.5L1568.1 603.6L1571.5 600.5L1567.1 599.2L1567.3 600.3L1561.1 601.8ZM1570.4 603.7L1576.7 602.6L1576.9 603.7L1580.5 600.8L1576.1 599.2L1576.3 600.3L1570.0 601.5ZM1579.3 603.4L1585.6 602.7L1585.8 603.8L1589.5 601.1L1585.2 599.3L1585.4 600.4L1579.0 601.1ZM1588.1 603.1L1594.5 602.8L1594.6 603.9L1598.4 601.4L1594.3 599.3L1594.4 600.5L1588.0 600.8ZM1597.0 602.8L1603.4 602.8L1603.4 604.0L1607.4 601.7L1603.4 599.4L1603.4 600.5L1597.0 600.5ZM1605.8 602.5L1612.2 602.9L1612.2 604.0L1616.3 602.0L1612.4 599.5L1612.4 600.6L1606.0 600.2ZM1614.7 602.2L1621.1 603.0L1620.9 604.1L1625.2 602.3L1621.5 599.5L1621.4 600.7L1615.0 599.9ZM1623.6 601.9L1629.9 603.0L1629.7 604.2L1634.1 602.6L1630.6 599.6L1630.4 600.8L1624.1 599.6ZM1499.0 612.9L1505.3 611.5L1505.5 612.6L1509.0 609.5L1504.6 608.1L1504.8 609.2L1498.6 610.6ZM1507.9 612.6L1514.2 611.5L1514.4 612.7L1517.9 609.7L1513.6 608.1L1513.8 609.3L1507.5 610.3ZM1516.7 612.4L1523.1 611.6L1523.2 612.8L1526.9 610.0L1522.7 608.2L1522.8 609.3L1516.5 610.1ZM1525.6 612.1L1532.0 611.7L1532.0 612.8L1535.9 610.3L1531.7 608.2L1531.8 609.4L1525.4 609.8ZM1534.4 611.8L1540.8 611.7L1540.9 612.9L1544.8 610.5L1540.8 608.3L1540.8 609.4L1534.4 609.5ZM1543.3 611.6L1549.7 611.8L1549.7 613.0L1553.8 610.8L1549.8 608.4L1549.8 609.5L1543.4 609.3ZM1552.2 611.3L1558.6 611.9L1558.5 613.0L1562.7 611.1L1558.9 608.4L1558.8 609.6L1552.4 609.0ZM1561.1 611.0L1567.4 611.9L1567.3 613.1L1571.6 611.4L1568.0 608.5L1567.8 609.7L1561.5 608.7ZM1570.0 610.7L1576.3 612.0L1576.1 613.1L1580.5 611.7L1577.0 608.6L1576.8 609.7L1570.5 608.4ZM1427.5 621.7L1433.8 620.5L1434.0 621.6L1437.5 618.6L1433.1 617.1L1433.4 618.2L1427.1 619.4ZM1436.4 621.5L1442.7 620.5L1442.9 621.6L1446.5 618.8L1442.2 617.1L1442.4 618.2L1436.0 619.2ZM1445.2 621.3L1451.6 620.6L1451.7 621.7L1455.4 619.0L1451.2 617.1L1451.3 618.3L1445.0 619.0ZM1454.1 621.0L1460.5 620.6L1460.6 621.8L1464.4 619.2L1460.3 617.2L1460.3 618.3L1453.9 618.7ZM1463.0 620.8L1469.4 620.7L1469.4 621.8L1473.3 619.4L1469.3 617.2L1469.3 618.4L1462.9 618.5ZM1471.9 620.6L1478.2 620.7L1478.2 621.9L1482.3 619.7L1478.3 617.3L1478.3 618.4L1471.9 618.3ZM1480.7 620.3L1487.1 620.8L1487.0 621.9L1491.2 619.9L1487.4 617.3L1487.3 618.5L1480.9 618.0ZM1489.6 620.1L1496.0 620.8L1495.9 622.0L1500.1 620.1L1496.4 617.4L1496.3 618.5L1489.9 617.8ZM1498.6 619.8L1504.9 620.9L1504.7 622.0L1509.0 620.4L1505.4 617.5L1505.3 618.6L1498.9 617.6ZM1507.5 619.6L1513.7 620.9L1513.5 622.1L1517.9 620.6L1514.5 617.6L1514.2 618.7L1508.0 617.3ZM1427.1 628.6L1433.4 629.8L1433.1 631.0L1437.5 629.5L1434.0 626.5L1433.8 627.6L1427.5 626.4ZM1436.0 628.4L1442.2 629.9L1442.0 631.0L1446.4 629.7L1443.0 626.5L1442.8 627.6L1436.5 626.2ZM1650.9 737.9L1657.2 736.6L1657.4 737.7L1660.9 734.6L1656.5 733.2L1656.7 734.3L1650.4 735.7ZM1659.7 737.6L1666.1 736.7L1666.2 737.8L1669.9 735.0L1665.6 733.3L1665.7 734.4L1659.4 735.3ZM1668.5 737.2L1674.9 736.8L1675.0 737.9L1678.8 735.3L1674.7 733.3L1674.8 734.5L1668.4 734.9ZM1677.4 736.9L1683.8 736.8L1683.8 738.0L1687.8 735.7L1683.8 733.4L1683.8 734.5L1677.4 734.6ZM1686.3 736.5L1692.6 736.9L1692.6 738.1L1696.7 736.0L1692.9 733.5L1692.8 734.6L1686.4 734.2ZM1597.3 746.8L1603.6 745.5L1603.8 746.6L1607.3 743.6L1602.9 742.1L1603.1 743.3L1596.8 744.6ZM1606.1 746.5L1612.5 745.6L1612.6 746.7L1616.2 743.9L1611.9 742.2L1612.1 743.3L1605.8 744.3ZM1615.0 746.2L1621.3 745.7L1621.4 746.8L1625.2 744.2L1621.0 742.2L1621.1 743.4L1614.8 743.9ZM1623.8 745.9L1630.2 745.8L1630.2 746.9L1634.2 744.5L1630.1 742.3L1630.1 743.5L1623.7 743.6ZM1632.7 745.6L1639.1 745.8L1639.0 747.0L1643.1 744.8L1639.2 742.4L1639.2 743.5L1632.8 743.3ZM1641.5 745.2L1647.9 745.9L1647.8 747.1L1652.0 745.2L1648.3 742.5L1648.2 743.6L1641.8 743.0ZM1650.5 744.9L1656.8 746.0L1656.6 747.1L1660.9 745.5L1657.3 742.6L1657.2 743.7L1650.8 742.6ZM1534.8 755.8L1541.0 754.4L1541.3 755.6L1544.7 752.4L1540.3 751.1L1540.5 752.2L1534.3 753.6ZM1543.6 755.6L1549.9 754.5L1550.1 755.6L1553.7 752.7L1549.3 751.1L1549.5 752.2L1543.2 753.3ZM1552.5 755.3L1558.8 754.6L1558.9 755.7L1562.7 753.0L1558.4 751.2L1558.5 752.3L1552.2 753.0ZM1561.3 755.0L1567.7 754.7L1567.8 755.8L1571.6 753.3L1567.5 751.2L1567.6 752.4L1561.2 752.7ZM1570.2 754.7L1576.6 754.7L1576.6 755.9L1580.6 753.6L1576.5 751.3L1576.6 752.4L1570.2 752.4ZM1579.0 754.4L1585.4 754.8L1585.4 755.9L1589.5 753.9L1585.6 751.3L1585.6 752.5L1579.2 752.2ZM1587.9 754.1L1594.3 754.9L1594.2 756.0L1598.4 754.2L1594.7 751.4L1594.6 752.6L1588.2 751.9ZM1596.8 753.8L1603.2 754.9L1603.0 756.0L1607.3 754.5L1603.7 751.5L1603.5 752.6L1597.2 751.6ZM1605.8 753.5L1612.0 755.0L1611.7 756.1L1616.2 754.8L1612.8 751.6L1612.5 752.7L1606.3 751.3ZM1463.3 764.8L1469.6 763.4L1469.8 764.5L1473.2 761.3L1468.8 760.0L1469.0 761.1L1462.8 762.6ZM1472.2 764.6L1478.5 763.4L1478.7 764.5L1482.2 761.5L1477.8 760.0L1478.0 761.2L1471.8 762.3ZM1481.0 764.4L1487.4 763.5L1487.5 764.6L1491.2 761.8L1486.9 760.1L1487.0 761.2L1480.7 762.1ZM1489.9 764.1L1496.2 763.5L1496.4 764.7L1500.1 762.0L1495.9 760.1L1496.0 761.3L1489.7 761.9ZM1498.7 763.9L1505.1 763.6L1505.2 764.8L1509.1 762.3L1505.0 760.2L1505.0 761.3L1498.6 761.6ZM1507.6 763.6L1514.0 763.7L1514.0 764.8L1518.0 762.5L1514.0 760.2L1514.0 761.4L1507.6 761.3ZM1516.5 763.4L1522.9 763.7L1522.8 764.9L1526.9 762.8L1523.1 760.3L1523.0 761.4L1516.6 761.1ZM1525.4 763.1L1531.8 763.8L1531.6 764.9L1535.9 763.1L1532.1 760.3L1532.0 761.5L1525.6 760.8ZM1534.3 762.8L1540.6 763.8L1540.4 765.0L1544.8 763.3L1541.2 760.4L1541.0 761.6L1534.7 760.6ZM1543.2 762.6L1549.5 763.9L1549.3 765.0L1553.6 763.6L1550.2 760.5L1550.0 761.6L1543.7 760.3ZM1427.2 772.7L1433.6 772.6L1433.6 773.7L1437.6 771.3L1433.6 769.1L1433.6 770.3L1427.2 770.4ZM1436.1 772.5L1442.5 772.6L1442.5 773.8L1446.5 771.6L1442.6 769.2L1442.6 770.3L1436.2 770.2ZM1445.0 772.3L1451.4 772.7L1451.3 773.8L1455.5 771.8L1451.6 769.2L1451.5 770.4L1445.2 770.0ZM1453.9 772.0L1460.3 772.7L1460.2 773.9L1464.4 772.0L1460.6 769.3L1460.5 770.4L1454.2 769.8ZM1462.8 771.8L1469.2 772.8L1469.0 773.9L1473.3 772.2L1469.7 769.3L1469.5 770.5L1463.2 769.5ZM1471.8 771.6L1478.0 772.8L1477.8 773.9L1482.2 772.4L1478.7 769.4L1478.5 770.5L1472.2 769.3Z"/><path fill="#88dd33" d="M1689.6 614.6L1690.6 620.9L1689.4 621.1L1692.3 624.7L1694.0 620.4L1692.8 620.6L1691.8 614.2ZM1448.3 650.3L1449.3 656.7L1448.2 656.8L1451.1 660.4L1452.7 656.1L1451.6 656.3L1450.6 650.0ZM1647.2 714.2L1648.2 707.9L1649.3 708.1L1647.7 703.8L1644.8 707.4L1645.9 707.5L1644.9 713.9ZM1531.0 732.1L1532.0 725.8L1533.1 725.9L1531.5 721.6L1528.6 725.2L1529.7 725.4L1528.7 731.7ZM1459.5 741.0L1460.5 734.7L1461.7 734.9L1460.0 730.6L1457.1 734.2L1458.3 734.3L1457.3 740.7Z"/><path fill="#33bbaa" d="M1558.6 650.1L1556.0 655.9L1554.9 655.4L1555.4 660.0L1559.1 657.3L1558.1 656.9L1560.7 651.0ZM1498.1 722.1L1495.5 716.3L1496.6 715.8L1492.8 713.1L1492.4 717.7L1493.4 717.2L1496.0 723.1Z"/></g>
<path d="M1227.6 807.7V512" stroke="#2f6be0" stroke-width="2.9" fill="none"/>
<path d="M1227.6 490.2L1238.4 519.5L1227.6 513.5L1216.8 519.5Z" fill="#2f6be0"/>
<text transform="translate(1156 515.7) scale(1 1.03)" font-size="30" fill="#2f6be0" stroke="#2f6be0" stroke-width="0.35" font-style="italic">μ<tspan font-size="21.5" dy="6">0</tspan><tspan dy="-6">H</tspan></text>
<path d="M1227.6 677.5L1332.2 516.4" stroke="#000" stroke-width="2.0" fill="none"/>
<path d="M1338.6 506.5L1334.9 523.2L1331.5 517.5L1324.9 516.7Z" fill="#000"/>
<path d="M1227.6 603.6A73.4 73.4 0 0 1 1267.2 615.2" stroke="#000" stroke-width="1.6" fill="none"/>
<text transform="translate(1257.8 600.2) scale(1 1.03)" font-size="36.5" text-anchor="middle" fill="#000" stroke="#000" stroke-width="0.35" font-style="italic">θ</text>
<path d="M1075.5 811.8L1075.5 730.6" stroke="#000" stroke-width="2.4" fill="none"/>
<path d="M1075.5 720.9L1081.9 731.7L1075.5 731.7L1069.1 731.7Z" fill="#000"/>
<path d="M1075.5 811.8L1157.1 811.8" stroke="#000" stroke-width="2.4" fill="none"/>
<path d="M1166.8 811.8L1156.0 818.2L1156.0 811.8L1156.0 805.4Z" fill="#000"/>
<circle cx="1075.5" cy="811.8" r="6.9" fill="#fff" stroke="#000" stroke-width="2.8"/><circle cx="1075.5" cy="811.8" r="3" fill="#000"/>
<text transform="translate(1048 775.2) scale(1 1.03)" font-size="33.5" fill="#000" stroke="#000" stroke-width="0.35">z</text>
<text transform="translate(1044 831.6) scale(1 1.03)" font-size="33.5" fill="#000" stroke="#000" stroke-width="0.35">x</text>
<text transform="translate(1112.5 841.5) scale(1 1.03)" font-size="33.5" fill="#000" stroke="#000" stroke-width="0.35">y</text>
<path d="M1566.9 808.0L1566.9 511.6" stroke="#000" stroke-width="1.8" fill="none"/>
<path d="M1566.9 499.9L1573.0 515.5L1566.9 512.8L1560.8 515.5Z" fill="#000"/>
<path d="M1567.0 680.0L1526.1 518.2" stroke="#000" stroke-width="2.0" fill="none"/>
<path d="M1523.2 506.8L1532.9 520.8L1526.4 519.5L1521.3 523.8Z" fill="#000"/>
<path d="M1647.6 585.0L1657.3 599.1L1650.8 597.7L1645.6 602.0Z" fill="#000"/>
<path d="M1650.4 596.5L1682.2 723.9" stroke="#000" stroke-width="2.0" fill="none"/>
<path d="M1685.0 735.4L1675.3 721.3L1681.8 722.7L1687.0 718.4Z" fill="#000"/>
<path d="M1550.8 616.5A65.5 65.5 0 0 1 1567 614.5" stroke="#000" stroke-width="1.3" fill="none"/>
<text transform="translate(1544.5 581) scale(1 1.03)" font-size="35.5" fill="#000" stroke="#000" stroke-width="0.35" font-style="italic">ϕ</text>
<text transform="translate(1706 660.3) scale(1 1.03)" font-size="37.5" fill="#000" stroke="#000" stroke-width="0.35">λ<tspan font-size="28.5" dy="7.3" dx="0.6">m</tspan></text>
<path d="M1407.4 811.8L1407.4 730.6" stroke="#000" stroke-width="2.4" fill="none"/>
<path d="M1407.4 720.9L1413.8 731.7L1407.4 731.7L1401.0 731.7Z" fill="#000"/>
<path d="M1407.4 811.8L1488.5 811.8" stroke="#000" stroke-width="2.4" fill="none"/>
<path d="M1498.2 811.8L1487.4 818.2L1487.4 811.8L1487.4 805.4Z" fill="#000"/>
<circle cx="1407.4" cy="811.8" r="6.9" fill="#fff" stroke="#000" stroke-width="2.8"/><circle cx="1407.4" cy="811.8" r="3" fill="#000"/>
<text transform="translate(1380.8 775.8) scale(1 1.03)" font-size="33.5" fill="#000" stroke="#000" stroke-width="0.35">y</text>
<text transform="translate(1376.3 831.5) scale(1 1.03)" font-size="33.5" fill="#000" stroke="#000" stroke-width="0.35">z</text>
<text transform="translate(1443.7 841.8) scale(1 1.03)" font-size="33.5" fill="#000" stroke="#000" stroke-width="0.35">x</text>
</svg>
</body></html>
